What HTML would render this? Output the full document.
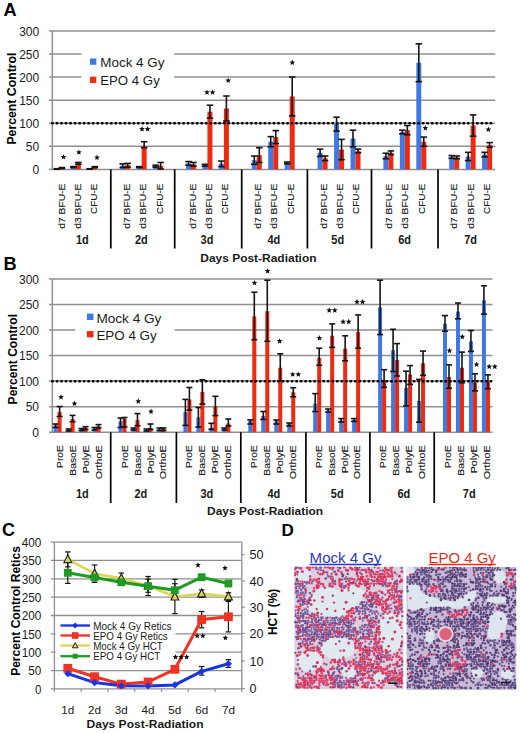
<!DOCTYPE html>
<html><head><meta charset="utf-8"><style>
html,body{margin:0;padding:0;background:#fff;}
svg{display:block;}
text{font-family:"Liberation Sans", sans-serif;}
</style></head><body>
<svg width="520" height="733" viewBox="0 0 520 733">
<rect width="520" height="733" fill="#fff"/>
<text x="3.6" y="16.2" font-size="18.2" font-weight="bold">A</text>
<line x1="49" y1="146.31" x2="495.2" y2="146.31" stroke="#8f8f8f" stroke-width="1.5"/>
<line x1="49" y1="123.23" x2="495.2" y2="123.23" stroke="#8f8f8f" stroke-width="1.5"/>
<line x1="49" y1="100.15" x2="495.2" y2="100.15" stroke="#8f8f8f" stroke-width="1.5"/>
<line x1="49" y1="77.06" x2="495.2" y2="77.06" stroke="#8f8f8f" stroke-width="1.5"/>
<line x1="49" y1="53.98" x2="495.2" y2="53.98" stroke="#8f8f8f" stroke-width="1.5"/>
<line x1="49" y1="30.89" x2="495.2" y2="30.89" stroke="#8f8f8f" stroke-width="1.5"/>
<rect x="81.5" y="48" width="92.7" height="44" fill="#fff"/>
<line x1="52.3" y1="30.9" x2="52.3" y2="169.4" stroke="#8f8f8f" stroke-width="1.5"/>
<line x1="49" y1="169.4" x2="495.2" y2="169.4" stroke="#8f8f8f" stroke-width="1.5"/>
<text x="39.2" y="174.1" font-size="12" text-anchor="end" fill="#1a1a1a">0</text>
<text x="39.2" y="151.01" font-size="12" text-anchor="end" fill="#1a1a1a">50</text>
<text x="39.2" y="127.93" font-size="12" text-anchor="end" fill="#1a1a1a">100</text>
<text x="39.2" y="104.85" font-size="12" text-anchor="end" fill="#1a1a1a">150</text>
<text x="39.2" y="81.76" font-size="12" text-anchor="end" fill="#1a1a1a">200</text>
<text x="39.2" y="58.68" font-size="12" text-anchor="end" fill="#1a1a1a">250</text>
<text x="39.2" y="35.59" font-size="12" text-anchor="end" fill="#1a1a1a">300</text>
<text transform="translate(15.6,98.6) rotate(-90)" font-size="12.3" font-weight="bold" text-anchor="middle" textLength="92" lengthAdjust="spacingAndGlyphs">Percent Control</text>
<rect x="54.4" y="168.94" width="5" height="0.46" fill="#4079e6"/>
<rect x="59.4" y="168.01" width="5" height="1.39" fill="#ee2a10"/>
<rect x="70.85" y="167.09" width="5" height="2.31" fill="#4079e6"/>
<rect x="75.85" y="163.4" width="5" height="6" fill="#ee2a10"/>
<rect x="87.3" y="168.94" width="5" height="0.46" fill="#4079e6"/>
<rect x="92.3" y="167.09" width="5" height="2.31" fill="#ee2a10"/>
<rect x="120.2" y="165.71" width="5" height="3.69" fill="#4079e6"/>
<rect x="125.2" y="165.24" width="5" height="4.16" fill="#ee2a10"/>
<rect x="136.65" y="167.09" width="5" height="2.31" fill="#4079e6"/>
<rect x="141.65" y="146.31" width="5" height="23.09" fill="#ee2a10"/>
<rect x="153.1" y="166.17" width="5" height="3.23" fill="#4079e6"/>
<rect x="158.1" y="165.71" width="5" height="3.69" fill="#ee2a10"/>
<rect x="186" y="163.4" width="5" height="6" fill="#4079e6"/>
<rect x="191" y="164.32" width="5" height="5.08" fill="#ee2a10"/>
<rect x="202.45" y="165.24" width="5" height="4.16" fill="#4079e6"/>
<rect x="207.45" y="111.69" width="5" height="57.71" fill="#ee2a10"/>
<rect x="218.9" y="163.86" width="5" height="5.54" fill="#4079e6"/>
<rect x="223.9" y="108.46" width="5" height="60.94" fill="#ee2a10"/>
<rect x="251.8" y="160.17" width="5" height="9.23" fill="#4079e6"/>
<rect x="256.8" y="155.09" width="5" height="14.31" fill="#ee2a10"/>
<rect x="268.25" y="141.7" width="5" height="27.7" fill="#4079e6"/>
<rect x="273.25" y="137.08" width="5" height="32.32" fill="#ee2a10"/>
<rect x="284.7" y="162.94" width="5" height="6.46" fill="#4079e6"/>
<rect x="289.7" y="96.45" width="5" height="72.95" fill="#ee2a10"/>
<rect x="317.6" y="152.78" width="5" height="16.62" fill="#4079e6"/>
<rect x="322.6" y="158.32" width="5" height="11.08" fill="#ee2a10"/>
<rect x="334.05" y="124.15" width="5" height="45.25" fill="#4079e6"/>
<rect x="339.05" y="149.55" width="5" height="19.85" fill="#ee2a10"/>
<rect x="350.5" y="138.47" width="5" height="30.93" fill="#4079e6"/>
<rect x="355.5" y="150.93" width="5" height="18.47" fill="#ee2a10"/>
<rect x="383.4" y="156.01" width="5" height="13.39" fill="#4079e6"/>
<rect x="388.4" y="152.78" width="5" height="16.62" fill="#ee2a10"/>
<rect x="399.85" y="132" width="5" height="37.4" fill="#4079e6"/>
<rect x="404.85" y="130.16" width="5" height="39.24" fill="#ee2a10"/>
<rect x="416.3" y="62.75" width="5" height="106.65" fill="#4079e6"/>
<rect x="421.3" y="141.7" width="5" height="27.7" fill="#ee2a10"/>
<rect x="449.2" y="156.93" width="5" height="12.47" fill="#4079e6"/>
<rect x="454.2" y="157.4" width="5" height="12" fill="#ee2a10"/>
<rect x="465.65" y="156.47" width="5" height="12.93" fill="#4079e6"/>
<rect x="470.65" y="125.54" width="5" height="43.86" fill="#ee2a10"/>
<rect x="482.1" y="154.63" width="5" height="14.77" fill="#4079e6"/>
<rect x="487.1" y="144.93" width="5" height="24.47" fill="#ee2a10"/>
<line x1="52.2" y1="123.3" x2="492" y2="123.3" stroke="#000" stroke-width="2.4" stroke-dasharray="0.6 3.92" stroke-linecap="round"/>
<line x1="56.9" y1="168.71" x2="56.9" y2="169.17" stroke="#151515" stroke-width="1.6"/>
<line x1="53.65" y1="168.71" x2="60.15" y2="168.71" stroke="#151515" stroke-width="1.6"/>
<line x1="53.65" y1="169.17" x2="60.15" y2="169.17" stroke="#151515" stroke-width="1.6"/>
<line x1="61.9" y1="167.55" x2="61.9" y2="168.48" stroke="#151515" stroke-width="1.6"/>
<line x1="58.65" y1="167.55" x2="65.15" y2="167.55" stroke="#151515" stroke-width="1.6"/>
<line x1="58.65" y1="168.48" x2="65.15" y2="168.48" stroke="#151515" stroke-width="1.6"/>
<line x1="73.35" y1="166.63" x2="73.35" y2="167.55" stroke="#151515" stroke-width="1.6"/>
<line x1="70.1" y1="166.63" x2="76.6" y2="166.63" stroke="#151515" stroke-width="1.6"/>
<line x1="70.1" y1="167.55" x2="76.6" y2="167.55" stroke="#151515" stroke-width="1.6"/>
<line x1="78.35" y1="162.47" x2="78.35" y2="164.32" stroke="#151515" stroke-width="1.6"/>
<line x1="75.1" y1="162.47" x2="81.6" y2="162.47" stroke="#151515" stroke-width="1.6"/>
<line x1="75.1" y1="164.32" x2="81.6" y2="164.32" stroke="#151515" stroke-width="1.6"/>
<line x1="89.8" y1="168.71" x2="89.8" y2="169.17" stroke="#151515" stroke-width="1.6"/>
<line x1="86.55" y1="168.71" x2="93.05" y2="168.71" stroke="#151515" stroke-width="1.6"/>
<line x1="86.55" y1="169.17" x2="93.05" y2="169.17" stroke="#151515" stroke-width="1.6"/>
<line x1="94.8" y1="166.63" x2="94.8" y2="167.55" stroke="#151515" stroke-width="1.6"/>
<line x1="91.55" y1="166.63" x2="98.05" y2="166.63" stroke="#151515" stroke-width="1.6"/>
<line x1="91.55" y1="167.55" x2="98.05" y2="167.55" stroke="#151515" stroke-width="1.6"/>
<line x1="122.7" y1="163.86" x2="122.7" y2="167.55" stroke="#151515" stroke-width="1.6"/>
<line x1="119.45" y1="163.86" x2="125.95" y2="163.86" stroke="#151515" stroke-width="1.6"/>
<line x1="119.45" y1="167.55" x2="125.95" y2="167.55" stroke="#151515" stroke-width="1.6"/>
<line x1="127.7" y1="163.4" x2="127.7" y2="167.09" stroke="#151515" stroke-width="1.6"/>
<line x1="124.45" y1="163.4" x2="130.95" y2="163.4" stroke="#151515" stroke-width="1.6"/>
<line x1="124.45" y1="167.09" x2="130.95" y2="167.09" stroke="#151515" stroke-width="1.6"/>
<line x1="139.15" y1="166.63" x2="139.15" y2="167.55" stroke="#151515" stroke-width="1.6"/>
<line x1="135.9" y1="166.63" x2="142.4" y2="166.63" stroke="#151515" stroke-width="1.6"/>
<line x1="135.9" y1="167.55" x2="142.4" y2="167.55" stroke="#151515" stroke-width="1.6"/>
<line x1="144.15" y1="141.7" x2="144.15" y2="147.7" stroke="#151515" stroke-width="1.6"/>
<line x1="140.9" y1="141.7" x2="147.4" y2="141.7" stroke="#151515" stroke-width="1.6"/>
<line x1="140.9" y1="147.7" x2="147.4" y2="147.7" stroke="#151515" stroke-width="1.6"/>
<line x1="155.6" y1="165.24" x2="155.6" y2="167.09" stroke="#151515" stroke-width="1.6"/>
<line x1="152.35" y1="165.24" x2="158.85" y2="165.24" stroke="#151515" stroke-width="1.6"/>
<line x1="152.35" y1="167.09" x2="158.85" y2="167.09" stroke="#151515" stroke-width="1.6"/>
<line x1="160.6" y1="162.47" x2="160.6" y2="168.94" stroke="#151515" stroke-width="1.6"/>
<line x1="157.35" y1="162.47" x2="163.85" y2="162.47" stroke="#151515" stroke-width="1.6"/>
<line x1="157.35" y1="168.94" x2="163.85" y2="168.94" stroke="#151515" stroke-width="1.6"/>
<line x1="188.5" y1="161.55" x2="188.5" y2="165.24" stroke="#151515" stroke-width="1.6"/>
<line x1="185.25" y1="161.55" x2="191.75" y2="161.55" stroke="#151515" stroke-width="1.6"/>
<line x1="185.25" y1="165.24" x2="191.75" y2="165.24" stroke="#151515" stroke-width="1.6"/>
<line x1="193.5" y1="162.47" x2="193.5" y2="166.17" stroke="#151515" stroke-width="1.6"/>
<line x1="190.25" y1="162.47" x2="196.75" y2="162.47" stroke="#151515" stroke-width="1.6"/>
<line x1="190.25" y1="166.17" x2="196.75" y2="166.17" stroke="#151515" stroke-width="1.6"/>
<line x1="204.95" y1="164.32" x2="204.95" y2="166.17" stroke="#151515" stroke-width="1.6"/>
<line x1="201.7" y1="164.32" x2="208.2" y2="164.32" stroke="#151515" stroke-width="1.6"/>
<line x1="201.7" y1="166.17" x2="208.2" y2="166.17" stroke="#151515" stroke-width="1.6"/>
<line x1="209.95" y1="105.22" x2="209.95" y2="118.15" stroke="#151515" stroke-width="1.6"/>
<line x1="206.7" y1="105.22" x2="213.2" y2="105.22" stroke="#151515" stroke-width="1.6"/>
<line x1="206.7" y1="118.15" x2="213.2" y2="118.15" stroke="#151515" stroke-width="1.6"/>
<line x1="221.4" y1="161.09" x2="221.4" y2="166.63" stroke="#151515" stroke-width="1.6"/>
<line x1="218.15" y1="161.09" x2="224.65" y2="161.09" stroke="#151515" stroke-width="1.6"/>
<line x1="218.15" y1="166.63" x2="224.65" y2="166.63" stroke="#151515" stroke-width="1.6"/>
<line x1="226.4" y1="95.99" x2="226.4" y2="120.92" stroke="#151515" stroke-width="1.6"/>
<line x1="223.15" y1="95.99" x2="229.65" y2="95.99" stroke="#151515" stroke-width="1.6"/>
<line x1="223.15" y1="120.92" x2="229.65" y2="120.92" stroke="#151515" stroke-width="1.6"/>
<line x1="254.3" y1="156.01" x2="254.3" y2="164.32" stroke="#151515" stroke-width="1.6"/>
<line x1="251.05" y1="156.01" x2="257.55" y2="156.01" stroke="#151515" stroke-width="1.6"/>
<line x1="251.05" y1="164.32" x2="257.55" y2="164.32" stroke="#151515" stroke-width="1.6"/>
<line x1="259.3" y1="147.7" x2="259.3" y2="162.47" stroke="#151515" stroke-width="1.6"/>
<line x1="256.05" y1="147.7" x2="262.55" y2="147.7" stroke="#151515" stroke-width="1.6"/>
<line x1="256.05" y1="162.47" x2="262.55" y2="162.47" stroke="#151515" stroke-width="1.6"/>
<line x1="270.75" y1="136.62" x2="270.75" y2="146.78" stroke="#151515" stroke-width="1.6"/>
<line x1="267.5" y1="136.62" x2="274" y2="136.62" stroke="#151515" stroke-width="1.6"/>
<line x1="267.5" y1="146.78" x2="274" y2="146.78" stroke="#151515" stroke-width="1.6"/>
<line x1="275.75" y1="130.62" x2="275.75" y2="143.54" stroke="#151515" stroke-width="1.6"/>
<line x1="272.5" y1="130.62" x2="279" y2="130.62" stroke="#151515" stroke-width="1.6"/>
<line x1="272.5" y1="143.54" x2="279" y2="143.54" stroke="#151515" stroke-width="1.6"/>
<line x1="287.2" y1="162.01" x2="287.2" y2="163.86" stroke="#151515" stroke-width="1.6"/>
<line x1="283.95" y1="162.01" x2="290.45" y2="162.01" stroke="#151515" stroke-width="1.6"/>
<line x1="283.95" y1="163.86" x2="290.45" y2="163.86" stroke="#151515" stroke-width="1.6"/>
<line x1="292.2" y1="77.06" x2="292.2" y2="115.84" stroke="#151515" stroke-width="1.6"/>
<line x1="288.95" y1="77.06" x2="295.45" y2="77.06" stroke="#151515" stroke-width="1.6"/>
<line x1="288.95" y1="115.84" x2="295.45" y2="115.84" stroke="#151515" stroke-width="1.6"/>
<line x1="320.1" y1="149.09" x2="320.1" y2="156.47" stroke="#151515" stroke-width="1.6"/>
<line x1="316.85" y1="149.09" x2="323.35" y2="149.09" stroke="#151515" stroke-width="1.6"/>
<line x1="316.85" y1="156.47" x2="323.35" y2="156.47" stroke="#151515" stroke-width="1.6"/>
<line x1="325.1" y1="156.01" x2="325.1" y2="160.63" stroke="#151515" stroke-width="1.6"/>
<line x1="321.85" y1="156.01" x2="328.35" y2="156.01" stroke="#151515" stroke-width="1.6"/>
<line x1="321.85" y1="160.63" x2="328.35" y2="160.63" stroke="#151515" stroke-width="1.6"/>
<line x1="336.55" y1="117.23" x2="336.55" y2="131.08" stroke="#151515" stroke-width="1.6"/>
<line x1="333.3" y1="117.23" x2="339.8" y2="117.23" stroke="#151515" stroke-width="1.6"/>
<line x1="333.3" y1="131.08" x2="339.8" y2="131.08" stroke="#151515" stroke-width="1.6"/>
<line x1="341.55" y1="139.39" x2="341.55" y2="159.7" stroke="#151515" stroke-width="1.6"/>
<line x1="338.3" y1="139.39" x2="344.8" y2="139.39" stroke="#151515" stroke-width="1.6"/>
<line x1="338.3" y1="159.7" x2="344.8" y2="159.7" stroke="#151515" stroke-width="1.6"/>
<line x1="353" y1="130.16" x2="353" y2="146.78" stroke="#151515" stroke-width="1.6"/>
<line x1="349.75" y1="130.16" x2="356.25" y2="130.16" stroke="#151515" stroke-width="1.6"/>
<line x1="349.75" y1="146.78" x2="356.25" y2="146.78" stroke="#151515" stroke-width="1.6"/>
<line x1="358" y1="149.09" x2="358" y2="152.78" stroke="#151515" stroke-width="1.6"/>
<line x1="354.75" y1="149.09" x2="361.25" y2="149.09" stroke="#151515" stroke-width="1.6"/>
<line x1="354.75" y1="152.78" x2="361.25" y2="152.78" stroke="#151515" stroke-width="1.6"/>
<line x1="385.9" y1="153.24" x2="385.9" y2="158.78" stroke="#151515" stroke-width="1.6"/>
<line x1="382.65" y1="153.24" x2="389.15" y2="153.24" stroke="#151515" stroke-width="1.6"/>
<line x1="382.65" y1="158.78" x2="389.15" y2="158.78" stroke="#151515" stroke-width="1.6"/>
<line x1="390.9" y1="150.93" x2="390.9" y2="154.63" stroke="#151515" stroke-width="1.6"/>
<line x1="387.65" y1="150.93" x2="394.15" y2="150.93" stroke="#151515" stroke-width="1.6"/>
<line x1="387.65" y1="154.63" x2="394.15" y2="154.63" stroke="#151515" stroke-width="1.6"/>
<line x1="402.35" y1="130.16" x2="402.35" y2="133.85" stroke="#151515" stroke-width="1.6"/>
<line x1="399.1" y1="130.16" x2="405.6" y2="130.16" stroke="#151515" stroke-width="1.6"/>
<line x1="399.1" y1="133.85" x2="405.6" y2="133.85" stroke="#151515" stroke-width="1.6"/>
<line x1="407.35" y1="125.54" x2="407.35" y2="134.77" stroke="#151515" stroke-width="1.6"/>
<line x1="404.1" y1="125.54" x2="410.6" y2="125.54" stroke="#151515" stroke-width="1.6"/>
<line x1="404.1" y1="134.77" x2="410.6" y2="134.77" stroke="#151515" stroke-width="1.6"/>
<line x1="418.8" y1="43.82" x2="418.8" y2="81.68" stroke="#151515" stroke-width="1.6"/>
<line x1="415.55" y1="43.82" x2="422.05" y2="43.82" stroke="#151515" stroke-width="1.6"/>
<line x1="415.55" y1="81.68" x2="422.05" y2="81.68" stroke="#151515" stroke-width="1.6"/>
<line x1="423.8" y1="137.08" x2="423.8" y2="146.31" stroke="#151515" stroke-width="1.6"/>
<line x1="420.55" y1="137.08" x2="427.05" y2="137.08" stroke="#151515" stroke-width="1.6"/>
<line x1="420.55" y1="146.31" x2="427.05" y2="146.31" stroke="#151515" stroke-width="1.6"/>
<line x1="451.7" y1="155.55" x2="451.7" y2="158.32" stroke="#151515" stroke-width="1.6"/>
<line x1="448.45" y1="155.55" x2="454.95" y2="155.55" stroke="#151515" stroke-width="1.6"/>
<line x1="448.45" y1="158.32" x2="454.95" y2="158.32" stroke="#151515" stroke-width="1.6"/>
<line x1="456.7" y1="156.01" x2="456.7" y2="158.78" stroke="#151515" stroke-width="1.6"/>
<line x1="453.45" y1="156.01" x2="459.95" y2="156.01" stroke="#151515" stroke-width="1.6"/>
<line x1="453.45" y1="158.78" x2="459.95" y2="158.78" stroke="#151515" stroke-width="1.6"/>
<line x1="468.15" y1="152.32" x2="468.15" y2="160.63" stroke="#151515" stroke-width="1.6"/>
<line x1="464.9" y1="152.32" x2="471.4" y2="152.32" stroke="#151515" stroke-width="1.6"/>
<line x1="464.9" y1="160.63" x2="471.4" y2="160.63" stroke="#151515" stroke-width="1.6"/>
<line x1="473.15" y1="114.92" x2="473.15" y2="136.16" stroke="#151515" stroke-width="1.6"/>
<line x1="469.9" y1="114.92" x2="476.4" y2="114.92" stroke="#151515" stroke-width="1.6"/>
<line x1="469.9" y1="136.16" x2="476.4" y2="136.16" stroke="#151515" stroke-width="1.6"/>
<line x1="484.6" y1="152.32" x2="484.6" y2="156.93" stroke="#151515" stroke-width="1.6"/>
<line x1="481.35" y1="152.32" x2="487.85" y2="152.32" stroke="#151515" stroke-width="1.6"/>
<line x1="481.35" y1="156.93" x2="487.85" y2="156.93" stroke="#151515" stroke-width="1.6"/>
<line x1="489.6" y1="142.62" x2="489.6" y2="147.24" stroke="#151515" stroke-width="1.6"/>
<line x1="486.35" y1="142.62" x2="492.85" y2="142.62" stroke="#151515" stroke-width="1.6"/>
<line x1="486.35" y1="147.24" x2="492.85" y2="147.24" stroke="#151515" stroke-width="1.6"/>
<polygon points="63.5,154 64.29,155.91 66.35,156.07 64.78,157.42 65.26,159.43 63.5,158.35 61.74,159.43 62.22,157.42 60.65,156.07 62.71,155.91" fill="#111"/>
<polygon points="78.9,149.4 79.69,151.31 81.75,151.47 80.18,152.82 80.66,154.83 78.9,153.75 77.14,154.83 77.62,152.82 76.05,151.47 78.11,151.31" fill="#111"/>
<polygon points="97,154.6 97.79,156.51 99.85,156.67 98.28,158.02 98.76,160.03 97,158.95 95.24,160.03 95.72,158.02 94.15,156.67 96.21,156.51" fill="#111"/>
<polygon points="142,126.1 142.79,128.01 144.85,128.17 143.28,129.52 143.76,131.53 142,130.45 140.24,131.53 140.72,129.52 139.15,128.17 141.21,128.01" fill="#111"/>
<polygon points="147.6,126.1 148.39,128.01 150.45,128.17 148.88,129.52 149.36,131.53 147.6,130.45 145.84,131.53 146.32,129.52 144.75,128.17 146.81,128.01" fill="#111"/>
<polygon points="207,89.4 207.79,91.31 209.85,91.47 208.28,92.82 208.76,94.83 207,93.75 205.24,94.83 205.72,92.82 204.15,91.47 206.21,91.31" fill="#111"/>
<polygon points="212.6,89.4 213.39,91.31 215.45,91.47 213.88,92.82 214.36,94.83 212.6,93.75 210.84,94.83 211.32,92.82 209.75,91.47 211.81,91.31" fill="#111"/>
<polygon points="228.2,77.5 228.99,79.41 231.05,79.57 229.48,80.92 229.96,82.93 228.2,81.85 226.44,82.93 226.92,80.92 225.35,79.57 227.41,79.41" fill="#111"/>
<polygon points="292.3,59.6 293.09,61.51 295.15,61.67 293.58,63.02 294.06,65.03 292.3,63.95 290.54,65.03 291.02,63.02 289.45,61.67 291.51,61.51" fill="#111"/>
<polygon points="425.3,125.2 426.09,127.11 428.15,127.27 426.58,128.62 427.06,130.63 425.3,129.55 423.54,130.63 424.02,128.62 422.45,127.27 424.51,127.11" fill="#111"/>
<polygon points="488.4,126.5 489.19,128.41 491.25,128.57 489.68,129.92 490.16,131.93 488.4,130.85 486.64,131.93 487.12,129.92 485.55,128.57 487.61,128.41" fill="#111"/>
<rect x="90" y="58.5" width="6.3" height="6.3" fill="#4079e6"/>
<rect x="90" y="76.7" width="6.3" height="6.3" fill="#ee2a10"/>
<text x="100.2" y="66.8" font-size="12.5" fill="#1a1a1a" textLength="64.4" lengthAdjust="spacingAndGlyphs">Mock 4 Gy</text>
<text x="100.2" y="85" font-size="12.5" fill="#1a1a1a" textLength="59.6" lengthAdjust="spacingAndGlyphs">EPO 4 Gy</text>
<line x1="110.8" y1="169.4" x2="110.8" y2="248.5" stroke="#000" stroke-width="1.7"/>
<line x1="174.7" y1="169.4" x2="174.7" y2="248.5" stroke="#000" stroke-width="1.7"/>
<line x1="241.7" y1="169.4" x2="241.7" y2="248.5" stroke="#000" stroke-width="1.7"/>
<line x1="307.4" y1="169.4" x2="307.4" y2="248.5" stroke="#000" stroke-width="1.7"/>
<line x1="371.5" y1="169.4" x2="371.5" y2="248.5" stroke="#000" stroke-width="1.7"/>
<line x1="438" y1="169.4" x2="438" y2="248.5" stroke="#000" stroke-width="1.7"/>
<text transform="translate(64.6,183.6) rotate(-90)" font-size="9.7" text-anchor="end" fill="#1a1a1a" textLength="45.2" lengthAdjust="spacingAndGlyphs" stroke="#1a1a1a" stroke-width="0.12">d7 BFU-E</text>
<text transform="translate(80.97,183.6) rotate(-90)" font-size="9.7" text-anchor="end" fill="#1a1a1a" textLength="45.2" lengthAdjust="spacingAndGlyphs" stroke="#1a1a1a" stroke-width="0.12">d3 BFU-E</text>
<text transform="translate(97.34,183.6) rotate(-90)" font-size="9.7" text-anchor="end" fill="#1a1a1a" textLength="30.4" lengthAdjust="spacingAndGlyphs" stroke="#1a1a1a" stroke-width="0.12">CFU-E</text>
<text transform="translate(130.08,183.6) rotate(-90)" font-size="9.7" text-anchor="end" fill="#1a1a1a" textLength="45.2" lengthAdjust="spacingAndGlyphs" stroke="#1a1a1a" stroke-width="0.12">d7 BFU-E</text>
<text transform="translate(146.45,183.6) rotate(-90)" font-size="9.7" text-anchor="end" fill="#1a1a1a" textLength="45.2" lengthAdjust="spacingAndGlyphs" stroke="#1a1a1a" stroke-width="0.12">d3 BFU-E</text>
<text transform="translate(162.82,183.6) rotate(-90)" font-size="9.7" text-anchor="end" fill="#1a1a1a" textLength="30.4" lengthAdjust="spacingAndGlyphs" stroke="#1a1a1a" stroke-width="0.12">CFU-E</text>
<text transform="translate(195.56,183.6) rotate(-90)" font-size="9.7" text-anchor="end" fill="#1a1a1a" textLength="45.2" lengthAdjust="spacingAndGlyphs" stroke="#1a1a1a" stroke-width="0.12">d7 BFU-E</text>
<text transform="translate(211.93,183.6) rotate(-90)" font-size="9.7" text-anchor="end" fill="#1a1a1a" textLength="45.2" lengthAdjust="spacingAndGlyphs" stroke="#1a1a1a" stroke-width="0.12">d3 BFU-E</text>
<text transform="translate(228.3,183.6) rotate(-90)" font-size="9.7" text-anchor="end" fill="#1a1a1a" textLength="30.4" lengthAdjust="spacingAndGlyphs" stroke="#1a1a1a" stroke-width="0.12">CFU-E</text>
<text transform="translate(261.04,183.6) rotate(-90)" font-size="9.7" text-anchor="end" fill="#1a1a1a" textLength="45.2" lengthAdjust="spacingAndGlyphs" stroke="#1a1a1a" stroke-width="0.12">d7 BFU-E</text>
<text transform="translate(277.41,183.6) rotate(-90)" font-size="9.7" text-anchor="end" fill="#1a1a1a" textLength="45.2" lengthAdjust="spacingAndGlyphs" stroke="#1a1a1a" stroke-width="0.12">d3 BFU-E</text>
<text transform="translate(293.78,183.6) rotate(-90)" font-size="9.7" text-anchor="end" fill="#1a1a1a" textLength="30.4" lengthAdjust="spacingAndGlyphs" stroke="#1a1a1a" stroke-width="0.12">CFU-E</text>
<text transform="translate(326.52,183.6) rotate(-90)" font-size="9.7" text-anchor="end" fill="#1a1a1a" textLength="45.2" lengthAdjust="spacingAndGlyphs" stroke="#1a1a1a" stroke-width="0.12">d7 BFU-E</text>
<text transform="translate(342.89,183.6) rotate(-90)" font-size="9.7" text-anchor="end" fill="#1a1a1a" textLength="45.2" lengthAdjust="spacingAndGlyphs" stroke="#1a1a1a" stroke-width="0.12">d3 BFU-E</text>
<text transform="translate(359.26,183.6) rotate(-90)" font-size="9.7" text-anchor="end" fill="#1a1a1a" textLength="30.4" lengthAdjust="spacingAndGlyphs" stroke="#1a1a1a" stroke-width="0.12">CFU-E</text>
<text transform="translate(392,183.6) rotate(-90)" font-size="9.7" text-anchor="end" fill="#1a1a1a" textLength="45.2" lengthAdjust="spacingAndGlyphs" stroke="#1a1a1a" stroke-width="0.12">d7 BFU-E</text>
<text transform="translate(408.37,183.6) rotate(-90)" font-size="9.7" text-anchor="end" fill="#1a1a1a" textLength="45.2" lengthAdjust="spacingAndGlyphs" stroke="#1a1a1a" stroke-width="0.12">d3 BFU-E</text>
<text transform="translate(424.74,183.6) rotate(-90)" font-size="9.7" text-anchor="end" fill="#1a1a1a" textLength="30.4" lengthAdjust="spacingAndGlyphs" stroke="#1a1a1a" stroke-width="0.12">CFU-E</text>
<text transform="translate(457.48,183.6) rotate(-90)" font-size="9.7" text-anchor="end" fill="#1a1a1a" textLength="45.2" lengthAdjust="spacingAndGlyphs" stroke="#1a1a1a" stroke-width="0.12">d7 BFU-E</text>
<text transform="translate(473.85,183.6) rotate(-90)" font-size="9.7" text-anchor="end" fill="#1a1a1a" textLength="45.2" lengthAdjust="spacingAndGlyphs" stroke="#1a1a1a" stroke-width="0.12">d3 BFU-E</text>
<text transform="translate(490.22,183.6) rotate(-90)" font-size="9.7" text-anchor="end" fill="#1a1a1a" textLength="30.4" lengthAdjust="spacingAndGlyphs" stroke="#1a1a1a" stroke-width="0.12">CFU-E</text>
<text x="82.3" y="243.9" font-size="12.3" font-weight="bold" text-anchor="middle" fill="#1a1a1a" textLength="12.8" lengthAdjust="spacingAndGlyphs">1d</text>
<text x="141.4" y="243.9" font-size="12.3" font-weight="bold" text-anchor="middle" fill="#1a1a1a" textLength="12.8" lengthAdjust="spacingAndGlyphs">2d</text>
<text x="207" y="243.9" font-size="12.3" font-weight="bold" text-anchor="middle" fill="#1a1a1a" textLength="12.8" lengthAdjust="spacingAndGlyphs">3d</text>
<text x="273.8" y="243.9" font-size="12.3" font-weight="bold" text-anchor="middle" fill="#1a1a1a" textLength="12.8" lengthAdjust="spacingAndGlyphs">4d</text>
<text x="337.7" y="243.9" font-size="12.3" font-weight="bold" text-anchor="middle" fill="#1a1a1a" textLength="12.8" lengthAdjust="spacingAndGlyphs">5d</text>
<text x="404.6" y="243.9" font-size="12.3" font-weight="bold" text-anchor="middle" fill="#1a1a1a" textLength="12.8" lengthAdjust="spacingAndGlyphs">6d</text>
<text x="470.6" y="243.9" font-size="12.3" font-weight="bold" text-anchor="middle" fill="#1a1a1a" textLength="12.8" lengthAdjust="spacingAndGlyphs">7d</text>
<text x="258.4" y="261.8" font-size="11.5" font-weight="bold" text-anchor="middle" fill="#1a1a1a" textLength="116.3" lengthAdjust="spacingAndGlyphs">Days Post-Radiation</text>
<text x="3.6" y="270" font-size="18.2" font-weight="bold">B</text>
<line x1="49" y1="406.65" x2="492.5" y2="406.65" stroke="#8f8f8f" stroke-width="1.5"/>
<line x1="49" y1="381.1" x2="492.5" y2="381.1" stroke="#8f8f8f" stroke-width="1.5"/>
<line x1="49" y1="355.55" x2="492.5" y2="355.55" stroke="#8f8f8f" stroke-width="1.5"/>
<line x1="49" y1="330" x2="492.5" y2="330" stroke="#8f8f8f" stroke-width="1.5"/>
<line x1="49" y1="304.45" x2="492.5" y2="304.45" stroke="#8f8f8f" stroke-width="1.5"/>
<line x1="49" y1="278.9" x2="492.5" y2="278.9" stroke="#8f8f8f" stroke-width="1.5"/>
<rect x="75.3" y="322" width="99.4" height="22" fill="#fff"/>
<line x1="52.3" y1="279.3" x2="52.3" y2="432.2" stroke="#8f8f8f" stroke-width="1.5"/>
<line x1="49" y1="432.2" x2="492.5" y2="432.2" stroke="#8f8f8f" stroke-width="1.5"/>
<text x="39" y="437" font-size="12" text-anchor="end" fill="#1a1a1a">0</text>
<text x="39" y="411.45" font-size="12" text-anchor="end" fill="#1a1a1a">50</text>
<text x="39" y="385.9" font-size="12" text-anchor="end" fill="#1a1a1a">100</text>
<text x="39" y="360.35" font-size="12" text-anchor="end" fill="#1a1a1a">150</text>
<text x="39" y="334.8" font-size="12" text-anchor="end" fill="#1a1a1a">200</text>
<text x="39" y="309.25" font-size="12" text-anchor="end" fill="#1a1a1a">250</text>
<text x="39" y="283.7" font-size="12" text-anchor="end" fill="#1a1a1a">300</text>
<text transform="translate(17,359.2) rotate(-90)" font-size="12.3" font-weight="bold" text-anchor="middle" textLength="90.4" lengthAdjust="spacingAndGlyphs">Percent Control</text>
<rect x="53.6" y="425.2" width="4" height="7" fill="#4079e6"/>
<rect x="57.6" y="412" width="4" height="20.2" fill="#ee2a10"/>
<rect x="66.58" y="430" width="4" height="2.2" fill="#4079e6"/>
<rect x="70.58" y="419" width="4" height="13.2" fill="#ee2a10"/>
<rect x="79.56" y="429.2" width="4" height="3" fill="#4079e6"/>
<rect x="83.56" y="428" width="4" height="4.2" fill="#ee2a10"/>
<rect x="92.54" y="428.6" width="4" height="3.6" fill="#4079e6"/>
<rect x="96.54" y="426.3" width="4" height="5.9" fill="#ee2a10"/>
<rect x="118.5" y="421.5" width="4" height="10.7" fill="#4079e6"/>
<rect x="122.5" y="419" width="4" height="13.2" fill="#ee2a10"/>
<rect x="131.48" y="429" width="4" height="3.2" fill="#4079e6"/>
<rect x="135.48" y="420" width="4" height="12.2" fill="#ee2a10"/>
<rect x="144.46" y="430" width="4" height="2.2" fill="#4079e6"/>
<rect x="148.46" y="428" width="4" height="4.2" fill="#ee2a10"/>
<rect x="157.44" y="429.2" width="4" height="3" fill="#4079e6"/>
<rect x="161.44" y="429.2" width="4" height="3" fill="#ee2a10"/>
<rect x="183.4" y="412.1" width="4" height="20.1" fill="#4079e6"/>
<rect x="187.4" y="399.4" width="4" height="32.8" fill="#ee2a10"/>
<rect x="196.38" y="417.3" width="4" height="14.9" fill="#4079e6"/>
<rect x="200.38" y="391.9" width="4" height="40.3" fill="#ee2a10"/>
<rect x="209.36" y="427.7" width="4" height="4.5" fill="#4079e6"/>
<rect x="213.36" y="406.3" width="4" height="25.9" fill="#ee2a10"/>
<rect x="222.34" y="428.8" width="4" height="3.4" fill="#4079e6"/>
<rect x="226.34" y="423.6" width="4" height="8.6" fill="#ee2a10"/>
<rect x="248.3" y="421.2" width="4" height="11" fill="#4079e6"/>
<rect x="252.3" y="316.4" width="4" height="115.8" fill="#ee2a10"/>
<rect x="261.28" y="416" width="4" height="16.2" fill="#4079e6"/>
<rect x="265.28" y="311.2" width="4" height="121" fill="#ee2a10"/>
<rect x="274.26" y="421.2" width="4" height="11" fill="#4079e6"/>
<rect x="278.26" y="367.8" width="4" height="64.4" fill="#ee2a10"/>
<rect x="287.24" y="424" width="4" height="8.2" fill="#4079e6"/>
<rect x="291.24" y="392.3" width="4" height="39.9" fill="#ee2a10"/>
<rect x="313.2" y="403.6" width="4" height="28.6" fill="#4079e6"/>
<rect x="317.2" y="357.8" width="4" height="74.4" fill="#ee2a10"/>
<rect x="326.18" y="410.6" width="4" height="21.6" fill="#4079e6"/>
<rect x="330.18" y="335.8" width="4" height="96.4" fill="#ee2a10"/>
<rect x="339.16" y="420.6" width="4" height="11.6" fill="#4079e6"/>
<rect x="343.16" y="348.8" width="4" height="83.4" fill="#ee2a10"/>
<rect x="352.14" y="420" width="4" height="12.2" fill="#4079e6"/>
<rect x="356.14" y="331.9" width="4" height="100.3" fill="#ee2a10"/>
<rect x="378.1" y="307.4" width="4" height="124.8" fill="#4079e6"/>
<rect x="382.1" y="379.9" width="4" height="52.3" fill="#ee2a10"/>
<rect x="391.08" y="350.4" width="4" height="81.8" fill="#4079e6"/>
<rect x="395.08" y="360.1" width="4" height="72.1" fill="#ee2a10"/>
<rect x="404.06" y="387.8" width="4" height="44.4" fill="#4079e6"/>
<rect x="408.06" y="374.6" width="4" height="57.6" fill="#ee2a10"/>
<rect x="417.04" y="400.9" width="4" height="31.3" fill="#4079e6"/>
<rect x="421.04" y="363.3" width="4" height="68.9" fill="#ee2a10"/>
<rect x="443" y="323.7" width="4" height="108.5" fill="#4079e6"/>
<rect x="447" y="377" width="4" height="55.2" fill="#ee2a10"/>
<rect x="455.98" y="311.6" width="4" height="120.6" fill="#4079e6"/>
<rect x="459.98" y="367.8" width="4" height="64.4" fill="#ee2a10"/>
<rect x="468.96" y="341.4" width="4" height="90.8" fill="#4079e6"/>
<rect x="472.96" y="382.8" width="4" height="49.4" fill="#ee2a10"/>
<rect x="481.94" y="300.3" width="4" height="131.9" fill="#4079e6"/>
<rect x="485.94" y="382.3" width="4" height="49.9" fill="#ee2a10"/>
<line x1="52.2" y1="381.2" x2="492" y2="381.2" stroke="#000" stroke-width="2.4" stroke-dasharray="0.6 3.92" stroke-linecap="round"/>
<line x1="55.6" y1="424" x2="55.6" y2="427.5" stroke="#151515" stroke-width="1.6"/>
<line x1="52.6" y1="424" x2="58.6" y2="424" stroke="#151515" stroke-width="1.6"/>
<line x1="52.6" y1="427.5" x2="58.6" y2="427.5" stroke="#151515" stroke-width="1.6"/>
<line x1="59.6" y1="406.5" x2="59.6" y2="416.5" stroke="#151515" stroke-width="1.6"/>
<line x1="56.6" y1="406.5" x2="62.6" y2="406.5" stroke="#151515" stroke-width="1.6"/>
<line x1="56.6" y1="416.5" x2="62.6" y2="416.5" stroke="#151515" stroke-width="1.6"/>
<line x1="68.58" y1="429" x2="68.58" y2="431" stroke="#151515" stroke-width="1.6"/>
<line x1="65.58" y1="429" x2="71.58" y2="429" stroke="#151515" stroke-width="1.6"/>
<line x1="65.58" y1="431" x2="71.58" y2="431" stroke="#151515" stroke-width="1.6"/>
<line x1="72.58" y1="415.4" x2="72.58" y2="421.7" stroke="#151515" stroke-width="1.6"/>
<line x1="69.58" y1="415.4" x2="75.58" y2="415.4" stroke="#151515" stroke-width="1.6"/>
<line x1="69.58" y1="421.7" x2="75.58" y2="421.7" stroke="#151515" stroke-width="1.6"/>
<line x1="81.56" y1="428.5" x2="81.56" y2="430.5" stroke="#151515" stroke-width="1.6"/>
<line x1="78.56" y1="428.5" x2="84.56" y2="428.5" stroke="#151515" stroke-width="1.6"/>
<line x1="78.56" y1="430.5" x2="84.56" y2="430.5" stroke="#151515" stroke-width="1.6"/>
<line x1="85.56" y1="426.7" x2="85.56" y2="429.5" stroke="#151515" stroke-width="1.6"/>
<line x1="82.56" y1="426.7" x2="88.56" y2="426.7" stroke="#151515" stroke-width="1.6"/>
<line x1="82.56" y1="429.5" x2="88.56" y2="429.5" stroke="#151515" stroke-width="1.6"/>
<line x1="94.54" y1="427.5" x2="94.54" y2="430" stroke="#151515" stroke-width="1.6"/>
<line x1="91.54" y1="427.5" x2="97.54" y2="427.5" stroke="#151515" stroke-width="1.6"/>
<line x1="91.54" y1="430" x2="97.54" y2="430" stroke="#151515" stroke-width="1.6"/>
<line x1="98.54" y1="424.6" x2="98.54" y2="428" stroke="#151515" stroke-width="1.6"/>
<line x1="95.54" y1="424.6" x2="101.54" y2="424.6" stroke="#151515" stroke-width="1.6"/>
<line x1="95.54" y1="428" x2="101.54" y2="428" stroke="#151515" stroke-width="1.6"/>
<line x1="120.5" y1="418" x2="120.5" y2="427.5" stroke="#151515" stroke-width="1.6"/>
<line x1="117.5" y1="418" x2="123.5" y2="418" stroke="#151515" stroke-width="1.6"/>
<line x1="117.5" y1="427.5" x2="123.5" y2="427.5" stroke="#151515" stroke-width="1.6"/>
<line x1="124.5" y1="417.5" x2="124.5" y2="427" stroke="#151515" stroke-width="1.6"/>
<line x1="121.5" y1="417.5" x2="127.5" y2="417.5" stroke="#151515" stroke-width="1.6"/>
<line x1="121.5" y1="427" x2="127.5" y2="427" stroke="#151515" stroke-width="1.6"/>
<line x1="133.48" y1="428" x2="133.48" y2="430" stroke="#151515" stroke-width="1.6"/>
<line x1="130.48" y1="428" x2="136.48" y2="428" stroke="#151515" stroke-width="1.6"/>
<line x1="130.48" y1="430" x2="136.48" y2="430" stroke="#151515" stroke-width="1.6"/>
<line x1="137.48" y1="413.6" x2="137.48" y2="425.7" stroke="#151515" stroke-width="1.6"/>
<line x1="134.48" y1="413.6" x2="140.48" y2="413.6" stroke="#151515" stroke-width="1.6"/>
<line x1="134.48" y1="425.7" x2="140.48" y2="425.7" stroke="#151515" stroke-width="1.6"/>
<line x1="146.46" y1="429" x2="146.46" y2="431" stroke="#151515" stroke-width="1.6"/>
<line x1="143.46" y1="429" x2="149.46" y2="429" stroke="#151515" stroke-width="1.6"/>
<line x1="143.46" y1="431" x2="149.46" y2="431" stroke="#151515" stroke-width="1.6"/>
<line x1="150.46" y1="424" x2="150.46" y2="429.5" stroke="#151515" stroke-width="1.6"/>
<line x1="147.46" y1="424" x2="153.46" y2="424" stroke="#151515" stroke-width="1.6"/>
<line x1="147.46" y1="429.5" x2="153.46" y2="429.5" stroke="#151515" stroke-width="1.6"/>
<line x1="159.44" y1="428" x2="159.44" y2="430.5" stroke="#151515" stroke-width="1.6"/>
<line x1="156.44" y1="428" x2="162.44" y2="428" stroke="#151515" stroke-width="1.6"/>
<line x1="156.44" y1="430.5" x2="162.44" y2="430.5" stroke="#151515" stroke-width="1.6"/>
<line x1="163.44" y1="428" x2="163.44" y2="430.5" stroke="#151515" stroke-width="1.6"/>
<line x1="160.44" y1="428" x2="166.44" y2="428" stroke="#151515" stroke-width="1.6"/>
<line x1="160.44" y1="430.5" x2="166.44" y2="430.5" stroke="#151515" stroke-width="1.6"/>
<line x1="185.4" y1="399.4" x2="185.4" y2="425.4" stroke="#151515" stroke-width="1.6"/>
<line x1="182.4" y1="399.4" x2="188.4" y2="399.4" stroke="#151515" stroke-width="1.6"/>
<line x1="182.4" y1="425.4" x2="188.4" y2="425.4" stroke="#151515" stroke-width="1.6"/>
<line x1="189.4" y1="387.5" x2="189.4" y2="410.1" stroke="#151515" stroke-width="1.6"/>
<line x1="186.4" y1="387.5" x2="192.4" y2="387.5" stroke="#151515" stroke-width="1.6"/>
<line x1="186.4" y1="410.1" x2="192.4" y2="410.1" stroke="#151515" stroke-width="1.6"/>
<line x1="198.38" y1="407.5" x2="198.38" y2="427.1" stroke="#151515" stroke-width="1.6"/>
<line x1="195.38" y1="407.5" x2="201.38" y2="407.5" stroke="#151515" stroke-width="1.6"/>
<line x1="195.38" y1="427.1" x2="201.38" y2="427.1" stroke="#151515" stroke-width="1.6"/>
<line x1="202.38" y1="379.8" x2="202.38" y2="404" stroke="#151515" stroke-width="1.6"/>
<line x1="199.38" y1="379.8" x2="205.38" y2="379.8" stroke="#151515" stroke-width="1.6"/>
<line x1="199.38" y1="404" x2="205.38" y2="404" stroke="#151515" stroke-width="1.6"/>
<line x1="211.36" y1="423.3" x2="211.36" y2="429.4" stroke="#151515" stroke-width="1.6"/>
<line x1="208.36" y1="423.3" x2="214.36" y2="423.3" stroke="#151515" stroke-width="1.6"/>
<line x1="208.36" y1="429.4" x2="214.36" y2="429.4" stroke="#151515" stroke-width="1.6"/>
<line x1="215.36" y1="396.3" x2="215.36" y2="415.6" stroke="#151515" stroke-width="1.6"/>
<line x1="212.36" y1="396.3" x2="218.36" y2="396.3" stroke="#151515" stroke-width="1.6"/>
<line x1="212.36" y1="415.6" x2="218.36" y2="415.6" stroke="#151515" stroke-width="1.6"/>
<line x1="224.34" y1="428" x2="224.34" y2="430" stroke="#151515" stroke-width="1.6"/>
<line x1="221.34" y1="428" x2="227.34" y2="428" stroke="#151515" stroke-width="1.6"/>
<line x1="221.34" y1="430" x2="227.34" y2="430" stroke="#151515" stroke-width="1.6"/>
<line x1="228.34" y1="419" x2="228.34" y2="426" stroke="#151515" stroke-width="1.6"/>
<line x1="225.34" y1="419" x2="231.34" y2="419" stroke="#151515" stroke-width="1.6"/>
<line x1="225.34" y1="426" x2="231.34" y2="426" stroke="#151515" stroke-width="1.6"/>
<line x1="250.3" y1="419.9" x2="250.3" y2="424" stroke="#151515" stroke-width="1.6"/>
<line x1="247.3" y1="419.9" x2="253.3" y2="419.9" stroke="#151515" stroke-width="1.6"/>
<line x1="247.3" y1="424" x2="253.3" y2="424" stroke="#151515" stroke-width="1.6"/>
<line x1="254.3" y1="292.2" x2="254.3" y2="339.7" stroke="#151515" stroke-width="1.6"/>
<line x1="251.3" y1="292.2" x2="257.3" y2="292.2" stroke="#151515" stroke-width="1.6"/>
<line x1="251.3" y1="339.7" x2="257.3" y2="339.7" stroke="#151515" stroke-width="1.6"/>
<line x1="263.28" y1="411.5" x2="263.28" y2="419.4" stroke="#151515" stroke-width="1.6"/>
<line x1="260.28" y1="411.5" x2="266.28" y2="411.5" stroke="#151515" stroke-width="1.6"/>
<line x1="260.28" y1="419.4" x2="266.28" y2="419.4" stroke="#151515" stroke-width="1.6"/>
<line x1="267.28" y1="280.2" x2="267.28" y2="341.3" stroke="#151515" stroke-width="1.6"/>
<line x1="264.28" y1="280.2" x2="270.28" y2="280.2" stroke="#151515" stroke-width="1.6"/>
<line x1="264.28" y1="341.3" x2="270.28" y2="341.3" stroke="#151515" stroke-width="1.6"/>
<line x1="276.26" y1="420" x2="276.26" y2="424" stroke="#151515" stroke-width="1.6"/>
<line x1="273.26" y1="420" x2="279.26" y2="420" stroke="#151515" stroke-width="1.6"/>
<line x1="273.26" y1="424" x2="279.26" y2="424" stroke="#151515" stroke-width="1.6"/>
<line x1="280.26" y1="353.8" x2="280.26" y2="380.9" stroke="#151515" stroke-width="1.6"/>
<line x1="277.26" y1="353.8" x2="283.26" y2="353.8" stroke="#151515" stroke-width="1.6"/>
<line x1="277.26" y1="380.9" x2="283.26" y2="380.9" stroke="#151515" stroke-width="1.6"/>
<line x1="289.24" y1="423" x2="289.24" y2="426" stroke="#151515" stroke-width="1.6"/>
<line x1="286.24" y1="423" x2="292.24" y2="423" stroke="#151515" stroke-width="1.6"/>
<line x1="286.24" y1="426" x2="292.24" y2="426" stroke="#151515" stroke-width="1.6"/>
<line x1="293.24" y1="387.7" x2="293.24" y2="396.8" stroke="#151515" stroke-width="1.6"/>
<line x1="290.24" y1="387.7" x2="296.24" y2="387.7" stroke="#151515" stroke-width="1.6"/>
<line x1="290.24" y1="396.8" x2="296.24" y2="396.8" stroke="#151515" stroke-width="1.6"/>
<line x1="315.2" y1="393.6" x2="315.2" y2="411.6" stroke="#151515" stroke-width="1.6"/>
<line x1="312.2" y1="393.6" x2="318.2" y2="393.6" stroke="#151515" stroke-width="1.6"/>
<line x1="312.2" y1="411.6" x2="318.2" y2="411.6" stroke="#151515" stroke-width="1.6"/>
<line x1="319.2" y1="348.2" x2="319.2" y2="365.3" stroke="#151515" stroke-width="1.6"/>
<line x1="316.2" y1="348.2" x2="322.2" y2="348.2" stroke="#151515" stroke-width="1.6"/>
<line x1="316.2" y1="365.3" x2="322.2" y2="365.3" stroke="#151515" stroke-width="1.6"/>
<line x1="328.18" y1="409" x2="328.18" y2="412" stroke="#151515" stroke-width="1.6"/>
<line x1="325.18" y1="409" x2="331.18" y2="409" stroke="#151515" stroke-width="1.6"/>
<line x1="325.18" y1="412" x2="331.18" y2="412" stroke="#151515" stroke-width="1.6"/>
<line x1="332.18" y1="323.9" x2="332.18" y2="347.4" stroke="#151515" stroke-width="1.6"/>
<line x1="329.18" y1="323.9" x2="335.18" y2="323.9" stroke="#151515" stroke-width="1.6"/>
<line x1="329.18" y1="347.4" x2="335.18" y2="347.4" stroke="#151515" stroke-width="1.6"/>
<line x1="341.16" y1="418.6" x2="341.16" y2="422" stroke="#151515" stroke-width="1.6"/>
<line x1="338.16" y1="418.6" x2="344.16" y2="418.6" stroke="#151515" stroke-width="1.6"/>
<line x1="338.16" y1="422" x2="344.16" y2="422" stroke="#151515" stroke-width="1.6"/>
<line x1="345.16" y1="335.8" x2="345.16" y2="360.8" stroke="#151515" stroke-width="1.6"/>
<line x1="342.16" y1="335.8" x2="348.16" y2="335.8" stroke="#151515" stroke-width="1.6"/>
<line x1="342.16" y1="360.8" x2="348.16" y2="360.8" stroke="#151515" stroke-width="1.6"/>
<line x1="354.14" y1="418.6" x2="354.14" y2="421.5" stroke="#151515" stroke-width="1.6"/>
<line x1="351.14" y1="418.6" x2="357.14" y2="418.6" stroke="#151515" stroke-width="1.6"/>
<line x1="351.14" y1="421.5" x2="357.14" y2="421.5" stroke="#151515" stroke-width="1.6"/>
<line x1="358.14" y1="314.9" x2="358.14" y2="348.2" stroke="#151515" stroke-width="1.6"/>
<line x1="355.14" y1="314.9" x2="361.14" y2="314.9" stroke="#151515" stroke-width="1.6"/>
<line x1="355.14" y1="348.2" x2="361.14" y2="348.2" stroke="#151515" stroke-width="1.6"/>
<line x1="380.1" y1="280.2" x2="380.1" y2="334.6" stroke="#151515" stroke-width="1.6"/>
<line x1="377.1" y1="280.2" x2="383.1" y2="280.2" stroke="#151515" stroke-width="1.6"/>
<line x1="377.1" y1="334.6" x2="383.1" y2="334.6" stroke="#151515" stroke-width="1.6"/>
<line x1="384.1" y1="369.7" x2="384.1" y2="387.3" stroke="#151515" stroke-width="1.6"/>
<line x1="381.1" y1="369.7" x2="387.1" y2="369.7" stroke="#151515" stroke-width="1.6"/>
<line x1="381.1" y1="387.3" x2="387.1" y2="387.3" stroke="#151515" stroke-width="1.6"/>
<line x1="393.08" y1="329.3" x2="393.08" y2="371.5" stroke="#151515" stroke-width="1.6"/>
<line x1="390.08" y1="329.3" x2="396.08" y2="329.3" stroke="#151515" stroke-width="1.6"/>
<line x1="390.08" y1="371.5" x2="396.08" y2="371.5" stroke="#151515" stroke-width="1.6"/>
<line x1="397.08" y1="343.6" x2="397.08" y2="376" stroke="#151515" stroke-width="1.6"/>
<line x1="394.08" y1="343.6" x2="400.08" y2="343.6" stroke="#151515" stroke-width="1.6"/>
<line x1="394.08" y1="376" x2="400.08" y2="376" stroke="#151515" stroke-width="1.6"/>
<line x1="406.06" y1="371.2" x2="406.06" y2="405.9" stroke="#151515" stroke-width="1.6"/>
<line x1="403.06" y1="371.2" x2="409.06" y2="371.2" stroke="#151515" stroke-width="1.6"/>
<line x1="403.06" y1="405.9" x2="409.06" y2="405.9" stroke="#151515" stroke-width="1.6"/>
<line x1="410.06" y1="365.6" x2="410.06" y2="384.4" stroke="#151515" stroke-width="1.6"/>
<line x1="407.06" y1="365.6" x2="413.06" y2="365.6" stroke="#151515" stroke-width="1.6"/>
<line x1="407.06" y1="384.4" x2="413.06" y2="384.4" stroke="#151515" stroke-width="1.6"/>
<line x1="419.04" y1="379.4" x2="419.04" y2="422.2" stroke="#151515" stroke-width="1.6"/>
<line x1="416.04" y1="379.4" x2="422.04" y2="379.4" stroke="#151515" stroke-width="1.6"/>
<line x1="416.04" y1="422.2" x2="422.04" y2="422.2" stroke="#151515" stroke-width="1.6"/>
<line x1="423.04" y1="351.1" x2="423.04" y2="375.3" stroke="#151515" stroke-width="1.6"/>
<line x1="420.04" y1="351.1" x2="426.04" y2="351.1" stroke="#151515" stroke-width="1.6"/>
<line x1="420.04" y1="375.3" x2="426.04" y2="375.3" stroke="#151515" stroke-width="1.6"/>
<line x1="445" y1="315.6" x2="445" y2="331.2" stroke="#151515" stroke-width="1.6"/>
<line x1="442" y1="315.6" x2="448" y2="315.6" stroke="#151515" stroke-width="1.6"/>
<line x1="442" y1="331.2" x2="448" y2="331.2" stroke="#151515" stroke-width="1.6"/>
<line x1="449" y1="364.9" x2="449" y2="388.3" stroke="#151515" stroke-width="1.6"/>
<line x1="446" y1="364.9" x2="452" y2="364.9" stroke="#151515" stroke-width="1.6"/>
<line x1="446" y1="388.3" x2="452" y2="388.3" stroke="#151515" stroke-width="1.6"/>
<line x1="457.98" y1="303" x2="457.98" y2="318.8" stroke="#151515" stroke-width="1.6"/>
<line x1="454.98" y1="303" x2="460.98" y2="303" stroke="#151515" stroke-width="1.6"/>
<line x1="454.98" y1="318.8" x2="460.98" y2="318.8" stroke="#151515" stroke-width="1.6"/>
<line x1="461.98" y1="352.1" x2="461.98" y2="382.8" stroke="#151515" stroke-width="1.6"/>
<line x1="458.98" y1="352.1" x2="464.98" y2="352.1" stroke="#151515" stroke-width="1.6"/>
<line x1="458.98" y1="382.8" x2="464.98" y2="382.8" stroke="#151515" stroke-width="1.6"/>
<line x1="470.96" y1="330.5" x2="470.96" y2="351.4" stroke="#151515" stroke-width="1.6"/>
<line x1="467.96" y1="330.5" x2="473.96" y2="330.5" stroke="#151515" stroke-width="1.6"/>
<line x1="467.96" y1="351.4" x2="473.96" y2="351.4" stroke="#151515" stroke-width="1.6"/>
<line x1="474.96" y1="373.8" x2="474.96" y2="390.9" stroke="#151515" stroke-width="1.6"/>
<line x1="471.96" y1="373.8" x2="477.96" y2="373.8" stroke="#151515" stroke-width="1.6"/>
<line x1="471.96" y1="390.9" x2="477.96" y2="390.9" stroke="#151515" stroke-width="1.6"/>
<line x1="483.94" y1="285.8" x2="483.94" y2="314.1" stroke="#151515" stroke-width="1.6"/>
<line x1="480.94" y1="285.8" x2="486.94" y2="285.8" stroke="#151515" stroke-width="1.6"/>
<line x1="480.94" y1="314.1" x2="486.94" y2="314.1" stroke="#151515" stroke-width="1.6"/>
<line x1="487.94" y1="374.9" x2="487.94" y2="388.7" stroke="#151515" stroke-width="1.6"/>
<line x1="484.94" y1="374.9" x2="490.94" y2="374.9" stroke="#151515" stroke-width="1.6"/>
<line x1="484.94" y1="388.7" x2="490.94" y2="388.7" stroke="#151515" stroke-width="1.6"/>
<polygon points="61,394.2 61.79,396.11 63.85,396.27 62.28,397.62 62.76,399.63 61,398.55 59.24,399.63 59.72,397.62 58.15,396.27 60.21,396.11" fill="#111"/>
<polygon points="74.5,400.6 75.29,402.51 77.35,402.67 75.78,404.02 76.26,406.03 74.5,404.95 72.74,406.03 73.22,404.02 71.65,402.67 73.71,402.51" fill="#111"/>
<polygon points="138.3,398.3 139.09,400.21 141.15,400.37 139.58,401.72 140.06,403.73 138.3,402.65 136.54,403.73 137.02,401.72 135.45,400.37 137.51,400.21" fill="#111"/>
<polygon points="151,408.6 151.79,410.51 153.85,410.67 152.28,412.02 152.76,414.03 151,412.95 149.24,414.03 149.72,412.02 148.15,410.67 150.21,410.51" fill="#111"/>
<polygon points="254.5,279.9 255.29,281.81 257.35,281.97 255.78,283.32 256.26,285.33 254.5,284.25 252.74,285.33 253.22,283.32 251.65,281.97 253.71,281.81" fill="#111"/>
<polygon points="267.6,268.2 268.39,270.11 270.45,270.27 268.88,271.62 269.36,273.63 267.6,272.55 265.84,273.63 266.32,271.62 264.75,270.27 266.81,270.11" fill="#111"/>
<polygon points="279.6,338.2 280.39,340.11 282.45,340.27 280.88,341.62 281.36,343.63 279.6,342.55 277.84,343.63 278.32,341.62 276.75,340.27 278.81,340.11" fill="#111"/>
<polygon points="292.7,371.4 293.49,373.31 295.55,373.47 293.98,374.82 294.46,376.83 292.7,375.75 290.94,376.83 291.42,374.82 289.85,373.47 291.91,373.31" fill="#111"/>
<polygon points="298.3,371.4 299.09,373.31 301.15,373.47 299.58,374.82 300.06,376.83 298.3,375.75 296.54,376.83 297.02,374.82 295.45,373.47 297.51,373.31" fill="#111"/>
<polygon points="319.4,335.1 320.19,337.01 322.25,337.17 320.68,338.52 321.16,340.53 319.4,339.45 317.64,340.53 318.12,338.52 316.55,337.17 318.61,337.01" fill="#111"/>
<polygon points="329.2,307.3 329.99,309.21 332.05,309.37 330.48,310.72 330.96,312.73 329.2,311.65 327.44,312.73 327.92,310.72 326.35,309.37 328.41,309.21" fill="#111"/>
<polygon points="334.8,307.3 335.59,309.21 337.65,309.37 336.08,310.72 336.56,312.73 334.8,311.65 333.04,312.73 333.52,310.72 331.95,309.37 334.01,309.21" fill="#111"/>
<polygon points="343.1,318.8 343.89,320.71 345.95,320.87 344.38,322.22 344.86,324.23 343.1,323.15 341.34,324.23 341.82,322.22 340.25,320.87 342.31,320.71" fill="#111"/>
<polygon points="348.7,318.8 349.49,320.71 351.55,320.87 349.98,322.22 350.46,324.23 348.7,323.15 346.94,324.23 347.42,322.22 345.85,320.87 347.91,320.71" fill="#111"/>
<polygon points="357,298.9 357.79,300.81 359.85,300.97 358.28,302.32 358.76,304.33 357,303.25 355.24,304.33 355.72,302.32 354.15,300.97 356.21,300.81" fill="#111"/>
<polygon points="362.6,298.9 363.39,300.81 365.45,300.97 363.88,302.32 364.36,304.33 362.6,303.25 360.84,304.33 361.32,302.32 359.75,300.97 361.81,300.81" fill="#111"/>
<polygon points="449.5,347.7 450.29,349.61 452.35,349.77 450.78,351.12 451.26,353.13 449.5,352.05 447.74,353.13 448.22,351.12 446.65,349.77 448.71,349.61" fill="#111"/>
<polygon points="462.3,333.8 463.09,335.71 465.15,335.87 463.58,337.22 464.06,339.23 462.3,338.15 460.54,339.23 461.02,337.22 459.45,335.87 461.51,335.71" fill="#111"/>
<polygon points="476.6,361.5 477.39,363.41 479.45,363.57 477.88,364.92 478.36,366.93 476.6,365.85 474.84,366.93 475.32,364.92 473.75,363.57 475.81,363.41" fill="#111"/>
<polygon points="489.2,363.7 489.99,365.61 492.05,365.77 490.48,367.12 490.96,369.13 489.2,368.05 487.44,369.13 487.92,367.12 486.35,365.77 488.41,365.61" fill="#111"/>
<polygon points="494.8,363.7 495.59,365.61 497.65,365.77 496.08,367.12 496.56,369.13 494.8,368.05 493.04,369.13 493.52,367.12 491.95,365.77 494.01,365.61" fill="#111"/>
<rect x="86.9" y="313.6" width="6.6" height="6.4" fill="#4079e6"/>
<rect x="86.9" y="331" width="6.6" height="6.4" fill="#ee2a10"/>
<text x="96.4" y="322.6" font-size="12.5" fill="#1a1a1a" textLength="65" lengthAdjust="spacingAndGlyphs">Mock 4 Gy</text>
<text x="96.4" y="339.6" font-size="12.5" fill="#1a1a1a" textLength="60.3" lengthAdjust="spacingAndGlyphs">EPO 4 Gy</text>
<line x1="110.7" y1="432.2" x2="110.7" y2="503" stroke="#000" stroke-width="1.7"/>
<line x1="176.4" y1="432.2" x2="176.4" y2="503" stroke="#000" stroke-width="1.7"/>
<line x1="240.8" y1="432.2" x2="240.8" y2="503" stroke="#000" stroke-width="1.7"/>
<line x1="305.9" y1="432.2" x2="305.9" y2="503" stroke="#000" stroke-width="1.7"/>
<line x1="369.9" y1="432.2" x2="369.9" y2="503" stroke="#000" stroke-width="1.7"/>
<line x1="434.2" y1="432.2" x2="434.2" y2="503" stroke="#000" stroke-width="1.7"/>
<text transform="translate(63,445.3) rotate(-90)" font-size="9.8" text-anchor="end" fill="#1a1a1a" textLength="22.6" lengthAdjust="spacingAndGlyphs" stroke="#1a1a1a" stroke-width="0.12">ProE</text>
<text transform="translate(75.93,445.3) rotate(-90)" font-size="9.8" text-anchor="end" fill="#1a1a1a" textLength="30.4" lengthAdjust="spacingAndGlyphs" stroke="#1a1a1a" stroke-width="0.12">BasoE</text>
<text transform="translate(88.87,445.3) rotate(-90)" font-size="9.8" text-anchor="end" fill="#1a1a1a" textLength="28" lengthAdjust="spacingAndGlyphs" stroke="#1a1a1a" stroke-width="0.12">PolyE</text>
<text transform="translate(101.8,445.3) rotate(-90)" font-size="9.8" text-anchor="end" fill="#1a1a1a" textLength="34" lengthAdjust="spacingAndGlyphs" stroke="#1a1a1a" stroke-width="0.12">OrthoE</text>
<text transform="translate(127.66,445.3) rotate(-90)" font-size="9.8" text-anchor="end" fill="#1a1a1a" textLength="22.6" lengthAdjust="spacingAndGlyphs" stroke="#1a1a1a" stroke-width="0.12">ProE</text>
<text transform="translate(140.6,445.3) rotate(-90)" font-size="9.8" text-anchor="end" fill="#1a1a1a" textLength="30.4" lengthAdjust="spacingAndGlyphs" stroke="#1a1a1a" stroke-width="0.12">BasoE</text>
<text transform="translate(153.53,445.3) rotate(-90)" font-size="9.8" text-anchor="end" fill="#1a1a1a" textLength="28" lengthAdjust="spacingAndGlyphs" stroke="#1a1a1a" stroke-width="0.12">PolyE</text>
<text transform="translate(166.46,445.3) rotate(-90)" font-size="9.8" text-anchor="end" fill="#1a1a1a" textLength="34" lengthAdjust="spacingAndGlyphs" stroke="#1a1a1a" stroke-width="0.12">OrthoE</text>
<text transform="translate(192.33,445.3) rotate(-90)" font-size="9.8" text-anchor="end" fill="#1a1a1a" textLength="22.6" lengthAdjust="spacingAndGlyphs" stroke="#1a1a1a" stroke-width="0.12">ProE</text>
<text transform="translate(205.26,445.3) rotate(-90)" font-size="9.8" text-anchor="end" fill="#1a1a1a" textLength="30.4" lengthAdjust="spacingAndGlyphs" stroke="#1a1a1a" stroke-width="0.12">BasoE</text>
<text transform="translate(218.2,445.3) rotate(-90)" font-size="9.8" text-anchor="end" fill="#1a1a1a" textLength="28" lengthAdjust="spacingAndGlyphs" stroke="#1a1a1a" stroke-width="0.12">PolyE</text>
<text transform="translate(231.13,445.3) rotate(-90)" font-size="9.8" text-anchor="end" fill="#1a1a1a" textLength="34" lengthAdjust="spacingAndGlyphs" stroke="#1a1a1a" stroke-width="0.12">OrthoE</text>
<text transform="translate(257,445.3) rotate(-90)" font-size="9.8" text-anchor="end" fill="#1a1a1a" textLength="22.6" lengthAdjust="spacingAndGlyphs" stroke="#1a1a1a" stroke-width="0.12">ProE</text>
<text transform="translate(269.93,445.3) rotate(-90)" font-size="9.8" text-anchor="end" fill="#1a1a1a" textLength="30.4" lengthAdjust="spacingAndGlyphs" stroke="#1a1a1a" stroke-width="0.12">BasoE</text>
<text transform="translate(282.86,445.3) rotate(-90)" font-size="9.8" text-anchor="end" fill="#1a1a1a" textLength="28" lengthAdjust="spacingAndGlyphs" stroke="#1a1a1a" stroke-width="0.12">PolyE</text>
<text transform="translate(295.79,445.3) rotate(-90)" font-size="9.8" text-anchor="end" fill="#1a1a1a" textLength="34" lengthAdjust="spacingAndGlyphs" stroke="#1a1a1a" stroke-width="0.12">OrthoE</text>
<text transform="translate(321.66,445.3) rotate(-90)" font-size="9.8" text-anchor="end" fill="#1a1a1a" textLength="22.6" lengthAdjust="spacingAndGlyphs" stroke="#1a1a1a" stroke-width="0.12">ProE</text>
<text transform="translate(334.59,445.3) rotate(-90)" font-size="9.8" text-anchor="end" fill="#1a1a1a" textLength="30.4" lengthAdjust="spacingAndGlyphs" stroke="#1a1a1a" stroke-width="0.12">BasoE</text>
<text transform="translate(347.53,445.3) rotate(-90)" font-size="9.8" text-anchor="end" fill="#1a1a1a" textLength="28" lengthAdjust="spacingAndGlyphs" stroke="#1a1a1a" stroke-width="0.12">PolyE</text>
<text transform="translate(360.46,445.3) rotate(-90)" font-size="9.8" text-anchor="end" fill="#1a1a1a" textLength="34" lengthAdjust="spacingAndGlyphs" stroke="#1a1a1a" stroke-width="0.12">OrthoE</text>
<text transform="translate(386.32,445.3) rotate(-90)" font-size="9.8" text-anchor="end" fill="#1a1a1a" textLength="22.6" lengthAdjust="spacingAndGlyphs" stroke="#1a1a1a" stroke-width="0.12">ProE</text>
<text transform="translate(399.26,445.3) rotate(-90)" font-size="9.8" text-anchor="end" fill="#1a1a1a" textLength="30.4" lengthAdjust="spacingAndGlyphs" stroke="#1a1a1a" stroke-width="0.12">BasoE</text>
<text transform="translate(412.19,445.3) rotate(-90)" font-size="9.8" text-anchor="end" fill="#1a1a1a" textLength="28" lengthAdjust="spacingAndGlyphs" stroke="#1a1a1a" stroke-width="0.12">PolyE</text>
<text transform="translate(425.12,445.3) rotate(-90)" font-size="9.8" text-anchor="end" fill="#1a1a1a" textLength="34" lengthAdjust="spacingAndGlyphs" stroke="#1a1a1a" stroke-width="0.12">OrthoE</text>
<text transform="translate(450.99,445.3) rotate(-90)" font-size="9.8" text-anchor="end" fill="#1a1a1a" textLength="22.6" lengthAdjust="spacingAndGlyphs" stroke="#1a1a1a" stroke-width="0.12">ProE</text>
<text transform="translate(463.92,445.3) rotate(-90)" font-size="9.8" text-anchor="end" fill="#1a1a1a" textLength="30.4" lengthAdjust="spacingAndGlyphs" stroke="#1a1a1a" stroke-width="0.12">BasoE</text>
<text transform="translate(476.86,445.3) rotate(-90)" font-size="9.8" text-anchor="end" fill="#1a1a1a" textLength="28" lengthAdjust="spacingAndGlyphs" stroke="#1a1a1a" stroke-width="0.12">PolyE</text>
<text transform="translate(489.79,445.3) rotate(-90)" font-size="9.8" text-anchor="end" fill="#1a1a1a" textLength="34" lengthAdjust="spacingAndGlyphs" stroke="#1a1a1a" stroke-width="0.12">OrthoE</text>
<text x="82.3" y="497.6" font-size="12.3" font-weight="bold" text-anchor="middle" fill="#1a1a1a" textLength="12.8" lengthAdjust="spacingAndGlyphs">1d</text>
<text x="140.9" y="497.6" font-size="12.3" font-weight="bold" text-anchor="middle" fill="#1a1a1a" textLength="12.8" lengthAdjust="spacingAndGlyphs">2d</text>
<text x="206.9" y="497.6" font-size="12.3" font-weight="bold" text-anchor="middle" fill="#1a1a1a" textLength="12.8" lengthAdjust="spacingAndGlyphs">3d</text>
<text x="273.8" y="497.6" font-size="12.3" font-weight="bold" text-anchor="middle" fill="#1a1a1a" textLength="12.8" lengthAdjust="spacingAndGlyphs">4d</text>
<text x="337.2" y="497.6" font-size="12.3" font-weight="bold" text-anchor="middle" fill="#1a1a1a" textLength="12.8" lengthAdjust="spacingAndGlyphs">5d</text>
<text x="403.9" y="497.6" font-size="12.3" font-weight="bold" text-anchor="middle" fill="#1a1a1a" textLength="12.8" lengthAdjust="spacingAndGlyphs">6d</text>
<text x="469.2" y="497.6" font-size="12.3" font-weight="bold" text-anchor="middle" fill="#1a1a1a" textLength="12.8" lengthAdjust="spacingAndGlyphs">7d</text>
<text x="265.1" y="515.4" font-size="11.5" font-weight="bold" text-anchor="middle" fill="#1a1a1a" textLength="116" lengthAdjust="spacingAndGlyphs">Days Post-Radiation</text>
<text x="2" y="536" font-size="18" font-weight="bold">C</text>
<line x1="50.8" y1="670.55" x2="241.8" y2="670.55" stroke="#8f8f8f" stroke-width="1.3"/>
<line x1="50.8" y1="652.2" x2="241.8" y2="652.2" stroke="#8f8f8f" stroke-width="1.3"/>
<line x1="50.8" y1="633.85" x2="241.8" y2="633.85" stroke="#8f8f8f" stroke-width="1.3"/>
<line x1="50.8" y1="615.5" x2="241.8" y2="615.5" stroke="#8f8f8f" stroke-width="1.3"/>
<line x1="50.8" y1="597.15" x2="241.8" y2="597.15" stroke="#8f8f8f" stroke-width="1.3"/>
<line x1="50.8" y1="578.8" x2="241.8" y2="578.8" stroke="#8f8f8f" stroke-width="1.3"/>
<line x1="50.8" y1="560.45" x2="241.8" y2="560.45" stroke="#8f8f8f" stroke-width="1.3"/>
<line x1="50.8" y1="542.1" x2="241.8" y2="542.1" stroke="#8f8f8f" stroke-width="1.3"/>
<line x1="50.8" y1="688.9" x2="241.8" y2="688.9" stroke="#8f8f8f" stroke-width="1.3"/>
<rect x="55.5" y="618.5" width="120" height="44.5" fill="#fff"/>
<line x1="54.4" y1="542.1" x2="54.4" y2="688.9" stroke="#8f8f8f" stroke-width="1.3"/>
<line x1="241.8" y1="542.1" x2="241.8" y2="688.9" stroke="#8f8f8f" stroke-width="1.3"/>
<line x1="54.4" y1="688.9" x2="54.4" y2="691.9" stroke="#8f8f8f" stroke-width="1.2"/>
<line x1="81.17" y1="688.9" x2="81.17" y2="691.9" stroke="#8f8f8f" stroke-width="1.2"/>
<line x1="107.94" y1="688.9" x2="107.94" y2="691.9" stroke="#8f8f8f" stroke-width="1.2"/>
<line x1="134.71" y1="688.9" x2="134.71" y2="691.9" stroke="#8f8f8f" stroke-width="1.2"/>
<line x1="161.48" y1="688.9" x2="161.48" y2="691.9" stroke="#8f8f8f" stroke-width="1.2"/>
<line x1="188.25" y1="688.9" x2="188.25" y2="691.9" stroke="#8f8f8f" stroke-width="1.2"/>
<line x1="215.02" y1="688.9" x2="215.02" y2="691.9" stroke="#8f8f8f" stroke-width="1.2"/>
<line x1="241.79" y1="688.9" x2="241.79" y2="691.9" stroke="#8f8f8f" stroke-width="1.2"/>
<text x="41.3" y="693.8" font-size="12.6" text-anchor="end" fill="#1a1a1a" textLength="6.4" lengthAdjust="spacingAndGlyphs">0</text>
<text x="41.3" y="675.45" font-size="12.6" text-anchor="end" fill="#1a1a1a" textLength="13" lengthAdjust="spacingAndGlyphs">50</text>
<text x="41.3" y="657.1" font-size="12.6" text-anchor="end" fill="#1a1a1a" textLength="19.6" lengthAdjust="spacingAndGlyphs">100</text>
<text x="41.3" y="638.75" font-size="12.6" text-anchor="end" fill="#1a1a1a" textLength="19.6" lengthAdjust="spacingAndGlyphs">150</text>
<text x="41.3" y="620.4" font-size="12.6" text-anchor="end" fill="#1a1a1a" textLength="19.6" lengthAdjust="spacingAndGlyphs">200</text>
<text x="41.3" y="602.05" font-size="12.6" text-anchor="end" fill="#1a1a1a" textLength="19.6" lengthAdjust="spacingAndGlyphs">250</text>
<text x="41.3" y="583.7" font-size="12.6" text-anchor="end" fill="#1a1a1a" textLength="19.6" lengthAdjust="spacingAndGlyphs">300</text>
<text x="41.3" y="565.35" font-size="12.6" text-anchor="end" fill="#1a1a1a" textLength="19.6" lengthAdjust="spacingAndGlyphs">350</text>
<text x="41.3" y="547" font-size="12.6" text-anchor="end" fill="#1a1a1a" textLength="19.6" lengthAdjust="spacingAndGlyphs">400</text>
<text transform="translate(19.8,611) rotate(-90)" font-size="12" font-weight="bold" text-anchor="middle" textLength="129.7" lengthAdjust="spacingAndGlyphs">Percent Control Retics</text>
<line x1="241.8" y1="688.5" x2="244.8" y2="688.5" stroke="#8f8f8f" stroke-width="1.2"/>
<text x="249.6" y="693" font-size="12.6" fill="#1a1a1a">0</text>
<line x1="241.8" y1="661.1" x2="244.8" y2="661.1" stroke="#8f8f8f" stroke-width="1.2"/>
<text x="249.6" y="665.6" font-size="12.6" fill="#1a1a1a">10</text>
<line x1="241.8" y1="633.4" x2="244.8" y2="633.4" stroke="#8f8f8f" stroke-width="1.2"/>
<text x="249.6" y="637.9" font-size="12.6" fill="#1a1a1a">20</text>
<line x1="241.8" y1="607.2" x2="244.8" y2="607.2" stroke="#8f8f8f" stroke-width="1.2"/>
<text x="249.6" y="611.7" font-size="12.6" fill="#1a1a1a">30</text>
<line x1="241.8" y1="581" x2="244.8" y2="581" stroke="#8f8f8f" stroke-width="1.2"/>
<text x="249.6" y="585.5" font-size="12.6" fill="#1a1a1a">40</text>
<line x1="241.8" y1="554.8" x2="244.8" y2="554.8" stroke="#8f8f8f" stroke-width="1.2"/>
<text x="249.6" y="559.3" font-size="12.6" fill="#1a1a1a">50</text>
<text transform="translate(277.3,611.9) rotate(-90)" font-size="12.3" font-weight="bold" text-anchor="middle" textLength="46.2" lengthAdjust="spacingAndGlyphs">HCT (%)</text>
<line x1="67.8" y1="551.9" x2="67.8" y2="566.8" stroke="#151515" stroke-width="1.2"/>
<line x1="65.05" y1="551.9" x2="70.55" y2="551.9" stroke="#151515" stroke-width="1.2"/>
<line x1="65.05" y1="566.8" x2="70.55" y2="566.8" stroke="#151515" stroke-width="1.2"/>
<line x1="67.8" y1="562.2" x2="67.8" y2="583.4" stroke="#151515" stroke-width="1.2"/>
<line x1="65.05" y1="562.2" x2="70.55" y2="562.2" stroke="#151515" stroke-width="1.2"/>
<line x1="65.05" y1="583.4" x2="70.55" y2="583.4" stroke="#151515" stroke-width="1.2"/>
<line x1="94.57" y1="565" x2="94.57" y2="582.4" stroke="#151515" stroke-width="1.2"/>
<line x1="91.82" y1="565" x2="97.32" y2="565" stroke="#151515" stroke-width="1.2"/>
<line x1="91.82" y1="582.4" x2="97.32" y2="582.4" stroke="#151515" stroke-width="1.2"/>
<line x1="121.34" y1="573" x2="121.34" y2="583.8" stroke="#151515" stroke-width="1.2"/>
<line x1="118.59" y1="573" x2="124.09" y2="573" stroke="#151515" stroke-width="1.2"/>
<line x1="118.59" y1="583.8" x2="124.09" y2="583.8" stroke="#151515" stroke-width="1.2"/>
<line x1="148.11" y1="576.5" x2="148.11" y2="595.6" stroke="#151515" stroke-width="1.2"/>
<line x1="145.36" y1="576.5" x2="150.86" y2="576.5" stroke="#151515" stroke-width="1.2"/>
<line x1="145.36" y1="595.6" x2="150.86" y2="595.6" stroke="#151515" stroke-width="1.2"/>
<line x1="148.11" y1="579.2" x2="148.11" y2="592.3" stroke="#151515" stroke-width="1.2"/>
<line x1="145.36" y1="579.2" x2="150.86" y2="579.2" stroke="#151515" stroke-width="1.2"/>
<line x1="145.36" y1="592.3" x2="150.86" y2="592.3" stroke="#151515" stroke-width="1.2"/>
<line x1="174.88" y1="579.3" x2="174.88" y2="613.6" stroke="#151515" stroke-width="1.2"/>
<line x1="172.13" y1="579.3" x2="177.63" y2="579.3" stroke="#151515" stroke-width="1.2"/>
<line x1="172.13" y1="613.6" x2="177.63" y2="613.6" stroke="#151515" stroke-width="1.2"/>
<line x1="174.88" y1="583.7" x2="174.88" y2="596.7" stroke="#151515" stroke-width="1.2"/>
<line x1="172.13" y1="583.7" x2="177.63" y2="583.7" stroke="#151515" stroke-width="1.2"/>
<line x1="172.13" y1="596.7" x2="177.63" y2="596.7" stroke="#151515" stroke-width="1.2"/>
<line x1="201.65" y1="589.9" x2="201.65" y2="597.3" stroke="#151515" stroke-width="1.2"/>
<line x1="198.9" y1="589.9" x2="204.4" y2="589.9" stroke="#151515" stroke-width="1.2"/>
<line x1="198.9" y1="597.3" x2="204.4" y2="597.3" stroke="#151515" stroke-width="1.2"/>
<line x1="228.42" y1="592.7" x2="228.42" y2="600.5" stroke="#151515" stroke-width="1.2"/>
<line x1="225.67" y1="592.7" x2="231.17" y2="592.7" stroke="#151515" stroke-width="1.2"/>
<line x1="225.67" y1="600.5" x2="231.17" y2="600.5" stroke="#151515" stroke-width="1.2"/>
<line x1="201.65" y1="611.5" x2="201.65" y2="627.8" stroke="#151515" stroke-width="1.2"/>
<line x1="198.9" y1="611.5" x2="204.4" y2="611.5" stroke="#151515" stroke-width="1.2"/>
<line x1="198.9" y1="627.8" x2="204.4" y2="627.8" stroke="#151515" stroke-width="1.2"/>
<line x1="228.42" y1="601.5" x2="228.42" y2="631.9" stroke="#151515" stroke-width="1.2"/>
<line x1="225.67" y1="601.5" x2="231.17" y2="601.5" stroke="#151515" stroke-width="1.2"/>
<line x1="225.67" y1="631.9" x2="231.17" y2="631.9" stroke="#151515" stroke-width="1.2"/>
<line x1="201.65" y1="666.5" x2="201.65" y2="675.1" stroke="#151515" stroke-width="1.2"/>
<line x1="198.9" y1="666.5" x2="204.4" y2="666.5" stroke="#151515" stroke-width="1.2"/>
<line x1="198.9" y1="675.1" x2="204.4" y2="675.1" stroke="#151515" stroke-width="1.2"/>
<line x1="228.42" y1="659.7" x2="228.42" y2="667.4" stroke="#151515" stroke-width="1.2"/>
<line x1="225.67" y1="659.7" x2="231.17" y2="659.7" stroke="#151515" stroke-width="1.2"/>
<line x1="225.67" y1="667.4" x2="231.17" y2="667.4" stroke="#151515" stroke-width="1.2"/>
<polyline points="67.8,559.4 94.57,573.7 121.34,578.4 148.11,585.7 174.88,596.8 201.65,593.6 228.42,596.6" fill="none" stroke="#dcd656" stroke-width="2.6" stroke-linejoin="round"/>
<polyline points="67.8,572.8 94.57,577.5 121.34,582.3 148.11,586.2 174.88,590.2 201.65,577.2 228.42,583.5" fill="none" stroke="#1f9a24" stroke-width="3" stroke-linejoin="round"/>
<polyline points="67.8,668.3 94.57,676.7 121.34,684.1 148.11,682 174.88,669.3 201.65,619.5 228.42,616.8" fill="none" stroke="#ee3322" stroke-width="3" stroke-linejoin="round"/>
<polyline points="67.8,673.6 94.57,682.6 121.34,685.8 148.11,685.9 174.88,684.9 201.65,671.4 228.42,663.8" fill="none" stroke="#1a35e0" stroke-width="3" stroke-linejoin="round"/>
<path d="M67.8,554.8 L71.7,562.6 L63.9,562.6 Z" fill="#dcd656" stroke="#222" stroke-width="1.2"/>
<path d="M94.57,569.1 L98.47,576.9 L90.67,576.9 Z" fill="#dcd656" stroke="#222" stroke-width="1.2"/>
<path d="M121.34,573.8 L125.24,581.6 L117.44,581.6 Z" fill="#dcd656" stroke="#222" stroke-width="1.2"/>
<path d="M148.11,581.1 L152.01,588.9 L144.21,588.9 Z" fill="#dcd656" stroke="#222" stroke-width="1.2"/>
<path d="M174.88,592.2 L178.78,600 L170.98,600 Z" fill="#dcd656" stroke="#222" stroke-width="1.2"/>
<path d="M201.65,589 L205.55,596.8 L197.75,596.8 Z" fill="#dcd656" stroke="#222" stroke-width="1.2"/>
<path d="M228.42,592 L232.32,599.8 L224.52,599.8 Z" fill="#dcd656" stroke="#222" stroke-width="1.2"/>
<rect x="63.9" y="568.9" width="7.8" height="7.8" fill="#1f9a24"/>
<rect x="90.67" y="573.6" width="7.8" height="7.8" fill="#1f9a24"/>
<rect x="117.44" y="578.4" width="7.8" height="7.8" fill="#1f9a24"/>
<rect x="144.21" y="582.3" width="7.8" height="7.8" fill="#1f9a24"/>
<rect x="170.98" y="586.3" width="7.8" height="7.8" fill="#1f9a24"/>
<rect x="197.75" y="573.3" width="7.8" height="7.8" fill="#1f9a24"/>
<rect x="224.52" y="579.6" width="7.8" height="7.8" fill="#1f9a24"/>
<rect x="63.4" y="663.9" width="8.8" height="8.8" fill="#ee3322"/>
<rect x="90.17" y="672.3" width="8.8" height="8.8" fill="#ee3322"/>
<rect x="116.94" y="679.7" width="8.8" height="8.8" fill="#ee3322"/>
<rect x="143.71" y="677.6" width="8.8" height="8.8" fill="#ee3322"/>
<rect x="170.48" y="664.9" width="8.8" height="8.8" fill="#ee3322"/>
<rect x="197.25" y="615.1" width="8.8" height="8.8" fill="#ee3322"/>
<rect x="224.02" y="612.4" width="8.8" height="8.8" fill="#ee3322"/>
<path d="M67.8,670 L71.4,673.6 L67.8,677.2 L64.2,673.6 Z" fill="#1a35e0"/>
<path d="M94.57,679 L98.17,682.6 L94.57,686.2 L90.97,682.6 Z" fill="#1a35e0"/>
<path d="M121.34,682.2 L124.94,685.8 L121.34,689.4 L117.74,685.8 Z" fill="#1a35e0"/>
<path d="M148.11,682.3 L151.71,685.9 L148.11,689.5 L144.51,685.9 Z" fill="#1a35e0"/>
<path d="M174.88,681.3 L178.48,684.9 L174.88,688.5 L171.28,684.9 Z" fill="#1a35e0"/>
<path d="M201.65,667.8 L205.25,671.4 L201.65,675 L198.05,671.4 Z" fill="#1a35e0"/>
<path d="M228.42,660.2 L232.02,663.8 L228.42,667.4 L224.82,663.8 Z" fill="#1a35e0"/>
<polygon points="198,562.2 198.79,564.11 200.85,564.27 199.28,565.62 199.76,567.63 198,566.55 196.24,567.63 196.72,565.62 195.15,564.27 197.21,564.11" fill="#111"/>
<polygon points="225,565.1 225.79,567.01 227.85,567.17 226.28,568.52 226.76,570.53 225,569.45 223.24,570.53 223.72,568.52 222.15,567.17 224.21,567.01" fill="#111"/>
<polygon points="197.2,632.8 197.99,634.71 200.05,634.87 198.48,636.22 198.96,638.23 197.2,637.15 195.44,638.23 195.92,636.22 194.35,634.87 196.41,634.71" fill="#111"/>
<polygon points="202.8,632.8 203.59,634.71 205.65,634.87 204.08,636.22 204.56,638.23 202.8,637.15 201.04,638.23 201.52,636.22 199.95,634.87 202.01,634.71" fill="#111"/>
<polygon points="225.4,634.9 226.19,636.81 228.25,636.97 226.68,638.32 227.16,640.33 225.4,639.25 223.64,640.33 224.12,638.32 222.55,636.97 224.61,636.81" fill="#111"/>
<polygon points="175.5,654.1 176.29,656.01 178.35,656.17 176.78,657.52 177.26,659.53 175.5,658.45 173.74,659.53 174.22,657.52 172.65,656.17 174.71,656.01" fill="#111"/>
<polygon points="181.1,654.1 181.89,656.01 183.95,656.17 182.38,657.52 182.86,659.53 181.1,658.45 179.34,659.53 179.82,657.52 178.25,656.17 180.31,656.01" fill="#111"/>
<polygon points="186.7,654.1 187.49,656.01 189.55,656.17 187.98,657.52 188.46,659.53 186.7,658.45 184.94,659.53 185.42,657.52 183.85,656.17 185.91,656.01" fill="#111"/>
<line x1="60.5" y1="625.5" x2="90" y2="625.5" stroke="#1a35e0" stroke-width="2.3"/>
<text x="93.2" y="629.5" font-size="10.8" fill="#1a1a1a" textLength="78.3" lengthAdjust="spacingAndGlyphs">Mock 4 Gy Retics</text>
<line x1="60.5" y1="635.5" x2="90" y2="635.5" stroke="#ee3322" stroke-width="2.3"/>
<text x="93.2" y="639.5" font-size="10.8" fill="#1a1a1a" textLength="74.6" lengthAdjust="spacingAndGlyphs">EPO 4 Gy Retics</text>
<line x1="60.5" y1="645.5" x2="90" y2="645.5" stroke="#dcd656" stroke-width="2.3"/>
<text x="93.2" y="649.5" font-size="10.8" fill="#1a1a1a" textLength="69.6" lengthAdjust="spacingAndGlyphs">Mock 4 Gy HCT</text>
<line x1="60.5" y1="656.2" x2="90" y2="656.2" stroke="#1f9a24" stroke-width="2.3"/>
<text x="93.2" y="660.2" font-size="10.8" fill="#1a1a1a" textLength="67.1" lengthAdjust="spacingAndGlyphs">EPO 4 Gy HCT</text>
<path d="M75.2,622.4 L78.3,625.5 L75.2,628.6 L72.1,625.5 Z" fill="#1a35e0"/>
<rect x="71.9" y="632.2" width="6.6" height="6.6" fill="#ee3322"/>
<path d="M75.2,642.5 L78,647.8 L72.4,647.8 Z" fill="#dcd656" stroke="#222" stroke-width="1"/>
<rect x="72.7" y="653.7" width="5" height="5" fill="#1f9a24"/>
<text x="67.8" y="714.3" font-size="11.7" text-anchor="middle" fill="#1a1a1a">1d</text>
<text x="94.57" y="714.3" font-size="11.7" text-anchor="middle" fill="#1a1a1a">2d</text>
<text x="121.34" y="714.3" font-size="11.7" text-anchor="middle" fill="#1a1a1a">3d</text>
<text x="148.11" y="714.3" font-size="11.7" text-anchor="middle" fill="#1a1a1a">4d</text>
<text x="174.88" y="714.3" font-size="11.7" text-anchor="middle" fill="#1a1a1a">5d</text>
<text x="201.65" y="714.3" font-size="11.7" text-anchor="middle" fill="#1a1a1a">6d</text>
<text x="228.42" y="714.3" font-size="11.7" text-anchor="middle" fill="#1a1a1a">7d</text>
<text x="145" y="728.2" font-size="11.5" font-weight="bold" text-anchor="middle" fill="#1a1a1a" textLength="117" lengthAdjust="spacingAndGlyphs">Days Post-Radiation</text>
<text x="281.5" y="536.3" font-size="17" font-weight="bold">D</text>
<text x="309.6" y="562.5" font-size="14.2" fill="#2a36c8" textLength="72" lengthAdjust="spacingAndGlyphs">Mock 4 Gy</text>
<line x1="309.6" y1="564.4" x2="381.4" y2="564.4" stroke="#2a36c8" stroke-width="1.5"/>
<text x="428.6" y="562.5" font-size="14.2" fill="#e0301c" textLength="67.2" lengthAdjust="spacingAndGlyphs">EPO 4 Gy</text>
<line x1="428.6" y1="564.4" x2="495.8" y2="564.4" stroke="#e0301c" stroke-width="1.5"/>
<clipPath id="clip11"><rect x="294.2" y="566.6" width="109.5" height="123"/></clipPath><filter id="bl11" x="0" y="0" width="1" height="1"><feGaussianBlur stdDeviation="0.45"/></filter><g clip-path="url(#clip11)"><g filter="url(#bl11)">
<rect x="294.2" y="566.6" width="109.5" height="123" fill="#dccfe0"/>
<path d="M308.4,605.6 L312.8,593.5 L320.5,588 L330.4,586.9 L338.1,590.2 L345.7,586.9 L355.6,585.8 L364.4,591.3 L362.2,600.1 L355.6,606.7 L349,608.9 L344.6,615.4 L335.9,617.6 L324.9,616.5 L316.1,614.3 L309.5,611.1 Z" fill="#dfe9ef"/>
<path d="M322.7,643.9 L329.3,638.5 L342.4,637.4 L352.3,640.7 L355.6,647.2 L352.3,654.9 L343.5,659.3 L332.6,659.3 L324.9,656 L320.5,650.5 Z" fill="#dfe9ef"/>
<path d="M298.6,654.9 L305.2,651.6 L316.1,651.6 L322.7,657.1 L321.6,665.9 L313.9,670.3 L305.2,671.4 L299.7,668.1 L297.5,661.5 Z" fill="#dfe9ef"/>
<path d="M379.7,622 L384.1,615.4 L392.9,612.1 L400.6,615.4 L402.7,626.4 L401.6,639.6 L399.5,649.4 L391.8,652.7 L384.1,651.6 L380.8,643.9 L379.7,633 Z" fill="#dfe9ef"/>
<path d="M296.4,569.4 L305.2,568.3 L311.7,573.8 L309.5,580.4 L300.8,581.4 L295.3,577.1 Z" fill="#dfe9ef"/>
<path d="M342.4,668.1 L350.1,666.3 L356,670.3 L354.5,676.8 L346.8,677.9 L342,673.6 Z" fill="#dfe9ef"/>
<path d="M373.1,673.6 L380.8,672 L386.7,675.7 L384.1,681.7 L376.4,682.3 L372.7,677.9 Z" fill="#dfe9ef"/>
<circle cx="296.2" cy="567.5" r="1.5" fill="#cf3058"/>
<circle cx="300.7" cy="568.2" r="1.5" fill="#d63c66"/>
<circle cx="307.5" cy="567.6" r="1.5" fill="#dc3862"/>
<circle cx="309.5" cy="567.5" r="1.4" fill="#dc3862"/>
<circle cx="312.6" cy="567.4" r="1.2" fill="#dc3862"/>
<circle cx="315.9" cy="567.3" r="1.4" fill="#d63c66"/>
<circle cx="325.3" cy="567.2" r="1.4" fill="#dc3862"/>
<circle cx="328.1" cy="567.2" r="1.2" fill="#d63c66"/>
<circle cx="329.8" cy="568" r="1.3" fill="#cf3058"/>
<circle cx="333" cy="567.6" r="1.5" fill="#cf3058"/>
<circle cx="344.3" cy="567.2" r="1.3" fill="#cf3058"/>
<circle cx="350.5" cy="567.4" r="1.5" fill="#d63c66"/>
<circle cx="355.3" cy="567.6" r="1.4" fill="#e4466e"/>
<circle cx="368.8" cy="568.1" r="1.3" fill="#e4466e"/>
<circle cx="378.4" cy="567.9" r="1.2" fill="#dc3862"/>
<circle cx="385.3" cy="567.9" r="1.3" fill="#dc3862"/>
<circle cx="390.8" cy="568" r="1.4" fill="#e4466e"/>
<circle cx="392.1" cy="567.4" r="1.2" fill="#e4466e"/>
<circle cx="309.5" cy="569.7" r="1.3" fill="#dc3862"/>
<circle cx="332.3" cy="569.5" r="1.2" fill="#e4466e"/>
<circle cx="338.5" cy="570.6" r="1.5" fill="#dc3862"/>
<circle cx="346.3" cy="570" r="1.5" fill="#d63c66"/>
<circle cx="347.9" cy="570.4" r="1.3" fill="#d63c66"/>
<circle cx="352.2" cy="569.3" r="1.5" fill="#dc3862"/>
<circle cx="355.7" cy="570.1" r="1.4" fill="#dc3862"/>
<circle cx="357.7" cy="569.7" r="1.5" fill="#d63c66"/>
<circle cx="359" cy="569.5" r="1.1" fill="#dc3862"/>
<circle cx="361.8" cy="570" r="1.3" fill="#dc3862"/>
<circle cx="366" cy="570.1" r="1.5" fill="#e4466e"/>
<circle cx="369" cy="569.9" r="1.4" fill="#dc3862"/>
<circle cx="380.3" cy="570.5" r="1.1" fill="#d63c66"/>
<circle cx="385.4" cy="569.6" r="1.1" fill="#e4466e"/>
<circle cx="386.8" cy="569.8" r="1.2" fill="#d63c66"/>
<circle cx="389" cy="570.2" r="1.2" fill="#cf3058"/>
<circle cx="391.6" cy="569.8" r="1.1" fill="#d63c66"/>
<circle cx="295.4" cy="572.8" r="1.2" fill="#dc3862"/>
<circle cx="297.4" cy="572" r="1.5" fill="#d63c66"/>
<circle cx="302.4" cy="571.6" r="1.5" fill="#d63c66"/>
<circle cx="317.9" cy="572.7" r="1.1" fill="#dc3862"/>
<circle cx="323.5" cy="572.5" r="1.4" fill="#dc3862"/>
<circle cx="325.8" cy="572.1" r="1.2" fill="#e4466e"/>
<circle cx="341.4" cy="572.2" r="1.3" fill="#e4466e"/>
<circle cx="366.2" cy="572.3" r="1.3" fill="#d63c66"/>
<circle cx="369.3" cy="572.6" r="1.2" fill="#dc3862"/>
<circle cx="371.2" cy="571.8" r="1.3" fill="#e4466e"/>
<circle cx="372.9" cy="572.3" r="1.3" fill="#dc3862"/>
<circle cx="376.4" cy="571.8" r="1.1" fill="#dc3862"/>
<circle cx="378.1" cy="572.1" r="1.2" fill="#dc3862"/>
<circle cx="384.7" cy="571.7" r="1.1" fill="#cf3058"/>
<circle cx="387.1" cy="572.4" r="1.2" fill="#dc3862"/>
<circle cx="391.5" cy="571.9" r="1.4" fill="#dc3862"/>
<circle cx="394.7" cy="572.6" r="1.3" fill="#d63c66"/>
<circle cx="401.8" cy="571.7" r="1.4" fill="#dc3862"/>
<circle cx="294.9" cy="575" r="1.2" fill="#cf3058"/>
<circle cx="320.2" cy="574.3" r="1.3" fill="#d63c66"/>
<circle cx="322.4" cy="574.1" r="1.3" fill="#dc3862"/>
<circle cx="336.3" cy="574.3" r="1.5" fill="#dc3862"/>
<circle cx="356.9" cy="574.1" r="1.4" fill="#cf3058"/>
<circle cx="361.6" cy="574.2" r="1.2" fill="#dc3862"/>
<circle cx="370.8" cy="574.8" r="1.5" fill="#dc3862"/>
<circle cx="374" cy="574.1" r="1.1" fill="#d63c66"/>
<circle cx="375.6" cy="574.4" r="1.2" fill="#cf3058"/>
<circle cx="377.8" cy="574.5" r="1.1" fill="#cf3058"/>
<circle cx="380.2" cy="574.5" r="1.4" fill="#dc3862"/>
<circle cx="382.3" cy="573.9" r="1.3" fill="#cf3058"/>
<circle cx="384.5" cy="574.6" r="1.3" fill="#d63c66"/>
<circle cx="387.5" cy="573.8" r="1.2" fill="#e4466e"/>
<circle cx="388.9" cy="574.4" r="1.3" fill="#e4466e"/>
<circle cx="392" cy="574.5" r="1.2" fill="#dc3862"/>
<circle cx="310.1" cy="576.4" r="1.3" fill="#d63c66"/>
<circle cx="332.4" cy="576.8" r="1.1" fill="#e4466e"/>
<circle cx="357.8" cy="576.4" r="1.3" fill="#e4466e"/>
<circle cx="361.1" cy="577.4" r="1.4" fill="#dc3862"/>
<circle cx="362.7" cy="577" r="1.5" fill="#dc3862"/>
<circle cx="366.9" cy="576.2" r="1.4" fill="#e4466e"/>
<circle cx="370.4" cy="576.3" r="1.1" fill="#e4466e"/>
<circle cx="372" cy="576.8" r="1.2" fill="#dc3862"/>
<circle cx="374.7" cy="577.3" r="1.2" fill="#cf3058"/>
<circle cx="378.7" cy="577.1" r="1.5" fill="#cf3058"/>
<circle cx="380.7" cy="576.4" r="1.5" fill="#dc3862"/>
<circle cx="383.1" cy="576.8" r="1.2" fill="#dc3862"/>
<circle cx="385.1" cy="576.9" r="1.4" fill="#cf3058"/>
<circle cx="387.8" cy="576.4" r="1.2" fill="#d63c66"/>
<circle cx="390.1" cy="576.2" r="1.5" fill="#dc3862"/>
<circle cx="392.4" cy="576.2" r="1.3" fill="#d63c66"/>
<circle cx="399.4" cy="576.2" r="1.4" fill="#cf3058"/>
<circle cx="310.4" cy="579.4" r="1.5" fill="#e4466e"/>
<circle cx="314" cy="579.7" r="1.4" fill="#e4466e"/>
<circle cx="316.5" cy="579.7" r="1.3" fill="#d63c66"/>
<circle cx="318.8" cy="578.9" r="1.4" fill="#cf3058"/>
<circle cx="330.9" cy="578.7" r="1.1" fill="#dc3862"/>
<circle cx="332.8" cy="579" r="1.3" fill="#dc3862"/>
<circle cx="339.6" cy="579.5" r="1.5" fill="#cf3058"/>
<circle cx="347.4" cy="578.9" r="1.2" fill="#cf3058"/>
<circle cx="351.6" cy="578.7" r="1.5" fill="#e4466e"/>
<circle cx="354.2" cy="579.3" r="1.3" fill="#d63c66"/>
<circle cx="358.2" cy="579.3" r="1.2" fill="#cf3058"/>
<circle cx="360.2" cy="579.2" r="1.3" fill="#cf3058"/>
<circle cx="362.2" cy="579.3" r="1.3" fill="#cf3058"/>
<circle cx="365.3" cy="579.7" r="1.3" fill="#e4466e"/>
<circle cx="368.2" cy="579.4" r="1.4" fill="#d63c66"/>
<circle cx="377.1" cy="579.5" r="1.5" fill="#cf3058"/>
<circle cx="378.4" cy="579.6" r="1.2" fill="#cf3058"/>
<circle cx="381.7" cy="579" r="1.5" fill="#cf3058"/>
<circle cx="383.2" cy="578.8" r="1.1" fill="#dc3862"/>
<circle cx="386" cy="579.5" r="1.2" fill="#d63c66"/>
<circle cx="392.3" cy="578.9" r="1.1" fill="#dc3862"/>
<circle cx="401.4" cy="579.8" r="1.4" fill="#d63c66"/>
<circle cx="297.8" cy="581.2" r="1.4" fill="#e4466e"/>
<circle cx="302.6" cy="581.7" r="1.1" fill="#cf3058"/>
<circle cx="309.8" cy="581.1" r="1.1" fill="#e4466e"/>
<circle cx="316.7" cy="581.7" r="1.3" fill="#d63c66"/>
<circle cx="318.9" cy="581.9" r="1.5" fill="#d63c66"/>
<circle cx="332.7" cy="581.3" r="1.5" fill="#dc3862"/>
<circle cx="339.4" cy="581.9" r="1.2" fill="#dc3862"/>
<circle cx="349.1" cy="581.1" r="1.4" fill="#dc3862"/>
<circle cx="353.6" cy="581.9" r="1.4" fill="#d63c66"/>
<circle cx="360.2" cy="581.2" r="1.2" fill="#dc3862"/>
<circle cx="363.2" cy="580.8" r="1.4" fill="#dc3862"/>
<circle cx="365.4" cy="581.7" r="1.5" fill="#d63c66"/>
<circle cx="367.8" cy="581.8" r="1.3" fill="#dc3862"/>
<circle cx="372.7" cy="580.7" r="1.3" fill="#e4466e"/>
<circle cx="376.7" cy="580.9" r="1.1" fill="#dc3862"/>
<circle cx="378.4" cy="581.4" r="1.4" fill="#e4466e"/>
<circle cx="381" cy="581.3" r="1.2" fill="#cf3058"/>
<circle cx="383.5" cy="581.5" r="1.5" fill="#d63c66"/>
<circle cx="385.4" cy="581.9" r="1.5" fill="#e4466e"/>
<circle cx="399.9" cy="581.9" r="1.3" fill="#d63c66"/>
<circle cx="401.4" cy="581.1" r="1.5" fill="#cf3058"/>
<circle cx="299.9" cy="584" r="1.2" fill="#dc3862"/>
<circle cx="302.4" cy="583.7" r="1.3" fill="#cf3058"/>
<circle cx="309" cy="583.1" r="1.2" fill="#d63c66"/>
<circle cx="318.4" cy="583.8" r="1.2" fill="#dc3862"/>
<circle cx="321" cy="583.8" r="1.3" fill="#d63c66"/>
<circle cx="323.2" cy="584.1" r="1.1" fill="#cf3058"/>
<circle cx="329.8" cy="583.9" r="1.5" fill="#d63c66"/>
<circle cx="335.1" cy="583.9" r="1.4" fill="#d63c66"/>
<circle cx="339.9" cy="583.9" r="1.5" fill="#e4466e"/>
<circle cx="341.9" cy="583.8" r="1.4" fill="#e4466e"/>
<circle cx="348.4" cy="584" r="1.3" fill="#cf3058"/>
<circle cx="350.7" cy="583.2" r="1.4" fill="#cf3058"/>
<circle cx="355.4" cy="583.2" r="1.2" fill="#e4466e"/>
<circle cx="359.6" cy="583.6" r="1.5" fill="#cf3058"/>
<circle cx="361.8" cy="584.2" r="1.1" fill="#dc3862"/>
<circle cx="366.9" cy="584" r="1.4" fill="#cf3058"/>
<circle cx="368.6" cy="584" r="1.3" fill="#dc3862"/>
<circle cx="371.1" cy="583.5" r="1.2" fill="#e4466e"/>
<circle cx="373.9" cy="583.7" r="1.3" fill="#cf3058"/>
<circle cx="376.6" cy="583.5" r="1.3" fill="#e4466e"/>
<circle cx="379" cy="583.5" r="1.2" fill="#cf3058"/>
<circle cx="382.4" cy="584.1" r="1.4" fill="#dc3862"/>
<circle cx="390.2" cy="583.2" r="1.5" fill="#d63c66"/>
<circle cx="394.5" cy="583.5" r="1.5" fill="#cf3058"/>
<circle cx="397.1" cy="584.1" r="1.4" fill="#cf3058"/>
<circle cx="316.9" cy="585.7" r="1.5" fill="#dc3862"/>
<circle cx="318.7" cy="586.4" r="1.3" fill="#d63c66"/>
<circle cx="323.5" cy="586.1" r="1.2" fill="#dc3862"/>
<circle cx="329.8" cy="586.1" r="1.5" fill="#e4466e"/>
<circle cx="332.4" cy="586.5" r="1.4" fill="#dc3862"/>
<circle cx="340" cy="586" r="1.3" fill="#cf3058"/>
<circle cx="348.9" cy="585.5" r="1.2" fill="#dc3862"/>
<circle cx="356.3" cy="585.3" r="1.3" fill="#dc3862"/>
<circle cx="358.2" cy="586.2" r="1.5" fill="#d63c66"/>
<circle cx="365.5" cy="585.3" r="1.5" fill="#dc3862"/>
<circle cx="369.8" cy="586.4" r="1.1" fill="#cf3058"/>
<circle cx="387.5" cy="586" r="1.5" fill="#cf3058"/>
<circle cx="389.7" cy="585.6" r="1.2" fill="#d63c66"/>
<circle cx="392.8" cy="586.2" r="1.3" fill="#d63c66"/>
<circle cx="394.2" cy="586.4" r="1.2" fill="#d63c66"/>
<circle cx="296" cy="588.1" r="1.3" fill="#dc3862"/>
<circle cx="313.9" cy="588.1" r="1.2" fill="#e4466e"/>
<circle cx="316.9" cy="587.7" r="1.2" fill="#cf3058"/>
<circle cx="318" cy="588" r="1.1" fill="#d63c66"/>
<circle cx="341.5" cy="587.7" r="1.1" fill="#d63c66"/>
<circle cx="344.2" cy="587.9" r="1.2" fill="#cf3058"/>
<circle cx="348.4" cy="587.9" r="1.2" fill="#dc3862"/>
<circle cx="367.6" cy="588" r="1.4" fill="#cf3058"/>
<circle cx="368.8" cy="588.4" r="1.5" fill="#d63c66"/>
<circle cx="391.9" cy="588.9" r="1.3" fill="#d63c66"/>
<circle cx="394.6" cy="588.9" r="1.3" fill="#d63c66"/>
<circle cx="305.8" cy="590.8" r="1.4" fill="#dc3862"/>
<circle cx="313.9" cy="590.9" r="1.5" fill="#d63c66"/>
<circle cx="342" cy="590.6" r="1.5" fill="#cf3058"/>
<circle cx="348.5" cy="590.4" r="1.1" fill="#dc3862"/>
<circle cx="366.9" cy="591" r="1.1" fill="#dc3862"/>
<circle cx="379.4" cy="591.1" r="1.1" fill="#dc3862"/>
<circle cx="388.2" cy="590.8" r="1.4" fill="#dc3862"/>
<circle cx="389.8" cy="590" r="1.1" fill="#dc3862"/>
<circle cx="392" cy="590.4" r="1.1" fill="#e4466e"/>
<circle cx="395.5" cy="591.1" r="1.3" fill="#cf3058"/>
<circle cx="396.9" cy="591.3" r="1.2" fill="#cf3058"/>
<circle cx="401.6" cy="591.1" r="1.4" fill="#d63c66"/>
<circle cx="365.5" cy="593.5" r="1.1" fill="#cf3058"/>
<circle cx="369.9" cy="592.6" r="1.4" fill="#dc3862"/>
<circle cx="371.3" cy="593.3" r="1.2" fill="#e4466e"/>
<circle cx="374.5" cy="593.2" r="1.5" fill="#d63c66"/>
<circle cx="376.1" cy="592.9" r="1.3" fill="#d63c66"/>
<circle cx="381.8" cy="592.5" r="1.4" fill="#cf3058"/>
<circle cx="388.3" cy="592.4" r="1.4" fill="#e4466e"/>
<circle cx="392.4" cy="592.5" r="1.1" fill="#d63c66"/>
<circle cx="397.3" cy="592.3" r="1.2" fill="#d63c66"/>
<circle cx="401.2" cy="592.4" r="1.4" fill="#cf3058"/>
<circle cx="299.8" cy="595" r="1.2" fill="#e4466e"/>
<circle cx="302" cy="594.5" r="1.3" fill="#e4466e"/>
<circle cx="332.8" cy="595.7" r="1.2" fill="#cf3058"/>
<circle cx="363.9" cy="595.4" r="1.5" fill="#d63c66"/>
<circle cx="367" cy="595.6" r="1.1" fill="#e4466e"/>
<circle cx="369.4" cy="594.7" r="1.1" fill="#dc3862"/>
<circle cx="373.3" cy="595.7" r="1.4" fill="#dc3862"/>
<circle cx="376.1" cy="595.8" r="1.3" fill="#d63c66"/>
<circle cx="385.3" cy="594.6" r="1.2" fill="#d63c66"/>
<circle cx="390.4" cy="595.4" r="1.2" fill="#d63c66"/>
<circle cx="392.3" cy="595.2" r="1.3" fill="#e4466e"/>
<circle cx="394.1" cy="595.2" r="1.1" fill="#dc3862"/>
<circle cx="397.3" cy="595" r="1.1" fill="#d63c66"/>
<circle cx="399" cy="595.8" r="1.3" fill="#d63c66"/>
<circle cx="301.7" cy="597.9" r="1.1" fill="#e4466e"/>
<circle cx="309.4" cy="598.1" r="1.1" fill="#cf3058"/>
<circle cx="311.2" cy="597.1" r="1.2" fill="#e4466e"/>
<circle cx="322.6" cy="597.3" r="1.5" fill="#dc3862"/>
<circle cx="366.3" cy="597.6" r="1.1" fill="#dc3862"/>
<circle cx="368.3" cy="596.8" r="1.2" fill="#dc3862"/>
<circle cx="372" cy="597.7" r="1.4" fill="#d63c66"/>
<circle cx="376.5" cy="597.4" r="1.2" fill="#e4466e"/>
<circle cx="378" cy="597.8" r="1.4" fill="#cf3058"/>
<circle cx="382.4" cy="597.7" r="1.1" fill="#dc3862"/>
<circle cx="389.1" cy="596.9" r="1.3" fill="#dc3862"/>
<circle cx="392.5" cy="597.8" r="1.5" fill="#dc3862"/>
<circle cx="394.1" cy="597" r="1.1" fill="#d63c66"/>
<circle cx="396.2" cy="596.9" r="1.1" fill="#cf3058"/>
<circle cx="399" cy="597" r="1.5" fill="#d63c66"/>
<circle cx="301" cy="599.8" r="1.3" fill="#dc3862"/>
<circle cx="308.4" cy="600.2" r="1.3" fill="#e4466e"/>
<circle cx="314.4" cy="600.5" r="1.2" fill="#cf3058"/>
<circle cx="367.8" cy="599.7" r="1.1" fill="#dc3862"/>
<circle cx="371.9" cy="599.6" r="1.5" fill="#cf3058"/>
<circle cx="376.9" cy="600.2" r="1.5" fill="#dc3862"/>
<circle cx="379.7" cy="599.7" r="1.2" fill="#dc3862"/>
<circle cx="381.2" cy="599.6" r="1.2" fill="#d63c66"/>
<circle cx="386.2" cy="600.3" r="1.4" fill="#dc3862"/>
<circle cx="387.9" cy="599.5" r="1.4" fill="#cf3058"/>
<circle cx="391.1" cy="599.5" r="1.1" fill="#e4466e"/>
<circle cx="397.9" cy="599.6" r="1.2" fill="#e4466e"/>
<circle cx="399.4" cy="599.7" r="1.4" fill="#dc3862"/>
<circle cx="307" cy="601.5" r="1.3" fill="#e4466e"/>
<circle cx="322.5" cy="601.6" r="1.1" fill="#cf3058"/>
<circle cx="334" cy="602.6" r="1.2" fill="#d63c66"/>
<circle cx="346.1" cy="602.2" r="1.5" fill="#cf3058"/>
<circle cx="369.1" cy="601.6" r="1.2" fill="#d63c66"/>
<circle cx="371.1" cy="601.5" r="1.3" fill="#cf3058"/>
<circle cx="374.2" cy="602.6" r="1.2" fill="#d63c66"/>
<circle cx="375.7" cy="601.8" r="1.3" fill="#cf3058"/>
<circle cx="378.7" cy="601.9" r="1.1" fill="#cf3058"/>
<circle cx="379.9" cy="602.5" r="1.4" fill="#d63c66"/>
<circle cx="383.2" cy="601.5" r="1.2" fill="#d63c66"/>
<circle cx="385.5" cy="602.4" r="1.3" fill="#dc3862"/>
<circle cx="393.9" cy="602.8" r="1.5" fill="#d63c66"/>
<circle cx="396.1" cy="601.8" r="1.5" fill="#cf3058"/>
<circle cx="399.2" cy="601.7" r="1.5" fill="#e4466e"/>
<circle cx="401.2" cy="601.5" r="1.2" fill="#e4466e"/>
<circle cx="300.1" cy="604" r="1.1" fill="#dc3862"/>
<circle cx="307.2" cy="604.2" r="1.1" fill="#dc3862"/>
<circle cx="311.1" cy="604.4" r="1.5" fill="#d63c66"/>
<circle cx="376.7" cy="604.1" r="1.5" fill="#dc3862"/>
<circle cx="379.1" cy="604.7" r="1.4" fill="#cf3058"/>
<circle cx="381.2" cy="604.4" r="1.3" fill="#dc3862"/>
<circle cx="386" cy="604" r="1.5" fill="#dc3862"/>
<circle cx="399.1" cy="604.6" r="1.4" fill="#e4466e"/>
<circle cx="401.3" cy="604.6" r="1.5" fill="#cf3058"/>
<circle cx="296.4" cy="606.6" r="1.3" fill="#e4466e"/>
<circle cx="298.6" cy="606.8" r="1.1" fill="#cf3058"/>
<circle cx="300.5" cy="606.3" r="1.2" fill="#e4466e"/>
<circle cx="358.6" cy="607" r="1.1" fill="#d63c66"/>
<circle cx="382.7" cy="607.1" r="1.5" fill="#cf3058"/>
<circle cx="386.2" cy="606.7" r="1.1" fill="#cf3058"/>
<circle cx="388.3" cy="606.1" r="1.5" fill="#d63c66"/>
<circle cx="396.9" cy="607.2" r="1.4" fill="#d63c66"/>
<circle cx="399.3" cy="606.3" r="1.5" fill="#e4466e"/>
<circle cx="297.9" cy="609.6" r="1.2" fill="#cf3058"/>
<circle cx="299.6" cy="608.5" r="1.3" fill="#dc3862"/>
<circle cx="316.7" cy="609.1" r="1.2" fill="#cf3058"/>
<circle cx="327" cy="609" r="1.3" fill="#dc3862"/>
<circle cx="344" cy="608.9" r="1.1" fill="#cf3058"/>
<circle cx="350.9" cy="609.6" r="1.1" fill="#cf3058"/>
<circle cx="352.4" cy="608.4" r="1.4" fill="#cf3058"/>
<circle cx="355.2" cy="608.5" r="1.1" fill="#e4466e"/>
<circle cx="382.2" cy="608.9" r="1.3" fill="#d63c66"/>
<circle cx="385.5" cy="609.3" r="1.3" fill="#cf3058"/>
<circle cx="387.3" cy="608.4" r="1.3" fill="#cf3058"/>
<circle cx="396.7" cy="608.5" r="1.5" fill="#dc3862"/>
<circle cx="399" cy="609.2" r="1.1" fill="#e4466e"/>
<circle cx="298.8" cy="610.9" r="1.1" fill="#dc3862"/>
<circle cx="335.3" cy="610.9" r="1.2" fill="#cf3058"/>
<circle cx="347" cy="611.9" r="1.3" fill="#cf3058"/>
<circle cx="348.8" cy="611.2" r="1.4" fill="#e4466e"/>
<circle cx="350.5" cy="610.9" r="1.2" fill="#cf3058"/>
<circle cx="353" cy="610.7" r="1.1" fill="#e4466e"/>
<circle cx="383.3" cy="610.8" r="1.2" fill="#e4466e"/>
<circle cx="385.1" cy="611.8" r="1.4" fill="#d63c66"/>
<circle cx="389.6" cy="611.8" r="1.5" fill="#e4466e"/>
<circle cx="402.3" cy="611.4" r="1.3" fill="#e4466e"/>
<circle cx="317.6" cy="612.9" r="1.5" fill="#cf3058"/>
<circle cx="321.5" cy="614.1" r="1.1" fill="#d63c66"/>
<circle cx="349" cy="613.6" r="1.1" fill="#dc3862"/>
<circle cx="351.6" cy="613.1" r="1.1" fill="#dc3862"/>
<circle cx="353.8" cy="613.2" r="1.4" fill="#d63c66"/>
<circle cx="362.6" cy="614" r="1.1" fill="#cf3058"/>
<circle cx="387.7" cy="613.6" r="1.2" fill="#e4466e"/>
<circle cx="394.7" cy="613.1" r="1.5" fill="#dc3862"/>
<circle cx="398" cy="613.4" r="1.4" fill="#cf3058"/>
<circle cx="298.4" cy="615.5" r="1.1" fill="#d63c66"/>
<circle cx="310" cy="615.6" r="1.4" fill="#d63c66"/>
<circle cx="314.4" cy="615.5" r="1.4" fill="#e4466e"/>
<circle cx="317.3" cy="615.6" r="1.3" fill="#d63c66"/>
<circle cx="342.3" cy="616.3" r="1.1" fill="#d63c66"/>
<circle cx="346.7" cy="616.3" r="1.4" fill="#dc3862"/>
<circle cx="348.5" cy="615.6" r="1.3" fill="#e4466e"/>
<circle cx="351.4" cy="616.2" r="1.5" fill="#cf3058"/>
<circle cx="367.2" cy="616" r="1.2" fill="#cf3058"/>
<circle cx="397" cy="616.1" r="1.4" fill="#dc3862"/>
<circle cx="306.4" cy="617.6" r="1.2" fill="#d63c66"/>
<circle cx="308.8" cy="617.9" r="1.1" fill="#dc3862"/>
<circle cx="311.6" cy="618.6" r="1.1" fill="#cf3058"/>
<circle cx="314.2" cy="617.6" r="1.3" fill="#d63c66"/>
<circle cx="344" cy="618" r="1.2" fill="#dc3862"/>
<circle cx="346.1" cy="618.1" r="1.1" fill="#cf3058"/>
<circle cx="348" cy="618.5" r="1.3" fill="#cf3058"/>
<circle cx="359.9" cy="618.5" r="1.4" fill="#cf3058"/>
<circle cx="364.3" cy="617.8" r="1.4" fill="#dc3862"/>
<circle cx="383.2" cy="617.9" r="1.4" fill="#e4466e"/>
<circle cx="392.4" cy="617.7" r="1.3" fill="#d63c66"/>
<circle cx="299" cy="620.2" r="1.5" fill="#dc3862"/>
<circle cx="324.4" cy="620.9" r="1.2" fill="#d63c66"/>
<circle cx="327.8" cy="620.4" r="1.1" fill="#d63c66"/>
<circle cx="346.4" cy="620.1" r="1.4" fill="#e4466e"/>
<circle cx="351.3" cy="620.3" r="1.1" fill="#dc3862"/>
<circle cx="354.3" cy="620.2" r="1.5" fill="#dc3862"/>
<circle cx="368.2" cy="620.5" r="1.4" fill="#e4466e"/>
<circle cx="371.7" cy="620" r="1.3" fill="#dc3862"/>
<circle cx="374.2" cy="621.1" r="1.4" fill="#dc3862"/>
<circle cx="397.2" cy="620.8" r="1.5" fill="#cf3058"/>
<circle cx="308.9" cy="622.4" r="1.1" fill="#e4466e"/>
<circle cx="316" cy="622.6" r="1.1" fill="#cf3058"/>
<circle cx="325.2" cy="623.1" r="1.1" fill="#cf3058"/>
<circle cx="344" cy="622.8" r="1.4" fill="#cf3058"/>
<circle cx="369.5" cy="623.5" r="1.4" fill="#cf3058"/>
<circle cx="373.1" cy="622.3" r="1.3" fill="#e4466e"/>
<circle cx="375.7" cy="622.3" r="1.4" fill="#d63c66"/>
<circle cx="401" cy="622.3" r="1.4" fill="#e4466e"/>
<circle cx="296.5" cy="625.7" r="1.4" fill="#e4466e"/>
<circle cx="301.5" cy="625.7" r="1.3" fill="#d63c66"/>
<circle cx="310.5" cy="625.4" r="1.4" fill="#cf3058"/>
<circle cx="311.9" cy="625.1" r="1.2" fill="#dc3862"/>
<circle cx="316.8" cy="624.9" r="1.4" fill="#dc3862"/>
<circle cx="319.1" cy="624.7" r="1.3" fill="#dc3862"/>
<circle cx="325.6" cy="625" r="1.2" fill="#dc3862"/>
<circle cx="330.4" cy="624.8" r="1.5" fill="#cf3058"/>
<circle cx="333.4" cy="625.6" r="1.1" fill="#cf3058"/>
<circle cx="338.2" cy="624.4" r="1.2" fill="#e4466e"/>
<circle cx="369.7" cy="624.9" r="1.3" fill="#e4466e"/>
<circle cx="400.1" cy="624.7" r="1.5" fill="#cf3058"/>
<circle cx="299.9" cy="627.3" r="1.3" fill="#e4466e"/>
<circle cx="320.8" cy="627.3" r="1.4" fill="#dc3862"/>
<circle cx="332.1" cy="627.6" r="1.1" fill="#d63c66"/>
<circle cx="341.9" cy="627.2" r="1.2" fill="#dc3862"/>
<circle cx="346.9" cy="626.7" r="1.1" fill="#d63c66"/>
<circle cx="371.1" cy="626.9" r="1.3" fill="#dc3862"/>
<circle cx="373.5" cy="626.8" r="1.5" fill="#dc3862"/>
<circle cx="376.9" cy="628" r="1.2" fill="#d63c66"/>
<circle cx="379" cy="626.7" r="1.4" fill="#cf3058"/>
<circle cx="401.4" cy="627.9" r="1.2" fill="#e4466e"/>
<circle cx="298.1" cy="630.3" r="1.2" fill="#e4466e"/>
<circle cx="318.5" cy="629.6" r="1.5" fill="#d63c66"/>
<circle cx="320.6" cy="630.3" r="1.5" fill="#dc3862"/>
<circle cx="325.6" cy="629.6" r="1.5" fill="#cf3058"/>
<circle cx="327.7" cy="630.1" r="1.1" fill="#dc3862"/>
<circle cx="329.7" cy="630.1" r="1.1" fill="#dc3862"/>
<circle cx="354.9" cy="629.5" r="1.5" fill="#cf3058"/>
<circle cx="370.8" cy="629.7" r="1.3" fill="#dc3862"/>
<circle cx="378.7" cy="629.3" r="1.3" fill="#cf3058"/>
<circle cx="299.2" cy="632.5" r="1.5" fill="#cf3058"/>
<circle cx="336.1" cy="631.5" r="1.4" fill="#d63c66"/>
<circle cx="337.5" cy="631.8" r="1.5" fill="#cf3058"/>
<circle cx="339.9" cy="632.1" r="1.5" fill="#cf3058"/>
<circle cx="341.8" cy="632.3" r="1.3" fill="#d63c66"/>
<circle cx="356.5" cy="631.9" r="1.5" fill="#d63c66"/>
<circle cx="377.1" cy="632" r="1.5" fill="#cf3058"/>
<circle cx="379.6" cy="632.5" r="1.4" fill="#e4466e"/>
<circle cx="394.9" cy="632" r="1.4" fill="#cf3058"/>
<circle cx="305.3" cy="634.9" r="1.2" fill="#e4466e"/>
<circle cx="322" cy="634.5" r="1.3" fill="#cf3058"/>
<circle cx="332.5" cy="634.2" r="1.1" fill="#e4466e"/>
<circle cx="338" cy="634" r="1.3" fill="#cf3058"/>
<circle cx="339.5" cy="634.6" r="1.5" fill="#d63c66"/>
<circle cx="344" cy="634.5" r="1.3" fill="#cf3058"/>
<circle cx="357.8" cy="634.1" r="1.4" fill="#dc3862"/>
<circle cx="369" cy="634.3" r="1.5" fill="#dc3862"/>
<circle cx="375.9" cy="634.9" r="1.4" fill="#d63c66"/>
<circle cx="379.2" cy="634.4" r="1.2" fill="#dc3862"/>
<circle cx="300.2" cy="636.4" r="1.1" fill="#d63c66"/>
<circle cx="309.5" cy="635.9" r="1.4" fill="#e4466e"/>
<circle cx="325.8" cy="636.9" r="1.4" fill="#d63c66"/>
<circle cx="332.7" cy="636.9" r="1.3" fill="#dc3862"/>
<circle cx="351" cy="636.7" r="1.2" fill="#d63c66"/>
<circle cx="353.8" cy="636.3" r="1.1" fill="#e4466e"/>
<circle cx="364.3" cy="636.8" r="1.5" fill="#e4466e"/>
<circle cx="366.8" cy="636.8" r="1.1" fill="#d63c66"/>
<circle cx="372.4" cy="636.1" r="1.2" fill="#dc3862"/>
<circle cx="375.7" cy="636.7" r="1.2" fill="#cf3058"/>
<circle cx="402" cy="636.6" r="1.1" fill="#dc3862"/>
<circle cx="298.3" cy="638.7" r="1.2" fill="#d63c66"/>
<circle cx="300.7" cy="638.8" r="1.1" fill="#dc3862"/>
<circle cx="305.3" cy="638.9" r="1.4" fill="#e4466e"/>
<circle cx="314" cy="639.4" r="1.3" fill="#cf3058"/>
<circle cx="326.1" cy="639.3" r="1.3" fill="#d63c66"/>
<circle cx="353.4" cy="639.3" r="1.3" fill="#e4466e"/>
<circle cx="355.5" cy="639" r="1.2" fill="#dc3862"/>
<circle cx="365" cy="638.6" r="1.3" fill="#dc3862"/>
<circle cx="367.6" cy="638.4" r="1.4" fill="#dc3862"/>
<circle cx="369.5" cy="639.1" r="1.1" fill="#cf3058"/>
<circle cx="374.2" cy="639.1" r="1.5" fill="#cf3058"/>
<circle cx="379.7" cy="639" r="1.4" fill="#dc3862"/>
<circle cx="383.8" cy="638.2" r="1.5" fill="#cf3058"/>
<circle cx="392.4" cy="638.9" r="1.5" fill="#dc3862"/>
<circle cx="306.9" cy="640.6" r="1.3" fill="#d63c66"/>
<circle cx="314.4" cy="640.7" r="1.3" fill="#cf3058"/>
<circle cx="356.2" cy="641.3" r="1.5" fill="#d63c66"/>
<circle cx="358.2" cy="640.5" r="1.5" fill="#dc3862"/>
<circle cx="365.4" cy="641.5" r="1.1" fill="#cf3058"/>
<circle cx="375.6" cy="641.4" r="1.5" fill="#dc3862"/>
<circle cx="378.9" cy="641.4" r="1.5" fill="#dc3862"/>
<circle cx="382.5" cy="641.9" r="1.1" fill="#d63c66"/>
<circle cx="401.9" cy="641.4" r="1.1" fill="#e4466e"/>
<circle cx="298.8" cy="644" r="1.2" fill="#cf3058"/>
<circle cx="305.5" cy="644.1" r="1.4" fill="#d63c66"/>
<circle cx="310.4" cy="644" r="1.4" fill="#e4466e"/>
<circle cx="335.9" cy="643.9" r="1.1" fill="#d63c66"/>
<circle cx="348.7" cy="643" r="1.5" fill="#dc3862"/>
<circle cx="355.3" cy="643.2" r="1.3" fill="#cf3058"/>
<circle cx="362.3" cy="643" r="1.1" fill="#d63c66"/>
<circle cx="376.4" cy="643.5" r="1.3" fill="#d63c66"/>
<circle cx="378.3" cy="643.3" r="1.3" fill="#d63c66"/>
<circle cx="401.8" cy="643.3" r="1.4" fill="#cf3058"/>
<circle cx="300.9" cy="646.2" r="1.5" fill="#cf3058"/>
<circle cx="304.7" cy="645.4" r="1.3" fill="#dc3862"/>
<circle cx="321.5" cy="645.6" r="1.3" fill="#e4466e"/>
<circle cx="355.2" cy="645.7" r="1.3" fill="#e4466e"/>
<circle cx="358.7" cy="645.4" r="1.3" fill="#e4466e"/>
<circle cx="360.6" cy="645.5" r="1.3" fill="#cf3058"/>
<circle cx="373.8" cy="646.5" r="1.1" fill="#e4466e"/>
<circle cx="376.4" cy="645.7" r="1.3" fill="#dc3862"/>
<circle cx="378.2" cy="646.4" r="1.2" fill="#e4466e"/>
<circle cx="381.1" cy="645.9" r="1.5" fill="#e4466e"/>
<circle cx="388.6" cy="646.2" r="1.2" fill="#cf3058"/>
<circle cx="305.8" cy="647.7" r="1.1" fill="#cf3058"/>
<circle cx="307.2" cy="648.1" r="1.3" fill="#cf3058"/>
<circle cx="312.4" cy="647.8" r="1.3" fill="#d63c66"/>
<circle cx="314.2" cy="647.6" r="1.4" fill="#dc3862"/>
<circle cx="317.7" cy="647.7" r="1.5" fill="#cf3058"/>
<circle cx="355.7" cy="647.9" r="1.4" fill="#d63c66"/>
<circle cx="357.8" cy="647.8" r="1.4" fill="#dc3862"/>
<circle cx="360.3" cy="648.2" r="1.3" fill="#dc3862"/>
<circle cx="362.8" cy="648.7" r="1.2" fill="#d63c66"/>
<circle cx="365.8" cy="647.5" r="1.3" fill="#cf3058"/>
<circle cx="367.3" cy="647.6" r="1.1" fill="#e4466e"/>
<circle cx="369.2" cy="647.8" r="1.2" fill="#d63c66"/>
<circle cx="372.5" cy="648" r="1.3" fill="#e4466e"/>
<circle cx="374.8" cy="648.7" r="1.4" fill="#cf3058"/>
<circle cx="378.5" cy="648.4" r="1.5" fill="#dc3862"/>
<circle cx="306" cy="650.9" r="1.1" fill="#e4466e"/>
<circle cx="308.1" cy="649.9" r="1.4" fill="#dc3862"/>
<circle cx="310.5" cy="650.3" r="1.4" fill="#e4466e"/>
<circle cx="313" cy="650.6" r="1.2" fill="#dc3862"/>
<circle cx="314.2" cy="650.6" r="1.2" fill="#cf3058"/>
<circle cx="317.2" cy="650.5" r="1.3" fill="#dc3862"/>
<circle cx="319.1" cy="649.7" r="1.4" fill="#dc3862"/>
<circle cx="340.4" cy="650.7" r="1.1" fill="#e4466e"/>
<circle cx="343.9" cy="650.6" r="1.4" fill="#d63c66"/>
<circle cx="360.1" cy="650.4" r="1.4" fill="#e4466e"/>
<circle cx="363.5" cy="650" r="1.5" fill="#cf3058"/>
<circle cx="365.9" cy="650.2" r="1.2" fill="#dc3862"/>
<circle cx="367.3" cy="650.6" r="1.5" fill="#cf3058"/>
<circle cx="369.6" cy="650.4" r="1.5" fill="#cf3058"/>
<circle cx="374.8" cy="649.9" r="1.4" fill="#dc3862"/>
<circle cx="376.1" cy="650.5" r="1.2" fill="#d63c66"/>
<circle cx="379.1" cy="650.3" r="1.2" fill="#d63c66"/>
<circle cx="381.9" cy="650.6" r="1.5" fill="#e4466e"/>
<circle cx="386" cy="650.2" r="1.5" fill="#d63c66"/>
<circle cx="390.2" cy="651" r="1.1" fill="#cf3058"/>
<circle cx="399.5" cy="649.7" r="1.5" fill="#e4466e"/>
<circle cx="300.4" cy="652.4" r="1.1" fill="#dc3862"/>
<circle cx="304.9" cy="652.5" r="1.5" fill="#dc3862"/>
<circle cx="319.1" cy="652.4" r="1.2" fill="#dc3862"/>
<circle cx="320.7" cy="652.2" r="1.3" fill="#dc3862"/>
<circle cx="362.9" cy="652.7" r="1.2" fill="#cf3058"/>
<circle cx="367.3" cy="652.9" r="1.4" fill="#dc3862"/>
<circle cx="369" cy="653.2" r="1.5" fill="#e4466e"/>
<circle cx="373.8" cy="652.8" r="1.4" fill="#e4466e"/>
<circle cx="376.9" cy="652.3" r="1.1" fill="#e4466e"/>
<circle cx="379.1" cy="653" r="1.4" fill="#e4466e"/>
<circle cx="382.8" cy="652.1" r="1.1" fill="#e4466e"/>
<circle cx="386.2" cy="652.6" r="1.5" fill="#dc3862"/>
<circle cx="387.8" cy="652.2" r="1.2" fill="#d63c66"/>
<circle cx="397.4" cy="653" r="1.2" fill="#d63c66"/>
<circle cx="401.5" cy="652.9" r="1.2" fill="#d63c66"/>
<circle cx="297.3" cy="655.5" r="1.5" fill="#dc3862"/>
<circle cx="299.8" cy="654.6" r="1.2" fill="#e4466e"/>
<circle cx="307.7" cy="655.5" r="1.4" fill="#dc3862"/>
<circle cx="320.7" cy="655" r="1.1" fill="#dc3862"/>
<circle cx="322.9" cy="655.6" r="1.5" fill="#e4466e"/>
<circle cx="355.2" cy="654.8" r="1.1" fill="#d63c66"/>
<circle cx="360" cy="654.4" r="1.5" fill="#cf3058"/>
<circle cx="364.4" cy="655.4" r="1.2" fill="#cf3058"/>
<circle cx="367.5" cy="654.6" r="1.3" fill="#dc3862"/>
<circle cx="374.3" cy="654.7" r="1.3" fill="#d63c66"/>
<circle cx="380.4" cy="654.5" r="1.5" fill="#e4466e"/>
<circle cx="385.3" cy="655.4" r="1.2" fill="#dc3862"/>
<circle cx="390.2" cy="655.4" r="1.2" fill="#d63c66"/>
<circle cx="394.3" cy="654.4" r="1.1" fill="#d63c66"/>
<circle cx="396.8" cy="654.8" r="1.5" fill="#e4466e"/>
<circle cx="323" cy="657.4" r="1.2" fill="#dc3862"/>
<circle cx="343.3" cy="657.7" r="1.4" fill="#e4466e"/>
<circle cx="360.7" cy="657.7" r="1.2" fill="#cf3058"/>
<circle cx="362.5" cy="656.8" r="1.1" fill="#d63c66"/>
<circle cx="367" cy="657.2" r="1.5" fill="#e4466e"/>
<circle cx="376.5" cy="656.7" r="1.4" fill="#d63c66"/>
<circle cx="378.1" cy="657.9" r="1.3" fill="#cf3058"/>
<circle cx="383.5" cy="657" r="1.3" fill="#e4466e"/>
<circle cx="387.2" cy="656.9" r="1.3" fill="#e4466e"/>
<circle cx="389.6" cy="657.9" r="1.3" fill="#e4466e"/>
<circle cx="392.7" cy="657" r="1.2" fill="#d63c66"/>
<circle cx="396.4" cy="657" r="1.2" fill="#e4466e"/>
<circle cx="398.9" cy="656.8" r="1.4" fill="#d63c66"/>
<circle cx="401.3" cy="658" r="1.2" fill="#dc3862"/>
<circle cx="332.5" cy="660.1" r="1.4" fill="#cf3058"/>
<circle cx="334.7" cy="659.9" r="1.4" fill="#d63c66"/>
<circle cx="339.7" cy="659.9" r="1.3" fill="#d63c66"/>
<circle cx="343.6" cy="659.7" r="1.3" fill="#d63c66"/>
<circle cx="353.8" cy="660.1" r="1.4" fill="#dc3862"/>
<circle cx="360.3" cy="659.9" r="1.2" fill="#dc3862"/>
<circle cx="362.7" cy="659.2" r="1.3" fill="#dc3862"/>
<circle cx="364.2" cy="659.3" r="1.2" fill="#d63c66"/>
<circle cx="366.4" cy="659.5" r="1.1" fill="#d63c66"/>
<circle cx="368.8" cy="659.5" r="1.2" fill="#cf3058"/>
<circle cx="370.9" cy="659.9" r="1.3" fill="#cf3058"/>
<circle cx="376.4" cy="659" r="1.1" fill="#cf3058"/>
<circle cx="381.2" cy="659.5" r="1.2" fill="#d63c66"/>
<circle cx="387.3" cy="659.5" r="1.5" fill="#d63c66"/>
<circle cx="391.7" cy="659.8" r="1.2" fill="#d63c66"/>
<circle cx="399.7" cy="659.7" r="1.3" fill="#d63c66"/>
<circle cx="401.5" cy="659.4" r="1.3" fill="#e4466e"/>
<circle cx="317.4" cy="662.5" r="1.5" fill="#cf3058"/>
<circle cx="330.8" cy="662.5" r="1.2" fill="#cf3058"/>
<circle cx="334.7" cy="661.9" r="1.4" fill="#cf3058"/>
<circle cx="337.5" cy="662" r="1.1" fill="#cf3058"/>
<circle cx="339.3" cy="661.9" r="1.5" fill="#dc3862"/>
<circle cx="348.7" cy="661.8" r="1.4" fill="#d63c66"/>
<circle cx="351.2" cy="661.8" r="1.1" fill="#dc3862"/>
<circle cx="353.7" cy="662.2" r="1.1" fill="#d63c66"/>
<circle cx="360.6" cy="661.9" r="1.2" fill="#e4466e"/>
<circle cx="362.6" cy="661.6" r="1.1" fill="#d63c66"/>
<circle cx="364.6" cy="662" r="1.5" fill="#cf3058"/>
<circle cx="369.9" cy="662.5" r="1.1" fill="#cf3058"/>
<circle cx="374.8" cy="661.4" r="1.1" fill="#cf3058"/>
<circle cx="377.1" cy="661.7" r="1.2" fill="#dc3862"/>
<circle cx="383.7" cy="661.6" r="1.2" fill="#cf3058"/>
<circle cx="397.4" cy="661.7" r="1.2" fill="#dc3862"/>
<circle cx="324.2" cy="663.7" r="1.1" fill="#cf3058"/>
<circle cx="338.3" cy="664.4" r="1.1" fill="#cf3058"/>
<circle cx="342.2" cy="663.8" r="1.4" fill="#e4466e"/>
<circle cx="344.7" cy="664.6" r="1.3" fill="#dc3862"/>
<circle cx="346.3" cy="663.7" r="1.2" fill="#e4466e"/>
<circle cx="349.8" cy="663.7" r="1.1" fill="#dc3862"/>
<circle cx="353.5" cy="664" r="1.4" fill="#dc3862"/>
<circle cx="355.5" cy="664.4" r="1.2" fill="#dc3862"/>
<circle cx="358.6" cy="664.5" r="1.5" fill="#cf3058"/>
<circle cx="364.7" cy="664.5" r="1.3" fill="#d63c66"/>
<circle cx="367.8" cy="664.7" r="1.4" fill="#dc3862"/>
<circle cx="370" cy="664.6" r="1.1" fill="#dc3862"/>
<circle cx="371.7" cy="664.3" r="1.2" fill="#cf3058"/>
<circle cx="376.4" cy="664" r="1.1" fill="#dc3862"/>
<circle cx="378.6" cy="664.2" r="1.4" fill="#cf3058"/>
<circle cx="390" cy="664.8" r="1.2" fill="#dc3862"/>
<circle cx="393.3" cy="664.8" r="1.3" fill="#e4466e"/>
<circle cx="395.6" cy="664.2" r="1.2" fill="#dc3862"/>
<circle cx="397.2" cy="663.5" r="1.5" fill="#d63c66"/>
<circle cx="401.9" cy="664.8" r="1.3" fill="#d63c66"/>
<circle cx="315.7" cy="666.5" r="1.4" fill="#cf3058"/>
<circle cx="320.9" cy="666.9" r="1.2" fill="#e4466e"/>
<circle cx="332.7" cy="666.6" r="1.2" fill="#e4466e"/>
<circle cx="339.3" cy="665.9" r="1.2" fill="#d63c66"/>
<circle cx="350.5" cy="666" r="1.2" fill="#dc3862"/>
<circle cx="355.8" cy="666.4" r="1.3" fill="#dc3862"/>
<circle cx="357.5" cy="666.7" r="1.4" fill="#d63c66"/>
<circle cx="360.4" cy="666.2" r="1.3" fill="#cf3058"/>
<circle cx="362.4" cy="667" r="1.3" fill="#cf3058"/>
<circle cx="364.6" cy="666.9" r="1.1" fill="#cf3058"/>
<circle cx="366.8" cy="666" r="1.4" fill="#e4466e"/>
<circle cx="369.4" cy="665.9" r="1.1" fill="#d63c66"/>
<circle cx="371.8" cy="666.8" r="1.4" fill="#cf3058"/>
<circle cx="376.3" cy="667.1" r="1.3" fill="#d63c66"/>
<circle cx="378.3" cy="666.4" r="1.4" fill="#e4466e"/>
<circle cx="380.7" cy="666.9" r="1.2" fill="#d63c66"/>
<circle cx="387.4" cy="666.3" r="1.2" fill="#e4466e"/>
<circle cx="397.4" cy="666.3" r="1.2" fill="#cf3058"/>
<circle cx="296.1" cy="669.3" r="1.1" fill="#e4466e"/>
<circle cx="299.8" cy="668.5" r="1.3" fill="#d63c66"/>
<circle cx="317.9" cy="669.2" r="1.2" fill="#d63c66"/>
<circle cx="320.3" cy="669.1" r="1.5" fill="#dc3862"/>
<circle cx="322.4" cy="669.4" r="1.3" fill="#dc3862"/>
<circle cx="330.2" cy="669.3" r="1.2" fill="#dc3862"/>
<circle cx="331.9" cy="668.8" r="1.5" fill="#dc3862"/>
<circle cx="348.9" cy="668.6" r="1.4" fill="#cf3058"/>
<circle cx="355.6" cy="668.8" r="1.5" fill="#d63c66"/>
<circle cx="357.2" cy="668.3" r="1.3" fill="#e4466e"/>
<circle cx="360.3" cy="668.7" r="1.4" fill="#dc3862"/>
<circle cx="362.7" cy="668.3" r="1.3" fill="#e4466e"/>
<circle cx="364" cy="669.2" r="1.2" fill="#d63c66"/>
<circle cx="366.2" cy="668.5" r="1.2" fill="#e4466e"/>
<circle cx="371.4" cy="669" r="1.5" fill="#e4466e"/>
<circle cx="374" cy="668.4" r="1.1" fill="#d63c66"/>
<circle cx="376.5" cy="668.2" r="1.3" fill="#cf3058"/>
<circle cx="378.5" cy="668.7" r="1.3" fill="#dc3862"/>
<circle cx="380.9" cy="668.2" r="1.3" fill="#d63c66"/>
<circle cx="382.7" cy="669" r="1.5" fill="#e4466e"/>
<circle cx="384.8" cy="669.4" r="1.5" fill="#dc3862"/>
<circle cx="386.9" cy="668.5" r="1.5" fill="#dc3862"/>
<circle cx="401.8" cy="669.2" r="1.2" fill="#dc3862"/>
<circle cx="316.6" cy="671.2" r="1.3" fill="#d63c66"/>
<circle cx="318.9" cy="670.8" r="1.1" fill="#e4466e"/>
<circle cx="321.2" cy="671" r="1.4" fill="#cf3058"/>
<circle cx="323.7" cy="670.7" r="1.3" fill="#cf3058"/>
<circle cx="328" cy="671.4" r="1.2" fill="#d63c66"/>
<circle cx="346.5" cy="671.2" r="1.2" fill="#cf3058"/>
<circle cx="360.2" cy="671.3" r="1.2" fill="#d63c66"/>
<circle cx="361.8" cy="670.5" r="1.1" fill="#e4466e"/>
<circle cx="364.7" cy="670.6" r="1.5" fill="#d63c66"/>
<circle cx="369.2" cy="671.6" r="1.2" fill="#cf3058"/>
<circle cx="376" cy="671.5" r="1.5" fill="#dc3862"/>
<circle cx="378.1" cy="671.4" r="1.1" fill="#cf3058"/>
<circle cx="380.8" cy="670.6" r="1.2" fill="#cf3058"/>
<circle cx="382.4" cy="671.2" r="1.4" fill="#e4466e"/>
<circle cx="388.1" cy="671.4" r="1.2" fill="#e4466e"/>
<circle cx="389.6" cy="671.6" r="1.2" fill="#cf3058"/>
<circle cx="391.9" cy="671.4" r="1.3" fill="#cf3058"/>
<circle cx="394.9" cy="670.9" r="1.3" fill="#cf3058"/>
<circle cx="398.8" cy="670.5" r="1.1" fill="#e4466e"/>
<circle cx="305.7" cy="673.9" r="1.1" fill="#cf3058"/>
<circle cx="307.6" cy="673.7" r="1.5" fill="#e4466e"/>
<circle cx="309.9" cy="673.8" r="1.5" fill="#e4466e"/>
<circle cx="317" cy="672.8" r="1.3" fill="#cf3058"/>
<circle cx="321.7" cy="672.9" r="1.4" fill="#e4466e"/>
<circle cx="340.1" cy="673" r="1.3" fill="#e4466e"/>
<circle cx="358.3" cy="673.3" r="1.3" fill="#e4466e"/>
<circle cx="362.3" cy="673.9" r="1.4" fill="#cf3058"/>
<circle cx="364.6" cy="674" r="1.5" fill="#cf3058"/>
<circle cx="367.5" cy="672.8" r="1.4" fill="#e4466e"/>
<circle cx="374.6" cy="673" r="1.5" fill="#dc3862"/>
<circle cx="382.8" cy="673.3" r="1.5" fill="#d63c66"/>
<circle cx="385.7" cy="673.2" r="1.4" fill="#dc3862"/>
<circle cx="387.9" cy="673.5" r="1.2" fill="#e4466e"/>
<circle cx="390.1" cy="673.9" r="1.1" fill="#dc3862"/>
<circle cx="392.5" cy="673" r="1.1" fill="#d63c66"/>
<circle cx="394.7" cy="673.3" r="1.4" fill="#cf3058"/>
<circle cx="400" cy="673.2" r="1.5" fill="#cf3058"/>
<circle cx="401.7" cy="673" r="1.5" fill="#e4466e"/>
<circle cx="298.2" cy="675.1" r="1.4" fill="#cf3058"/>
<circle cx="308.2" cy="675.7" r="1.1" fill="#d63c66"/>
<circle cx="314.5" cy="676.4" r="1.5" fill="#dc3862"/>
<circle cx="316.3" cy="675.3" r="1.1" fill="#d63c66"/>
<circle cx="319.5" cy="675.4" r="1.4" fill="#e4466e"/>
<circle cx="321.1" cy="676.1" r="1.4" fill="#d63c66"/>
<circle cx="323.2" cy="675.6" r="1.3" fill="#e4466e"/>
<circle cx="328.8" cy="675.1" r="1.3" fill="#cf3058"/>
<circle cx="331" cy="676.2" r="1.5" fill="#dc3862"/>
<circle cx="357.6" cy="675.4" r="1.4" fill="#d63c66"/>
<circle cx="363" cy="675.5" r="1.3" fill="#cf3058"/>
<circle cx="369.2" cy="675.7" r="1.4" fill="#d63c66"/>
<circle cx="386.4" cy="675.3" r="1.1" fill="#dc3862"/>
<circle cx="390.6" cy="675.5" r="1.1" fill="#d63c66"/>
<circle cx="393.3" cy="675.6" r="1.1" fill="#dc3862"/>
<circle cx="396.8" cy="675.5" r="1.2" fill="#e4466e"/>
<circle cx="399.7" cy="675.1" r="1.3" fill="#e4466e"/>
<circle cx="402.3" cy="675.5" r="1.2" fill="#d63c66"/>
<circle cx="298.7" cy="677.7" r="1.3" fill="#d63c66"/>
<circle cx="303.3" cy="678.3" r="1.2" fill="#dc3862"/>
<circle cx="305.1" cy="678.5" r="1.3" fill="#d63c66"/>
<circle cx="307.5" cy="678" r="1.1" fill="#d63c66"/>
<circle cx="310.1" cy="678" r="1.5" fill="#cf3058"/>
<circle cx="311.5" cy="678" r="1.2" fill="#d63c66"/>
<circle cx="314.6" cy="677.7" r="1.4" fill="#dc3862"/>
<circle cx="316.2" cy="677.5" r="1.3" fill="#cf3058"/>
<circle cx="319.4" cy="678.6" r="1.1" fill="#d63c66"/>
<circle cx="321.2" cy="678.6" r="1.3" fill="#d63c66"/>
<circle cx="323.3" cy="678.2" r="1.1" fill="#e4466e"/>
<circle cx="325.5" cy="678" r="1.5" fill="#e4466e"/>
<circle cx="329.8" cy="678" r="1.2" fill="#cf3058"/>
<circle cx="332.5" cy="678.4" r="1.5" fill="#cf3058"/>
<circle cx="334.7" cy="677.7" r="1.1" fill="#d63c66"/>
<circle cx="341.8" cy="677.5" r="1.3" fill="#dc3862"/>
<circle cx="353.3" cy="678.5" r="1.2" fill="#d63c66"/>
<circle cx="362.6" cy="678.5" r="1.3" fill="#d63c66"/>
<circle cx="365.4" cy="677.8" r="1.1" fill="#e4466e"/>
<circle cx="367.9" cy="678" r="1.1" fill="#dc3862"/>
<circle cx="369.5" cy="677.8" r="1.2" fill="#d63c66"/>
<circle cx="371.7" cy="678.2" r="1.5" fill="#cf3058"/>
<circle cx="387.3" cy="678.1" r="1.5" fill="#dc3862"/>
<circle cx="391" cy="678.4" r="1.2" fill="#cf3058"/>
<circle cx="392.7" cy="677.9" r="1.5" fill="#cf3058"/>
<circle cx="395.1" cy="677.5" r="1.3" fill="#cf3058"/>
<circle cx="397.7" cy="677.8" r="1.4" fill="#e4466e"/>
<circle cx="399.6" cy="678" r="1.2" fill="#e4466e"/>
<circle cx="401.2" cy="677.9" r="1.4" fill="#cf3058"/>
<circle cx="297.6" cy="680.8" r="1.1" fill="#d63c66"/>
<circle cx="302.5" cy="679.7" r="1.4" fill="#d63c66"/>
<circle cx="304.5" cy="680.5" r="1.4" fill="#dc3862"/>
<circle cx="306.5" cy="680.6" r="1.2" fill="#d63c66"/>
<circle cx="310.1" cy="679.8" r="1.5" fill="#d63c66"/>
<circle cx="312.2" cy="680.4" r="1.3" fill="#e4466e"/>
<circle cx="314.3" cy="680.7" r="1.2" fill="#cf3058"/>
<circle cx="316.4" cy="679.8" r="1.4" fill="#e4466e"/>
<circle cx="319.3" cy="680.7" r="1.2" fill="#e4466e"/>
<circle cx="321.6" cy="680.7" r="1.1" fill="#dc3862"/>
<circle cx="322.7" cy="680.6" r="1.4" fill="#e4466e"/>
<circle cx="325.1" cy="680.6" r="1.1" fill="#d63c66"/>
<circle cx="327.3" cy="680" r="1.3" fill="#d63c66"/>
<circle cx="330.8" cy="679.9" r="1.3" fill="#dc3862"/>
<circle cx="332.1" cy="679.6" r="1.3" fill="#dc3862"/>
<circle cx="335" cy="680.3" r="1.3" fill="#cf3058"/>
<circle cx="348" cy="680.5" r="1.5" fill="#dc3862"/>
<circle cx="350.8" cy="680.6" r="1.5" fill="#dc3862"/>
<circle cx="352.8" cy="681" r="1.4" fill="#d63c66"/>
<circle cx="357.8" cy="680.7" r="1.2" fill="#dc3862"/>
<circle cx="360.3" cy="679.7" r="1.1" fill="#dc3862"/>
<circle cx="361.9" cy="680" r="1.3" fill="#dc3862"/>
<circle cx="371.5" cy="680.2" r="1.4" fill="#e4466e"/>
<circle cx="373.5" cy="680" r="1.1" fill="#e4466e"/>
<circle cx="379" cy="680.7" r="1.2" fill="#e4466e"/>
<circle cx="382.8" cy="681" r="1.4" fill="#dc3862"/>
<circle cx="385" cy="680.5" r="1.4" fill="#e4466e"/>
<circle cx="388.2" cy="679.7" r="1.5" fill="#dc3862"/>
<circle cx="389.7" cy="680.3" r="1.1" fill="#d63c66"/>
<circle cx="391.6" cy="680.1" r="1.1" fill="#e4466e"/>
<circle cx="394" cy="679.9" r="1.1" fill="#e4466e"/>
<circle cx="397.3" cy="680.2" r="1.5" fill="#dc3862"/>
<circle cx="398.7" cy="679.9" r="1.5" fill="#cf3058"/>
<circle cx="401.4" cy="680.4" r="1.5" fill="#cf3058"/>
<circle cx="298.1" cy="683.1" r="1.1" fill="#e4466e"/>
<circle cx="300.6" cy="683.2" r="1.1" fill="#dc3862"/>
<circle cx="303.8" cy="682.5" r="1.2" fill="#dc3862"/>
<circle cx="305.1" cy="682.4" r="1.3" fill="#cf3058"/>
<circle cx="308" cy="682.8" r="1.5" fill="#cf3058"/>
<circle cx="310.6" cy="682.1" r="1.4" fill="#e4466e"/>
<circle cx="311.9" cy="683.1" r="1.3" fill="#dc3862"/>
<circle cx="314.3" cy="682.7" r="1.1" fill="#d63c66"/>
<circle cx="319.2" cy="683.1" r="1.2" fill="#e4466e"/>
<circle cx="321.4" cy="681.9" r="1.4" fill="#e4466e"/>
<circle cx="323.8" cy="682.8" r="1.5" fill="#d63c66"/>
<circle cx="326.7" cy="682.4" r="1.2" fill="#dc3862"/>
<circle cx="333.2" cy="682" r="1.2" fill="#e4466e"/>
<circle cx="349.1" cy="682" r="1.5" fill="#cf3058"/>
<circle cx="356.6" cy="682.9" r="1.5" fill="#d63c66"/>
<circle cx="365.4" cy="683.1" r="1.2" fill="#dc3862"/>
<circle cx="368.2" cy="682.5" r="1.5" fill="#d63c66"/>
<circle cx="374.3" cy="683" r="1.3" fill="#cf3058"/>
<circle cx="383.1" cy="682.2" r="1.2" fill="#cf3058"/>
<circle cx="385.4" cy="682" r="1.1" fill="#d63c66"/>
<circle cx="387.8" cy="682" r="1.1" fill="#d63c66"/>
<circle cx="390.1" cy="682.7" r="1.4" fill="#dc3862"/>
<circle cx="392.5" cy="682.8" r="1.3" fill="#d63c66"/>
<circle cx="396.8" cy="682.8" r="1.1" fill="#e4466e"/>
<circle cx="399.4" cy="682.2" r="1.2" fill="#cf3058"/>
<circle cx="401.8" cy="683" r="1.5" fill="#d63c66"/>
<circle cx="296.5" cy="684.8" r="1.3" fill="#dc3862"/>
<circle cx="299" cy="684.3" r="1.5" fill="#e4466e"/>
<circle cx="300.7" cy="684.4" r="1.2" fill="#cf3058"/>
<circle cx="303.5" cy="684.9" r="1.3" fill="#e4466e"/>
<circle cx="304.9" cy="684.6" r="1.5" fill="#cf3058"/>
<circle cx="307.6" cy="685.1" r="1.3" fill="#d63c66"/>
<circle cx="312.6" cy="684.3" r="1.1" fill="#e4466e"/>
<circle cx="319.4" cy="685.4" r="1.1" fill="#dc3862"/>
<circle cx="326.2" cy="685" r="1.4" fill="#e4466e"/>
<circle cx="328" cy="684.5" r="1.4" fill="#e4466e"/>
<circle cx="333.4" cy="684.2" r="1.3" fill="#dc3862"/>
<circle cx="335.1" cy="684.7" r="1.2" fill="#d63c66"/>
<circle cx="344.9" cy="684.4" r="1.2" fill="#e4466e"/>
<circle cx="346.2" cy="684.4" r="1.1" fill="#cf3058"/>
<circle cx="349" cy="685" r="1.4" fill="#cf3058"/>
<circle cx="356.3" cy="684.5" r="1.3" fill="#dc3862"/>
<circle cx="357.9" cy="685.3" r="1.2" fill="#d63c66"/>
<circle cx="363.3" cy="685.5" r="1.1" fill="#d63c66"/>
<circle cx="365.2" cy="684.4" r="1.4" fill="#e4466e"/>
<circle cx="367.9" cy="685" r="1.1" fill="#d63c66"/>
<circle cx="377" cy="685.1" r="1.2" fill="#e4466e"/>
<circle cx="378.6" cy="685.5" r="1.5" fill="#e4466e"/>
<circle cx="383.6" cy="684.9" r="1.2" fill="#e4466e"/>
<circle cx="396.7" cy="685.2" r="1.1" fill="#e4466e"/>
<circle cx="296.6" cy="686.6" r="1.3" fill="#cf3058"/>
<circle cx="299.9" cy="687" r="1.5" fill="#e4466e"/>
<circle cx="302.6" cy="686.5" r="1.4" fill="#e4466e"/>
<circle cx="304.5" cy="687.2" r="1.5" fill="#dc3862"/>
<circle cx="307.5" cy="687.8" r="1.2" fill="#e4466e"/>
<circle cx="309.7" cy="686.6" r="1.2" fill="#dc3862"/>
<circle cx="311.5" cy="687.7" r="1.4" fill="#d63c66"/>
<circle cx="314.4" cy="686.8" r="1.1" fill="#cf3058"/>
<circle cx="316.8" cy="686.9" r="1.5" fill="#dc3862"/>
<circle cx="318.4" cy="687.9" r="1.4" fill="#dc3862"/>
<circle cx="330.4" cy="687.2" r="1.1" fill="#cf3058"/>
<circle cx="332.8" cy="686.9" r="1.5" fill="#d63c66"/>
<circle cx="337.8" cy="686.7" r="1.1" fill="#cf3058"/>
<circle cx="341.5" cy="687.5" r="1.3" fill="#cf3058"/>
<circle cx="346.5" cy="687.7" r="1.2" fill="#dc3862"/>
<circle cx="349" cy="686.7" r="1.3" fill="#d63c66"/>
<circle cx="350.6" cy="686.9" r="1.3" fill="#cf3058"/>
<circle cx="362" cy="687.2" r="1.1" fill="#cf3058"/>
<circle cx="364.8" cy="686.7" r="1.5" fill="#cf3058"/>
<circle cx="367.1" cy="687.3" r="1.3" fill="#dc3862"/>
<circle cx="371.1" cy="687.8" r="1.3" fill="#dc3862"/>
<circle cx="373.9" cy="687.3" r="1.1" fill="#e4466e"/>
<circle cx="378.6" cy="686.8" r="1.1" fill="#dc3862"/>
<circle cx="381.5" cy="687.6" r="1.5" fill="#dc3862"/>
<circle cx="401.1" cy="687" r="1.2" fill="#dc3862"/>
<circle cx="298.3" cy="567.6" r="1.3" fill="#8868a6"/>
<circle cx="320.5" cy="567.5" r="1.4" fill="#6e508c"/>
<circle cx="337.8" cy="567.6" r="1" fill="#6e508c"/>
<circle cx="340.1" cy="568" r="1.2" fill="#684a8a"/>
<circle cx="357.2" cy="568" r="1.3" fill="#6e508c"/>
<circle cx="359.6" cy="567.3" r="1" fill="#684a8a"/>
<circle cx="374.5" cy="567.3" r="1" fill="#6e508c"/>
<circle cx="401.7" cy="567.9" r="1.3" fill="#8868a6"/>
<circle cx="294.8" cy="569.3" r="1.3" fill="#7a5a9a"/>
<circle cx="316.2" cy="569.2" r="1.1" fill="#7a5a9a"/>
<circle cx="318.5" cy="569.4" r="1.2" fill="#8868a6"/>
<circle cx="321" cy="570.3" r="1" fill="#684a8a"/>
<circle cx="323.3" cy="570.5" r="1.1" fill="#6e508c"/>
<circle cx="364" cy="570" r="1.2" fill="#8868a6"/>
<circle cx="371.5" cy="570.3" r="1.2" fill="#684a8a"/>
<circle cx="383" cy="570.5" r="1.2" fill="#7a5a9a"/>
<circle cx="327.3" cy="572.5" r="1" fill="#684a8a"/>
<circle cx="334.6" cy="571.8" r="1.4" fill="#6e508c"/>
<circle cx="357" cy="572.3" r="1.1" fill="#684a8a"/>
<circle cx="360" cy="572.6" r="1.2" fill="#7a5a9a"/>
<circle cx="297.3" cy="574.4" r="1" fill="#7a5a9a"/>
<circle cx="327.7" cy="575" r="1.1" fill="#8868a6"/>
<circle cx="331.7" cy="573.8" r="1.1" fill="#6e508c"/>
<circle cx="341.8" cy="573.8" r="1.1" fill="#6e508c"/>
<circle cx="343" cy="575" r="1.3" fill="#6e508c"/>
<circle cx="347.8" cy="573.9" r="1.2" fill="#6e508c"/>
<circle cx="396.5" cy="574.2" r="1" fill="#8868a6"/>
<circle cx="328.4" cy="576.6" r="1.3" fill="#8868a6"/>
<circle cx="330.6" cy="576.4" r="1.1" fill="#684a8a"/>
<circle cx="342.6" cy="576.2" r="1.2" fill="#6e508c"/>
<circle cx="346.3" cy="577.1" r="1.1" fill="#8868a6"/>
<circle cx="296.9" cy="579" r="1.3" fill="#684a8a"/>
<circle cx="325.8" cy="578.5" r="1.3" fill="#684a8a"/>
<circle cx="342.1" cy="579.7" r="1.1" fill="#6e508c"/>
<circle cx="344.8" cy="578.7" r="1.3" fill="#7a5a9a"/>
<circle cx="349.8" cy="578.6" r="1.1" fill="#7a5a9a"/>
<circle cx="371.6" cy="579.8" r="1.1" fill="#684a8a"/>
<circle cx="296.5" cy="581" r="1.1" fill="#7a5a9a"/>
<circle cx="300.5" cy="581.5" r="1" fill="#8868a6"/>
<circle cx="304.9" cy="582" r="1.1" fill="#6e508c"/>
<circle cx="307.3" cy="582.1" r="1.3" fill="#8868a6"/>
<circle cx="312.5" cy="581.3" r="1.1" fill="#684a8a"/>
<circle cx="335" cy="581.3" r="1.3" fill="#6e508c"/>
<circle cx="346.2" cy="581.6" r="1.1" fill="#684a8a"/>
<circle cx="356.7" cy="580.8" r="1.1" fill="#8868a6"/>
<circle cx="374.5" cy="580.9" r="1.1" fill="#684a8a"/>
<circle cx="395.4" cy="581.7" r="1.2" fill="#684a8a"/>
<circle cx="396.8" cy="580.9" r="1.4" fill="#7a5a9a"/>
<circle cx="295.6" cy="583.9" r="1.4" fill="#684a8a"/>
<circle cx="298" cy="583.7" r="1.1" fill="#684a8a"/>
<circle cx="306.5" cy="583.7" r="1.1" fill="#7a5a9a"/>
<circle cx="311.7" cy="583.3" r="1.2" fill="#8868a6"/>
<circle cx="332.8" cy="583.5" r="1.3" fill="#8868a6"/>
<circle cx="352.5" cy="583.2" r="1.2" fill="#684a8a"/>
<circle cx="364.5" cy="583.5" r="1.4" fill="#7a5a9a"/>
<circle cx="380.3" cy="584" r="1.1" fill="#684a8a"/>
<circle cx="385.2" cy="583.9" r="1.4" fill="#6e508c"/>
<circle cx="388.1" cy="583.6" r="1.1" fill="#7a5a9a"/>
<circle cx="296.4" cy="586.6" r="1.1" fill="#6e508c"/>
<circle cx="298.8" cy="586.3" r="1.3" fill="#8868a6"/>
<circle cx="300.8" cy="585.7" r="1" fill="#6e508c"/>
<circle cx="302.8" cy="585.7" r="1.1" fill="#7a5a9a"/>
<circle cx="304.6" cy="586" r="1.1" fill="#7a5a9a"/>
<circle cx="341.4" cy="586" r="1.2" fill="#7a5a9a"/>
<circle cx="343.8" cy="586.3" r="1.2" fill="#8868a6"/>
<circle cx="345.9" cy="586" r="1.4" fill="#7a5a9a"/>
<circle cx="373.9" cy="585.8" r="1" fill="#7a5a9a"/>
<circle cx="382.8" cy="585.5" r="1.2" fill="#6e508c"/>
<circle cx="386" cy="585.8" r="1.2" fill="#8868a6"/>
<circle cx="397" cy="586.7" r="1.1" fill="#6e508c"/>
<circle cx="299.5" cy="588.3" r="1" fill="#684a8a"/>
<circle cx="303.1" cy="587.8" r="1.3" fill="#6e508c"/>
<circle cx="305.4" cy="588.9" r="1.4" fill="#7a5a9a"/>
<circle cx="324.9" cy="587.9" r="1.1" fill="#6e508c"/>
<circle cx="396.5" cy="588.8" r="1.1" fill="#6e508c"/>
<circle cx="296.4" cy="590.9" r="1.3" fill="#6e508c"/>
<circle cx="297.8" cy="591" r="1.1" fill="#684a8a"/>
<circle cx="301.2" cy="589.9" r="1.1" fill="#684a8a"/>
<circle cx="399.1" cy="591.1" r="1.1" fill="#6e508c"/>
<circle cx="295.9" cy="592.7" r="1.2" fill="#8868a6"/>
<circle cx="298.1" cy="593.1" r="1.1" fill="#8868a6"/>
<circle cx="301" cy="592.8" r="1.3" fill="#7a5a9a"/>
<circle cx="302.9" cy="592.7" r="1.4" fill="#8868a6"/>
<circle cx="305.6" cy="592.8" r="1.3" fill="#8868a6"/>
<circle cx="310" cy="593.1" r="1.2" fill="#684a8a"/>
<circle cx="353.3" cy="593.3" r="1.1" fill="#684a8a"/>
<circle cx="382.9" cy="593.5" r="1.1" fill="#8868a6"/>
<circle cx="389.9" cy="593.4" r="1.1" fill="#7a5a9a"/>
<circle cx="395.2" cy="592.3" r="1.2" fill="#8868a6"/>
<circle cx="297.5" cy="595.2" r="1.2" fill="#8868a6"/>
<circle cx="304.3" cy="594.7" r="1.2" fill="#8868a6"/>
<circle cx="311.8" cy="595.2" r="1.1" fill="#6e508c"/>
<circle cx="370.8" cy="595.2" r="1.1" fill="#6e508c"/>
<circle cx="378" cy="595.6" r="1.3" fill="#6e508c"/>
<circle cx="401.2" cy="595.6" r="1.1" fill="#7a5a9a"/>
<circle cx="297.1" cy="597.1" r="1.3" fill="#7a5a9a"/>
<circle cx="300.2" cy="597.8" r="1.3" fill="#7a5a9a"/>
<circle cx="304" cy="596.8" r="1.1" fill="#7a5a9a"/>
<circle cx="373.2" cy="597.5" r="1.3" fill="#684a8a"/>
<circle cx="401" cy="597" r="1.3" fill="#7a5a9a"/>
<circle cx="298.8" cy="600.5" r="1.3" fill="#7a5a9a"/>
<circle cx="302.8" cy="599.9" r="1.2" fill="#6e508c"/>
<circle cx="304.8" cy="599.3" r="1.3" fill="#7a5a9a"/>
<circle cx="310" cy="600.2" r="1.4" fill="#684a8a"/>
<circle cx="369.4" cy="600.3" r="1.2" fill="#684a8a"/>
<circle cx="374.6" cy="599.3" r="1.2" fill="#8868a6"/>
<circle cx="394.5" cy="599.5" r="1.1" fill="#6e508c"/>
<circle cx="401.4" cy="600" r="1.1" fill="#7a5a9a"/>
<circle cx="297.9" cy="601.4" r="1.2" fill="#684a8a"/>
<circle cx="299.8" cy="601.5" r="1.1" fill="#7a5a9a"/>
<circle cx="303" cy="601.9" r="1.3" fill="#684a8a"/>
<circle cx="304.7" cy="601.6" r="1" fill="#684a8a"/>
<circle cx="308.7" cy="602.8" r="1.4" fill="#6e508c"/>
<circle cx="361.8" cy="602.3" r="1.3" fill="#684a8a"/>
<circle cx="364.3" cy="602" r="1.1" fill="#684a8a"/>
<circle cx="366.7" cy="602.4" r="1.1" fill="#7a5a9a"/>
<circle cx="302.5" cy="604.5" r="1.2" fill="#6e508c"/>
<circle cx="304.6" cy="603.7" r="1.1" fill="#6e508c"/>
<circle cx="360.3" cy="603.9" r="1.1" fill="#8868a6"/>
<circle cx="362.3" cy="604.3" r="1.4" fill="#7a5a9a"/>
<circle cx="365.3" cy="605" r="1.1" fill="#8868a6"/>
<circle cx="366.6" cy="604.3" r="1.2" fill="#8868a6"/>
<circle cx="369.1" cy="605.1" r="1" fill="#6e508c"/>
<circle cx="371" cy="604" r="1.3" fill="#6e508c"/>
<circle cx="373.2" cy="604" r="1.3" fill="#7a5a9a"/>
<circle cx="383.3" cy="604.2" r="1" fill="#7a5a9a"/>
<circle cx="390.5" cy="604.8" r="1" fill="#7a5a9a"/>
<circle cx="307.7" cy="607" r="1.1" fill="#8868a6"/>
<circle cx="356.3" cy="607.1" r="1.2" fill="#6e508c"/>
<circle cx="363.1" cy="606.2" r="1.2" fill="#684a8a"/>
<circle cx="365.2" cy="606.2" r="1.2" fill="#6e508c"/>
<circle cx="367" cy="607.4" r="1" fill="#8868a6"/>
<circle cx="369.9" cy="606.4" r="1.1" fill="#684a8a"/>
<circle cx="372.1" cy="606.5" r="1.4" fill="#6e508c"/>
<circle cx="376.2" cy="607.1" r="1.2" fill="#7a5a9a"/>
<circle cx="395" cy="606.6" r="1.1" fill="#684a8a"/>
<circle cx="402.2" cy="607.4" r="1" fill="#7a5a9a"/>
<circle cx="304.3" cy="609.5" r="1" fill="#684a8a"/>
<circle cx="306.2" cy="609.2" r="1" fill="#7a5a9a"/>
<circle cx="357" cy="609.1" r="1.3" fill="#6e508c"/>
<circle cx="360.2" cy="608.5" r="1" fill="#7a5a9a"/>
<circle cx="362.1" cy="608.3" r="1.3" fill="#7a5a9a"/>
<circle cx="364.8" cy="609" r="1.3" fill="#7a5a9a"/>
<circle cx="367.1" cy="609.4" r="1.1" fill="#8868a6"/>
<circle cx="368.4" cy="609.4" r="1.4" fill="#7a5a9a"/>
<circle cx="389.6" cy="608.5" r="1" fill="#7a5a9a"/>
<circle cx="391.5" cy="608.4" r="1" fill="#6e508c"/>
<circle cx="400.8" cy="608.9" r="1.4" fill="#6e508c"/>
<circle cx="295.5" cy="610.7" r="1.1" fill="#8868a6"/>
<circle cx="302.3" cy="610.6" r="1.1" fill="#6e508c"/>
<circle cx="305.2" cy="611.9" r="1.1" fill="#8868a6"/>
<circle cx="307.5" cy="611" r="1.1" fill="#684a8a"/>
<circle cx="355.9" cy="611.4" r="1.2" fill="#8868a6"/>
<circle cx="358.1" cy="611" r="1.3" fill="#7a5a9a"/>
<circle cx="359.9" cy="611.6" r="1.4" fill="#8868a6"/>
<circle cx="362.7" cy="611.4" r="1.1" fill="#6e508c"/>
<circle cx="364.7" cy="611.2" r="1.3" fill="#8868a6"/>
<circle cx="369.5" cy="612" r="1.1" fill="#8868a6"/>
<circle cx="371.2" cy="610.6" r="1.3" fill="#6e508c"/>
<circle cx="374.2" cy="611.7" r="1.3" fill="#8868a6"/>
<circle cx="376.5" cy="611.5" r="1.3" fill="#6e508c"/>
<circle cx="394.7" cy="610.8" r="1.1" fill="#6e508c"/>
<circle cx="397.6" cy="610.8" r="1.2" fill="#8868a6"/>
<circle cx="399.5" cy="611.7" r="1.1" fill="#8868a6"/>
<circle cx="295.6" cy="613.8" r="1.1" fill="#8868a6"/>
<circle cx="298" cy="613.2" r="1.1" fill="#684a8a"/>
<circle cx="300.9" cy="613.3" r="1.2" fill="#7a5a9a"/>
<circle cx="303.5" cy="614" r="1.4" fill="#7a5a9a"/>
<circle cx="305.5" cy="613.4" r="1.3" fill="#7a5a9a"/>
<circle cx="307.6" cy="613.9" r="1.3" fill="#7a5a9a"/>
<circle cx="312.2" cy="613.7" r="1.2" fill="#7a5a9a"/>
<circle cx="314.7" cy="614.2" r="1" fill="#6e508c"/>
<circle cx="359" cy="613.8" r="1.2" fill="#7a5a9a"/>
<circle cx="365.2" cy="613.2" r="1.1" fill="#684a8a"/>
<circle cx="372.1" cy="613.5" r="1.2" fill="#8868a6"/>
<circle cx="375" cy="613.9" r="1.2" fill="#8868a6"/>
<circle cx="378.3" cy="613.6" r="1" fill="#7a5a9a"/>
<circle cx="383.2" cy="613.7" r="1.3" fill="#7a5a9a"/>
<circle cx="295.7" cy="615.9" r="1.2" fill="#6e508c"/>
<circle cx="300.7" cy="616" r="1.2" fill="#6e508c"/>
<circle cx="303.1" cy="616.1" r="1.3" fill="#6e508c"/>
<circle cx="311.8" cy="616.1" r="1.2" fill="#6e508c"/>
<circle cx="359.9" cy="616.5" r="1" fill="#8868a6"/>
<circle cx="365.2" cy="615.6" r="1.2" fill="#684a8a"/>
<circle cx="369.2" cy="615.2" r="1.3" fill="#8868a6"/>
<circle cx="376.4" cy="616.4" r="1.4" fill="#7a5a9a"/>
<circle cx="380.7" cy="615.7" r="1.1" fill="#684a8a"/>
<circle cx="402.4" cy="616.1" r="1.2" fill="#7a5a9a"/>
<circle cx="297.7" cy="617.9" r="1.4" fill="#684a8a"/>
<circle cx="299.9" cy="617.8" r="1.3" fill="#8868a6"/>
<circle cx="303" cy="617.6" r="1.3" fill="#7a5a9a"/>
<circle cx="315.9" cy="618.6" r="1.2" fill="#6e508c"/>
<circle cx="318.3" cy="617.5" r="1.1" fill="#7a5a9a"/>
<circle cx="321.2" cy="617.7" r="1.2" fill="#6e508c"/>
<circle cx="322.6" cy="617.6" r="1.4" fill="#8868a6"/>
<circle cx="326.1" cy="618.3" r="1.2" fill="#8868a6"/>
<circle cx="327.6" cy="617.7" r="1.1" fill="#6e508c"/>
<circle cx="330.2" cy="617.6" r="1" fill="#8868a6"/>
<circle cx="332.6" cy="618.2" r="1.3" fill="#684a8a"/>
<circle cx="334.6" cy="617.9" r="1" fill="#684a8a"/>
<circle cx="336.3" cy="617.6" r="1.3" fill="#6e508c"/>
<circle cx="339.2" cy="618.8" r="1.3" fill="#8868a6"/>
<circle cx="340.9" cy="618.1" r="1.1" fill="#7a5a9a"/>
<circle cx="353.3" cy="618.8" r="1.1" fill="#7a5a9a"/>
<circle cx="355.6" cy="617.5" r="1.1" fill="#684a8a"/>
<circle cx="362.8" cy="618.4" r="1.2" fill="#8868a6"/>
<circle cx="366.8" cy="617.6" r="1.3" fill="#684a8a"/>
<circle cx="370.9" cy="618.2" r="1" fill="#6e508c"/>
<circle cx="373.3" cy="617.8" r="1" fill="#6e508c"/>
<circle cx="376.2" cy="618.4" r="1.4" fill="#6e508c"/>
<circle cx="389.9" cy="618.4" r="1.1" fill="#684a8a"/>
<circle cx="301.5" cy="621.1" r="1" fill="#6e508c"/>
<circle cx="303.5" cy="620.7" r="1.3" fill="#684a8a"/>
<circle cx="305.5" cy="621.2" r="1.2" fill="#684a8a"/>
<circle cx="308" cy="620.9" r="1.4" fill="#8868a6"/>
<circle cx="312.2" cy="619.8" r="1.2" fill="#7a5a9a"/>
<circle cx="315.3" cy="620.6" r="1.3" fill="#6e508c"/>
<circle cx="316.5" cy="620.7" r="1" fill="#7a5a9a"/>
<circle cx="319" cy="620.3" r="1.2" fill="#6e508c"/>
<circle cx="321.4" cy="619.9" r="1.3" fill="#7a5a9a"/>
<circle cx="326.1" cy="620.2" r="1" fill="#8868a6"/>
<circle cx="330.9" cy="620.6" r="1" fill="#6e508c"/>
<circle cx="333.2" cy="620.5" r="1.1" fill="#8868a6"/>
<circle cx="334.9" cy="620.5" r="1.2" fill="#7a5a9a"/>
<circle cx="337.9" cy="620.2" r="1.1" fill="#8868a6"/>
<circle cx="340.3" cy="620.1" r="1.3" fill="#7a5a9a"/>
<circle cx="342.7" cy="620.5" r="1.4" fill="#684a8a"/>
<circle cx="345" cy="620.3" r="1.2" fill="#8868a6"/>
<circle cx="349" cy="621.1" r="1.2" fill="#7a5a9a"/>
<circle cx="362.8" cy="620.7" r="1" fill="#7a5a9a"/>
<circle cx="369.9" cy="620.9" r="1.2" fill="#684a8a"/>
<circle cx="378.7" cy="620.6" r="1.1" fill="#684a8a"/>
<circle cx="295.3" cy="622.2" r="1.4" fill="#684a8a"/>
<circle cx="297.3" cy="622.4" r="1.2" fill="#6e508c"/>
<circle cx="299.6" cy="622.4" r="1.1" fill="#684a8a"/>
<circle cx="305.1" cy="623.3" r="1.1" fill="#684a8a"/>
<circle cx="307.1" cy="623" r="1.2" fill="#7a5a9a"/>
<circle cx="311.7" cy="622.2" r="1.4" fill="#7a5a9a"/>
<circle cx="313.4" cy="623.4" r="1" fill="#7a5a9a"/>
<circle cx="318.1" cy="622.1" r="1.2" fill="#6e508c"/>
<circle cx="320.4" cy="623.4" r="1.2" fill="#7a5a9a"/>
<circle cx="323.5" cy="622.6" r="1.3" fill="#7a5a9a"/>
<circle cx="327.5" cy="622.3" r="1.1" fill="#684a8a"/>
<circle cx="330" cy="623.2" r="1.4" fill="#8868a6"/>
<circle cx="332.6" cy="623.1" r="1.3" fill="#684a8a"/>
<circle cx="335.1" cy="622.9" r="1.2" fill="#684a8a"/>
<circle cx="336.9" cy="623.4" r="1" fill="#684a8a"/>
<circle cx="339.2" cy="622.5" r="1.2" fill="#7a5a9a"/>
<circle cx="340.8" cy="622.4" r="1.1" fill="#684a8a"/>
<circle cx="346.7" cy="622.2" r="1.2" fill="#8868a6"/>
<circle cx="348.5" cy="622.8" r="1.4" fill="#684a8a"/>
<circle cx="351.2" cy="622.7" r="1.3" fill="#7a5a9a"/>
<circle cx="353.4" cy="623.5" r="1" fill="#7a5a9a"/>
<circle cx="371.7" cy="623.4" r="1.1" fill="#7a5a9a"/>
<circle cx="378.7" cy="622.3" r="1.4" fill="#8868a6"/>
<circle cx="388.1" cy="622.2" r="1.2" fill="#6e508c"/>
<circle cx="298.4" cy="625.6" r="1.2" fill="#7a5a9a"/>
<circle cx="302.6" cy="625.2" r="1.3" fill="#7a5a9a"/>
<circle cx="307.3" cy="624.8" r="1" fill="#6e508c"/>
<circle cx="314.6" cy="625.2" r="1.4" fill="#7a5a9a"/>
<circle cx="322.1" cy="625" r="1.2" fill="#684a8a"/>
<circle cx="324" cy="624.8" r="1.3" fill="#684a8a"/>
<circle cx="328.3" cy="624.7" r="1" fill="#7a5a9a"/>
<circle cx="335.1" cy="625.1" r="1.3" fill="#8868a6"/>
<circle cx="339.9" cy="624.4" r="1" fill="#684a8a"/>
<circle cx="342.8" cy="624.7" r="1" fill="#7a5a9a"/>
<circle cx="345.1" cy="624.6" r="1" fill="#684a8a"/>
<circle cx="346.5" cy="625.8" r="1.3" fill="#6e508c"/>
<circle cx="349" cy="625.8" r="1.2" fill="#684a8a"/>
<circle cx="351.1" cy="624.5" r="1.2" fill="#7a5a9a"/>
<circle cx="362.3" cy="625.7" r="1.3" fill="#8868a6"/>
<circle cx="365.4" cy="625.1" r="1.4" fill="#684a8a"/>
<circle cx="368.1" cy="625" r="1" fill="#6e508c"/>
<circle cx="371.5" cy="625.7" r="1.2" fill="#684a8a"/>
<circle cx="373.9" cy="624.8" r="1.1" fill="#8868a6"/>
<circle cx="376.2" cy="625" r="1" fill="#8868a6"/>
<circle cx="296.1" cy="626.8" r="1.3" fill="#8868a6"/>
<circle cx="298" cy="628" r="1.3" fill="#6e508c"/>
<circle cx="303" cy="628.1" r="1.3" fill="#7a5a9a"/>
<circle cx="305.6" cy="627.7" r="1" fill="#6e508c"/>
<circle cx="307.1" cy="627.4" r="1.4" fill="#6e508c"/>
<circle cx="309.3" cy="627" r="1.2" fill="#684a8a"/>
<circle cx="311.6" cy="628" r="1.1" fill="#8868a6"/>
<circle cx="313.6" cy="626.8" r="1.2" fill="#8868a6"/>
<circle cx="316.4" cy="627.4" r="1.4" fill="#8868a6"/>
<circle cx="318.1" cy="627" r="1.1" fill="#6e508c"/>
<circle cx="322.7" cy="627.5" r="1.1" fill="#6e508c"/>
<circle cx="325.9" cy="627.2" r="1" fill="#8868a6"/>
<circle cx="327.7" cy="627.5" r="1.2" fill="#8868a6"/>
<circle cx="329.6" cy="627.5" r="1.1" fill="#684a8a"/>
<circle cx="334.2" cy="627.6" r="1.3" fill="#8868a6"/>
<circle cx="337.2" cy="627.9" r="1.1" fill="#6e508c"/>
<circle cx="339.2" cy="628.1" r="1.2" fill="#8868a6"/>
<circle cx="343.6" cy="627.6" r="1.2" fill="#8868a6"/>
<circle cx="348.4" cy="628" r="1.3" fill="#7a5a9a"/>
<circle cx="350.5" cy="627.2" r="1.1" fill="#684a8a"/>
<circle cx="353.5" cy="627.5" r="1" fill="#8868a6"/>
<circle cx="355.3" cy="628.1" r="1.1" fill="#6e508c"/>
<circle cx="360.1" cy="627.6" r="1.1" fill="#684a8a"/>
<circle cx="364.1" cy="626.9" r="1.4" fill="#8868a6"/>
<circle cx="367.4" cy="627.6" r="1" fill="#6e508c"/>
<circle cx="369.3" cy="626.7" r="1" fill="#8868a6"/>
<circle cx="300" cy="630.1" r="1.4" fill="#684a8a"/>
<circle cx="303" cy="629.7" r="1.3" fill="#6e508c"/>
<circle cx="304.8" cy="629.9" r="1.3" fill="#684a8a"/>
<circle cx="306.6" cy="629.1" r="1.3" fill="#7a5a9a"/>
<circle cx="308.9" cy="630.2" r="1" fill="#684a8a"/>
<circle cx="311.2" cy="629.9" r="1" fill="#8868a6"/>
<circle cx="314.5" cy="629.3" r="1.4" fill="#7a5a9a"/>
<circle cx="315.7" cy="630" r="1.4" fill="#8868a6"/>
<circle cx="322.5" cy="630" r="1.1" fill="#684a8a"/>
<circle cx="332.2" cy="629.5" r="1.3" fill="#6e508c"/>
<circle cx="334.3" cy="630" r="1.3" fill="#8868a6"/>
<circle cx="337.2" cy="629.1" r="1.1" fill="#8868a6"/>
<circle cx="339.2" cy="629.8" r="1.1" fill="#8868a6"/>
<circle cx="341.6" cy="630.2" r="1" fill="#8868a6"/>
<circle cx="343.3" cy="629.4" r="1.1" fill="#7a5a9a"/>
<circle cx="346.7" cy="630.3" r="1.1" fill="#684a8a"/>
<circle cx="348.8" cy="629.7" r="1.2" fill="#684a8a"/>
<circle cx="350.9" cy="630" r="1" fill="#8868a6"/>
<circle cx="353.1" cy="629.6" r="1.3" fill="#7a5a9a"/>
<circle cx="360.3" cy="630.2" r="1" fill="#8868a6"/>
<circle cx="362.1" cy="629.1" r="1.2" fill="#6e508c"/>
<circle cx="364.5" cy="630.4" r="1" fill="#6e508c"/>
<circle cx="366.4" cy="629.9" r="1.1" fill="#684a8a"/>
<circle cx="369.1" cy="629.6" r="1.2" fill="#7a5a9a"/>
<circle cx="376.4" cy="629.9" r="1" fill="#6e508c"/>
<circle cx="296.7" cy="632.1" r="1.1" fill="#6e508c"/>
<circle cx="301.2" cy="631.8" r="1.1" fill="#7a5a9a"/>
<circle cx="303.5" cy="632" r="1.4" fill="#7a5a9a"/>
<circle cx="306.1" cy="632" r="1.3" fill="#6e508c"/>
<circle cx="308.1" cy="631.4" r="1.1" fill="#8868a6"/>
<circle cx="310.3" cy="631.5" r="1.1" fill="#8868a6"/>
<circle cx="312.1" cy="632.1" r="1.2" fill="#7a5a9a"/>
<circle cx="314.9" cy="632.4" r="1.1" fill="#6e508c"/>
<circle cx="317.2" cy="631.6" r="1.4" fill="#6e508c"/>
<circle cx="319.9" cy="631.4" r="1.1" fill="#8868a6"/>
<circle cx="321.1" cy="632.2" r="1" fill="#6e508c"/>
<circle cx="324.1" cy="632.1" r="1.2" fill="#8868a6"/>
<circle cx="326.4" cy="632.4" r="1.3" fill="#6e508c"/>
<circle cx="329" cy="632" r="1" fill="#6e508c"/>
<circle cx="330.3" cy="631.9" r="1.1" fill="#684a8a"/>
<circle cx="333.8" cy="631.7" r="1.2" fill="#7a5a9a"/>
<circle cx="344.4" cy="632.6" r="1.3" fill="#6e508c"/>
<circle cx="346.3" cy="631.6" r="1.1" fill="#8868a6"/>
<circle cx="348.6" cy="631.7" r="1.2" fill="#684a8a"/>
<circle cx="351.4" cy="631.7" r="1.2" fill="#8868a6"/>
<circle cx="353.4" cy="632" r="1.2" fill="#7a5a9a"/>
<circle cx="357.9" cy="631.7" r="1.1" fill="#684a8a"/>
<circle cx="360.3" cy="632.5" r="1.2" fill="#7a5a9a"/>
<circle cx="363.2" cy="631.5" r="1" fill="#8868a6"/>
<circle cx="368.2" cy="631.5" r="1.2" fill="#6e508c"/>
<circle cx="369.8" cy="632.6" r="1.3" fill="#8868a6"/>
<circle cx="371.6" cy="631.8" r="1.3" fill="#8868a6"/>
<circle cx="374.5" cy="632.5" r="1.1" fill="#7a5a9a"/>
<circle cx="297.9" cy="633.9" r="1.2" fill="#6e508c"/>
<circle cx="303.1" cy="634.6" r="1" fill="#6e508c"/>
<circle cx="307.3" cy="634" r="1.2" fill="#6e508c"/>
<circle cx="309.3" cy="634.6" r="1" fill="#7a5a9a"/>
<circle cx="311.5" cy="634.4" r="1.2" fill="#6e508c"/>
<circle cx="314.5" cy="634.2" r="1.4" fill="#684a8a"/>
<circle cx="316.9" cy="634.6" r="1.3" fill="#684a8a"/>
<circle cx="319.4" cy="634.3" r="1.1" fill="#7a5a9a"/>
<circle cx="323.5" cy="634.4" r="1.4" fill="#684a8a"/>
<circle cx="325.9" cy="634.8" r="1.3" fill="#7a5a9a"/>
<circle cx="328.3" cy="634.4" r="1.4" fill="#684a8a"/>
<circle cx="330.6" cy="634.3" r="1.2" fill="#6e508c"/>
<circle cx="335" cy="633.6" r="1" fill="#7a5a9a"/>
<circle cx="341.4" cy="633.7" r="1.3" fill="#8868a6"/>
<circle cx="346.3" cy="634.4" r="1.3" fill="#6e508c"/>
<circle cx="348.6" cy="634.4" r="1.3" fill="#6e508c"/>
<circle cx="351.2" cy="634.8" r="1.1" fill="#684a8a"/>
<circle cx="353.4" cy="634.9" r="1.2" fill="#684a8a"/>
<circle cx="356.2" cy="634.4" r="1.2" fill="#8868a6"/>
<circle cx="363.1" cy="633.8" r="1.4" fill="#684a8a"/>
<circle cx="366.9" cy="633.9" r="1.2" fill="#8868a6"/>
<circle cx="372" cy="633.6" r="1" fill="#6e508c"/>
<circle cx="296.2" cy="636.9" r="1.2" fill="#7a5a9a"/>
<circle cx="297.9" cy="636.8" r="1.3" fill="#6e508c"/>
<circle cx="302.4" cy="635.9" r="1.1" fill="#6e508c"/>
<circle cx="305.6" cy="636" r="1" fill="#8868a6"/>
<circle cx="307.9" cy="636.4" r="1.2" fill="#8868a6"/>
<circle cx="312.3" cy="637.3" r="1.3" fill="#684a8a"/>
<circle cx="314.1" cy="636.6" r="1.1" fill="#6e508c"/>
<circle cx="317.2" cy="636.3" r="1.4" fill="#7a5a9a"/>
<circle cx="318.8" cy="637" r="1.1" fill="#684a8a"/>
<circle cx="321.5" cy="636.8" r="1.4" fill="#8868a6"/>
<circle cx="322.9" cy="637.1" r="1.3" fill="#684a8a"/>
<circle cx="328.6" cy="636.5" r="1.3" fill="#6e508c"/>
<circle cx="330.4" cy="637" r="1" fill="#684a8a"/>
<circle cx="335.5" cy="635.9" r="1.1" fill="#684a8a"/>
<circle cx="337.1" cy="636.9" r="1.1" fill="#6e508c"/>
<circle cx="339.1" cy="636.5" r="1.4" fill="#8868a6"/>
<circle cx="342.2" cy="636.9" r="1.4" fill="#6e508c"/>
<circle cx="343.7" cy="636.1" r="1" fill="#8868a6"/>
<circle cx="346.5" cy="636.5" r="1.2" fill="#6e508c"/>
<circle cx="348.4" cy="636" r="1.2" fill="#684a8a"/>
<circle cx="356.3" cy="637.1" r="1.1" fill="#8868a6"/>
<circle cx="360.9" cy="637.1" r="1" fill="#684a8a"/>
<circle cx="363.2" cy="636.1" r="1.1" fill="#684a8a"/>
<circle cx="369.2" cy="636.3" r="1.3" fill="#684a8a"/>
<circle cx="296.9" cy="639.2" r="1" fill="#684a8a"/>
<circle cx="303.8" cy="639" r="1.2" fill="#684a8a"/>
<circle cx="308.3" cy="639.1" r="1.3" fill="#684a8a"/>
<circle cx="310.1" cy="638.9" r="1.1" fill="#6e508c"/>
<circle cx="311.8" cy="638.8" r="1.3" fill="#7a5a9a"/>
<circle cx="316.5" cy="638.6" r="1.2" fill="#7a5a9a"/>
<circle cx="319.5" cy="639.4" r="1" fill="#684a8a"/>
<circle cx="320.9" cy="638.3" r="1" fill="#7a5a9a"/>
<circle cx="323.6" cy="638.4" r="1.1" fill="#6e508c"/>
<circle cx="327.8" cy="638.9" r="1.2" fill="#7a5a9a"/>
<circle cx="349.6" cy="638.7" r="1.3" fill="#6e508c"/>
<circle cx="351.7" cy="638.5" r="1" fill="#6e508c"/>
<circle cx="359" cy="638.8" r="1" fill="#8868a6"/>
<circle cx="360.3" cy="638.4" r="1" fill="#684a8a"/>
<circle cx="362.5" cy="638.4" r="1.2" fill="#684a8a"/>
<circle cx="371.6" cy="639.4" r="1" fill="#8868a6"/>
<circle cx="376.1" cy="638.9" r="1" fill="#6e508c"/>
<circle cx="302.8" cy="641.5" r="1.3" fill="#8868a6"/>
<circle cx="305.4" cy="641.1" r="1.2" fill="#8868a6"/>
<circle cx="309.7" cy="641.7" r="1" fill="#7a5a9a"/>
<circle cx="311.7" cy="640.7" r="1.2" fill="#7a5a9a"/>
<circle cx="321.2" cy="640.6" r="1.1" fill="#7a5a9a"/>
<circle cx="323" cy="640.6" r="1.2" fill="#6e508c"/>
<circle cx="325.3" cy="640.8" r="1.2" fill="#7a5a9a"/>
<circle cx="339.3" cy="641.2" r="1.2" fill="#8868a6"/>
<circle cx="371" cy="641.8" r="1.1" fill="#684a8a"/>
<circle cx="300.1" cy="643.8" r="1.3" fill="#684a8a"/>
<circle cx="302.6" cy="643.7" r="1.1" fill="#6e508c"/>
<circle cx="307" cy="643.1" r="1" fill="#6e508c"/>
<circle cx="312.4" cy="644.2" r="1.1" fill="#8868a6"/>
<circle cx="319.5" cy="643.1" r="1.4" fill="#684a8a"/>
<circle cx="321.3" cy="643.6" r="1.3" fill="#6e508c"/>
<circle cx="358.5" cy="643.6" r="1" fill="#684a8a"/>
<circle cx="360.2" cy="643.2" r="1.1" fill="#6e508c"/>
<circle cx="369.4" cy="643.9" r="1.1" fill="#7a5a9a"/>
<circle cx="374.3" cy="643.8" r="1.1" fill="#684a8a"/>
<circle cx="308" cy="645.6" r="1.3" fill="#684a8a"/>
<circle cx="317.3" cy="645.7" r="1" fill="#8868a6"/>
<circle cx="365" cy="646.4" r="1.2" fill="#684a8a"/>
<circle cx="401.2" cy="646.1" r="1.4" fill="#684a8a"/>
<circle cx="298.5" cy="648.2" r="1.3" fill="#6e508c"/>
<circle cx="310.5" cy="648" r="1.1" fill="#7a5a9a"/>
<circle cx="319.4" cy="648.5" r="1.2" fill="#8868a6"/>
<circle cx="376.9" cy="647.5" r="1.2" fill="#8868a6"/>
<circle cx="381.3" cy="648.1" r="1.4" fill="#684a8a"/>
<circle cx="372.1" cy="651" r="1" fill="#684a8a"/>
<circle cx="295.4" cy="652.8" r="1.1" fill="#684a8a"/>
<circle cx="298.6" cy="652.3" r="1" fill="#6e508c"/>
<circle cx="365.5" cy="652.2" r="1.1" fill="#6e508c"/>
<circle cx="381.7" cy="652.3" r="1.1" fill="#8868a6"/>
<circle cx="362.4" cy="654.8" r="1.1" fill="#7a5a9a"/>
<circle cx="369.2" cy="655.1" r="1.3" fill="#7a5a9a"/>
<circle cx="378" cy="655.5" r="1.2" fill="#6e508c"/>
<circle cx="382.8" cy="654.7" r="1" fill="#684a8a"/>
<circle cx="387.7" cy="654.8" r="1.3" fill="#8868a6"/>
<circle cx="356.2" cy="658" r="1" fill="#8868a6"/>
<circle cx="364.4" cy="656.7" r="1.4" fill="#8868a6"/>
<circle cx="381.2" cy="657" r="1.3" fill="#684a8a"/>
<circle cx="385.3" cy="657.3" r="1.3" fill="#7a5a9a"/>
<circle cx="298" cy="660" r="1" fill="#684a8a"/>
<circle cx="379" cy="659" r="1.3" fill="#684a8a"/>
<circle cx="389.3" cy="659.5" r="1.2" fill="#8868a6"/>
<circle cx="344.6" cy="662.2" r="1.4" fill="#7a5a9a"/>
<circle cx="356.1" cy="662.1" r="1.3" fill="#8868a6"/>
<circle cx="358.8" cy="662.3" r="1.4" fill="#8868a6"/>
<circle cx="367.7" cy="662.5" r="1" fill="#8868a6"/>
<circle cx="380.6" cy="661.8" r="1.3" fill="#6e508c"/>
<circle cx="402.5" cy="661.7" r="1.2" fill="#684a8a"/>
<circle cx="297.9" cy="664.4" r="1.3" fill="#8868a6"/>
<circle cx="326.4" cy="664.4" r="1.1" fill="#684a8a"/>
<circle cx="361.2" cy="664.6" r="1.1" fill="#6e508c"/>
<circle cx="362.5" cy="664.1" r="1.3" fill="#8868a6"/>
<circle cx="373.8" cy="664.1" r="1.1" fill="#6e508c"/>
<circle cx="313.5" cy="666.5" r="1.3" fill="#7a5a9a"/>
<circle cx="337.5" cy="667.1" r="1.1" fill="#684a8a"/>
<circle cx="346" cy="665.8" r="1.3" fill="#6e508c"/>
<circle cx="373.2" cy="666" r="1" fill="#6e508c"/>
<circle cx="389.6" cy="666.5" r="1.2" fill="#7a5a9a"/>
<circle cx="399.6" cy="666" r="1.3" fill="#684a8a"/>
<circle cx="334.2" cy="668.6" r="1.1" fill="#684a8a"/>
<circle cx="337.1" cy="668.8" r="1.1" fill="#6e508c"/>
<circle cx="339.6" cy="669.3" r="1.4" fill="#8868a6"/>
<circle cx="342" cy="668.4" r="1.3" fill="#684a8a"/>
<circle cx="368.7" cy="668.5" r="1" fill="#6e508c"/>
<circle cx="394.8" cy="668.5" r="1.2" fill="#7a5a9a"/>
<circle cx="302.1" cy="671.6" r="1" fill="#8868a6"/>
<circle cx="310" cy="670.9" r="1.2" fill="#8868a6"/>
<circle cx="334.3" cy="671.8" r="1.1" fill="#7a5a9a"/>
<circle cx="338.9" cy="671.1" r="1.3" fill="#6e508c"/>
<circle cx="357.3" cy="671.6" r="1.3" fill="#684a8a"/>
<circle cx="367.6" cy="671.3" r="1" fill="#684a8a"/>
<circle cx="371.2" cy="670.7" r="1.3" fill="#7a5a9a"/>
<circle cx="373.6" cy="671.8" r="1.3" fill="#7a5a9a"/>
<circle cx="401.9" cy="671.7" r="1.2" fill="#8868a6"/>
<circle cx="295.7" cy="673.5" r="1.3" fill="#6e508c"/>
<circle cx="297.9" cy="672.9" r="1" fill="#8868a6"/>
<circle cx="328.5" cy="672.8" r="1.4" fill="#7a5a9a"/>
<circle cx="333.3" cy="673.3" r="1.3" fill="#684a8a"/>
<circle cx="360" cy="673.6" r="1.1" fill="#7a5a9a"/>
<circle cx="396.5" cy="673.1" r="1.1" fill="#684a8a"/>
<circle cx="303.3" cy="676.2" r="1" fill="#6e508c"/>
<circle cx="311.7" cy="675.3" r="1.2" fill="#684a8a"/>
<circle cx="325.8" cy="675.7" r="1.3" fill="#6e508c"/>
<circle cx="332.7" cy="675.1" r="1.2" fill="#6e508c"/>
<circle cx="335.9" cy="676.1" r="1.3" fill="#8868a6"/>
<circle cx="338.1" cy="675.7" r="1.2" fill="#684a8a"/>
<circle cx="340.3" cy="676" r="1" fill="#8868a6"/>
<circle cx="355.3" cy="676" r="1.1" fill="#7a5a9a"/>
<circle cx="360" cy="675.2" r="1" fill="#8868a6"/>
<circle cx="372.6" cy="675.2" r="1.2" fill="#7a5a9a"/>
<circle cx="388.5" cy="676.2" r="1.2" fill="#684a8a"/>
<circle cx="300.6" cy="678.2" r="1.1" fill="#7a5a9a"/>
<circle cx="336.9" cy="677.8" r="1.3" fill="#8868a6"/>
<circle cx="339.8" cy="677.7" r="1.4" fill="#7a5a9a"/>
<circle cx="346.2" cy="677.8" r="1.1" fill="#7a5a9a"/>
<circle cx="350.8" cy="678.2" r="1.3" fill="#8868a6"/>
<circle cx="355.3" cy="678.3" r="1.2" fill="#6e508c"/>
<circle cx="360.6" cy="678.6" r="1.2" fill="#7a5a9a"/>
<circle cx="385.5" cy="678.4" r="1.3" fill="#7a5a9a"/>
<circle cx="336.5" cy="679.7" r="1.4" fill="#7a5a9a"/>
<circle cx="340" cy="680.6" r="1.2" fill="#6e508c"/>
<circle cx="343.9" cy="680.9" r="1.1" fill="#8868a6"/>
<circle cx="346.4" cy="680.6" r="1" fill="#8868a6"/>
<circle cx="355.2" cy="680.9" r="1.3" fill="#684a8a"/>
<circle cx="331.1" cy="683.2" r="1.3" fill="#6e508c"/>
<circle cx="334.8" cy="682.3" r="1.3" fill="#6e508c"/>
<circle cx="337.6" cy="682.7" r="1.3" fill="#6e508c"/>
<circle cx="339.8" cy="682.4" r="1.2" fill="#7a5a9a"/>
<circle cx="341.7" cy="682.5" r="1.3" fill="#7a5a9a"/>
<circle cx="344.2" cy="683.2" r="1.2" fill="#7a5a9a"/>
<circle cx="346.8" cy="682.1" r="1.1" fill="#7a5a9a"/>
<circle cx="350.8" cy="682.3" r="1.4" fill="#8868a6"/>
<circle cx="353.5" cy="682.3" r="1.2" fill="#684a8a"/>
<circle cx="362.7" cy="682.8" r="1.3" fill="#7a5a9a"/>
<circle cx="372.5" cy="682.9" r="1.2" fill="#7a5a9a"/>
<circle cx="381" cy="683.1" r="1.1" fill="#6e508c"/>
<circle cx="394.8" cy="682" r="1.1" fill="#7a5a9a"/>
<circle cx="310.2" cy="685" r="1.3" fill="#8868a6"/>
<circle cx="323.4" cy="684.4" r="1" fill="#684a8a"/>
<circle cx="338.1" cy="684.9" r="1.3" fill="#7a5a9a"/>
<circle cx="340" cy="685.3" r="1.1" fill="#7a5a9a"/>
<circle cx="341.7" cy="684.9" r="1.1" fill="#6e508c"/>
<circle cx="353.5" cy="684.4" r="1" fill="#6e508c"/>
<circle cx="395.4" cy="684.6" r="1.2" fill="#684a8a"/>
<circle cx="399.4" cy="684.3" r="1" fill="#8868a6"/>
<circle cx="297.7" cy="687.5" r="1.2" fill="#684a8a"/>
<circle cx="334.7" cy="687" r="1.2" fill="#7a5a9a"/>
<circle cx="339.1" cy="687.1" r="1.3" fill="#6e508c"/>
<circle cx="343.7" cy="686.8" r="1.3" fill="#8868a6"/>
<circle cx="353.2" cy="687.3" r="1.3" fill="#6e508c"/>
<circle cx="397.5" cy="686.6" r="1.3" fill="#684a8a"/>
<circle cx="398.9" cy="686.7" r="1" fill="#7a5a9a"/>
</g></g>
<clipPath id="clip23"><rect x="406.3" y="566.7" width="110.2" height="123.2"/></clipPath><filter id="bl23" x="0" y="0" width="1" height="1"><feGaussianBlur stdDeviation="0.45"/></filter><g clip-path="url(#clip23)"><g filter="url(#bl23)">
<rect x="406.3" y="566.7" width="110.2" height="123.2" fill="#c8bad6"/>
<path d="M407.6,585.8 L414.9,583.6 L420.4,586.9 L422.5,593.5 L431.3,596.8 L441.2,600.1 L452.1,601.2 L462.5,597.5 L469,590.9 L476.3,590.9 L475.6,597.9 L469,605.6 L459.8,608.9 L450,607.8 L440.1,606.7 L431.3,607.1 L422.5,608.4 L413.8,610 L407.6,608.9 Z" fill="#dde6ee"/>
<path d="M493.8,571.6 L501.5,570.5 L507,573.8 L504.8,581.4 L498.2,583.6 L493.8,579.3 Z" fill="#dde6ee"/>
<path d="M486.6,597.9 L497.1,596.1 L507,597.9 L505.9,602.3 L494.9,603.6 L487,601.8 Z" fill="#dde6ee"/>
<path d="M489.4,616.5 L497.1,611.1 L504.8,612.8 L507.2,622 L504.8,630.8 L500.4,636.9 L493.2,640.7 L487.5,636.9 L488.3,626.4 Z" fill="#dde6ee"/>
<path d="M424.7,630.8 L430.2,628.6 L434.6,631.2 L434.4,639.6 L430,643.1 L425.6,640.7 Z" fill="#dde6ee"/>
<path d="M471.9,669.8 L478.5,668.1 L483.5,672 L481.3,677.3 L474.7,677.9 L471.4,674.2 Z" fill="#dde6ee"/>
<path d="M501.1,671.4 L508.1,669.8 L514.2,672.9 L513.3,678.6 L504.1,679.5 L500.6,675.7 Z" fill="#dde6ee"/>
<path d="M406.1,566.8 L412.7,566.3 L414.9,571.6 L411.1,576.4 L406.3,575.5 Z" fill="#dde6ee"/>
<circle cx="421.8" cy="567.9" r="1.3" fill="#cf3058"/>
<circle cx="445.3" cy="567.3" r="1.4" fill="#e4466e"/>
<circle cx="438.3" cy="569.7" r="1.2" fill="#e4466e"/>
<circle cx="511" cy="569.8" r="1.2" fill="#d63c66"/>
<circle cx="452.2" cy="573" r="1.4" fill="#d63c66"/>
<circle cx="509.2" cy="572.9" r="1.2" fill="#dc3862"/>
<circle cx="511.6" cy="573" r="1.3" fill="#d63c66"/>
<circle cx="410.4" cy="575" r="1.4" fill="#dc3862"/>
<circle cx="474.1" cy="575.2" r="1.4" fill="#e4466e"/>
<circle cx="482.6" cy="575.1" r="1.3" fill="#dc3862"/>
<circle cx="507" cy="575.4" r="1.4" fill="#e4466e"/>
<circle cx="508.3" cy="574.5" r="1.2" fill="#d63c66"/>
<circle cx="511.1" cy="574.4" r="1.1" fill="#d63c66"/>
<circle cx="513" cy="575.1" r="1.5" fill="#dc3862"/>
<circle cx="435.5" cy="579.9" r="1.2" fill="#e4466e"/>
<circle cx="506.5" cy="579.7" r="1.2" fill="#dc3862"/>
<circle cx="485.3" cy="582.1" r="1.5" fill="#d63c66"/>
<circle cx="514.1" cy="582.4" r="1.3" fill="#d63c66"/>
<circle cx="515.2" cy="581.2" r="1.2" fill="#d63c66"/>
<circle cx="506.5" cy="583.5" r="1.4" fill="#dc3862"/>
<circle cx="511.3" cy="583.8" r="1.4" fill="#d63c66"/>
<circle cx="431.1" cy="586.8" r="1.2" fill="#e4466e"/>
<circle cx="434.2" cy="585.9" r="1.1" fill="#cf3058"/>
<circle cx="435.8" cy="586.4" r="1.4" fill="#cf3058"/>
<circle cx="437.7" cy="587" r="1.2" fill="#e4466e"/>
<circle cx="509.4" cy="586.4" r="1.4" fill="#e4466e"/>
<circle cx="511.6" cy="586.5" r="1.5" fill="#d63c66"/>
<circle cx="426.4" cy="589" r="1.1" fill="#dc3862"/>
<circle cx="431.5" cy="589.4" r="1.2" fill="#e4466e"/>
<circle cx="433.2" cy="588.3" r="1.4" fill="#d63c66"/>
<circle cx="435.5" cy="588.4" r="1.2" fill="#dc3862"/>
<circle cx="440.1" cy="588.5" r="1.5" fill="#d63c66"/>
<circle cx="429.1" cy="591.1" r="1.2" fill="#e4466e"/>
<circle cx="431" cy="591.8" r="1.4" fill="#e4466e"/>
<circle cx="432.8" cy="590.8" r="1.5" fill="#d63c66"/>
<circle cx="436.3" cy="591.6" r="1.3" fill="#e4466e"/>
<circle cx="434.1" cy="594.1" r="1.1" fill="#e4466e"/>
<circle cx="410.4" cy="598.3" r="1.1" fill="#d63c66"/>
<circle cx="455.1" cy="597.6" r="1.2" fill="#cf3058"/>
<circle cx="497.2" cy="608.3" r="1.3" fill="#d63c66"/>
<circle cx="409.5" cy="610.4" r="1.2" fill="#e4466e"/>
<circle cx="462.4" cy="610.3" r="1.5" fill="#dc3862"/>
<circle cx="464.8" cy="609.9" r="1.4" fill="#dc3862"/>
<circle cx="466.8" cy="609.9" r="1.1" fill="#cf3058"/>
<circle cx="448.2" cy="612.5" r="1.5" fill="#dc3862"/>
<circle cx="455.8" cy="611.8" r="1.5" fill="#e4466e"/>
<circle cx="456.9" cy="612.4" r="1.3" fill="#dc3862"/>
<circle cx="467.3" cy="612.4" r="1.2" fill="#cf3058"/>
<circle cx="449.5" cy="614.6" r="1.1" fill="#e4466e"/>
<circle cx="452.5" cy="614.9" r="1.4" fill="#d63c66"/>
<circle cx="454.3" cy="614.7" r="1.2" fill="#e4466e"/>
<circle cx="457.2" cy="615" r="1.5" fill="#e4466e"/>
<circle cx="458.9" cy="614.1" r="1.4" fill="#cf3058"/>
<circle cx="461.5" cy="614.5" r="1.4" fill="#cf3058"/>
<circle cx="465.7" cy="614.9" r="1.4" fill="#dc3862"/>
<circle cx="452.4" cy="616.4" r="1.5" fill="#d63c66"/>
<circle cx="455.4" cy="617.3" r="1.5" fill="#dc3862"/>
<circle cx="431.2" cy="618.9" r="1.4" fill="#cf3058"/>
<circle cx="467.4" cy="621.7" r="1.1" fill="#cf3058"/>
<circle cx="480.2" cy="623.4" r="1.3" fill="#cf3058"/>
<circle cx="487.6" cy="626" r="1.4" fill="#e4466e"/>
<circle cx="429.5" cy="630.9" r="1.1" fill="#d63c66"/>
<circle cx="457.4" cy="633.5" r="1.2" fill="#cf3058"/>
<circle cx="476" cy="634.2" r="1.1" fill="#d63c66"/>
<circle cx="501.8" cy="633.9" r="1.5" fill="#cf3058"/>
<circle cx="483.6" cy="636.1" r="1.4" fill="#cf3058"/>
<circle cx="501.5" cy="636.6" r="1.3" fill="#e4466e"/>
<circle cx="471.4" cy="637.6" r="1.5" fill="#e4466e"/>
<circle cx="468.9" cy="642.8" r="1.3" fill="#e4466e"/>
<circle cx="436.3" cy="645.4" r="1.4" fill="#e4466e"/>
<circle cx="447.9" cy="647.4" r="1.4" fill="#cf3058"/>
<circle cx="454.9" cy="650.7" r="1.5" fill="#cf3058"/>
<circle cx="457.8" cy="650.2" r="1.3" fill="#cf3058"/>
<circle cx="459.8" cy="650" r="1.3" fill="#dc3862"/>
<circle cx="451.3" cy="652.5" r="1.3" fill="#dc3862"/>
<circle cx="455.8" cy="651.6" r="1.2" fill="#cf3058"/>
<circle cx="481.1" cy="652.7" r="1.4" fill="#dc3862"/>
<circle cx="428.9" cy="654.4" r="1.5" fill="#dc3862"/>
<circle cx="433.7" cy="654.4" r="1.1" fill="#cf3058"/>
<circle cx="454.9" cy="654.4" r="1.1" fill="#e4466e"/>
<circle cx="456.4" cy="654.1" r="1.4" fill="#d63c66"/>
<circle cx="458.5" cy="655.2" r="1.5" fill="#d63c66"/>
<circle cx="485.1" cy="654.7" r="1.1" fill="#cf3058"/>
<circle cx="421.5" cy="657.5" r="1.3" fill="#e4466e"/>
<circle cx="426.8" cy="656.7" r="1.1" fill="#e4466e"/>
<circle cx="452.6" cy="657.6" r="1.2" fill="#cf3058"/>
<circle cx="460.2" cy="656.8" r="1.2" fill="#dc3862"/>
<circle cx="419.7" cy="658.7" r="1.2" fill="#e4466e"/>
<circle cx="421.9" cy="659.7" r="1.2" fill="#e4466e"/>
<circle cx="462" cy="659.6" r="1.5" fill="#d63c66"/>
<circle cx="466.9" cy="659.3" r="1.1" fill="#cf3058"/>
<circle cx="483" cy="659" r="1.3" fill="#dc3862"/>
<circle cx="504" cy="659.3" r="1.5" fill="#dc3862"/>
<circle cx="407.8" cy="661.3" r="1.5" fill="#e4466e"/>
<circle cx="450.2" cy="662.3" r="1.1" fill="#e4466e"/>
<circle cx="455.2" cy="662.1" r="1.2" fill="#d63c66"/>
<circle cx="462.5" cy="661.1" r="1.1" fill="#dc3862"/>
<circle cx="465.3" cy="661.4" r="1.1" fill="#cf3058"/>
<circle cx="453.2" cy="663.9" r="1.4" fill="#d63c66"/>
<circle cx="455" cy="664.1" r="1.2" fill="#dc3862"/>
<circle cx="457.5" cy="664.3" r="1.5" fill="#dc3862"/>
<circle cx="459.5" cy="664.2" r="1.5" fill="#dc3862"/>
<circle cx="463" cy="664.6" r="1.4" fill="#dc3862"/>
<circle cx="465" cy="664.1" r="1.5" fill="#d63c66"/>
<circle cx="493" cy="664.4" r="1.4" fill="#e4466e"/>
<circle cx="420.3" cy="665.9" r="1.3" fill="#dc3862"/>
<circle cx="450.8" cy="665.9" r="1.5" fill="#dc3862"/>
<circle cx="455.8" cy="666.1" r="1.5" fill="#e4466e"/>
<circle cx="457.7" cy="666.7" r="1.5" fill="#cf3058"/>
<circle cx="462.8" cy="666.6" r="1.2" fill="#d63c66"/>
<circle cx="426.3" cy="668.4" r="1.2" fill="#e4466e"/>
<circle cx="447.7" cy="668.7" r="1.2" fill="#cf3058"/>
<circle cx="455.2" cy="669.3" r="1.4" fill="#dc3862"/>
<circle cx="457.6" cy="668.8" r="1.5" fill="#dc3862"/>
<circle cx="461.8" cy="669.3" r="1.2" fill="#d63c66"/>
<circle cx="507.2" cy="668.9" r="1.2" fill="#dc3862"/>
<circle cx="462.5" cy="670.7" r="1.3" fill="#cf3058"/>
<circle cx="407.8" cy="674" r="1.1" fill="#cf3058"/>
<circle cx="410.6" cy="673.2" r="1.4" fill="#dc3862"/>
<circle cx="450.2" cy="673.6" r="1.1" fill="#dc3862"/>
<circle cx="467.1" cy="676.2" r="1.4" fill="#cf3058"/>
<circle cx="410.3" cy="677.5" r="1.1" fill="#cf3058"/>
<circle cx="486.4" cy="677.9" r="1.1" fill="#cf3058"/>
<circle cx="440" cy="685.5" r="1.2" fill="#d63c66"/>
<circle cx="459.2" cy="685.8" r="1.1" fill="#d63c66"/>
<circle cx="425.2" cy="568" r="1.4" fill="#6c5a90"/>
<circle cx="426.9" cy="568.1" r="1.1" fill="#6c5a90"/>
<circle cx="429.4" cy="568.1" r="1" fill="#544078"/>
<circle cx="431.4" cy="567.4" r="1" fill="#544078"/>
<circle cx="438.8" cy="567.9" r="1.4" fill="#5e4a82"/>
<circle cx="449.9" cy="567.4" r="1.1" fill="#6c5a90"/>
<circle cx="453.2" cy="567.7" r="1.3" fill="#5e4a82"/>
<circle cx="455.2" cy="567.5" r="1" fill="#544078"/>
<circle cx="457.2" cy="568.2" r="1.1" fill="#4c3a70"/>
<circle cx="460.2" cy="568.1" r="1.1" fill="#5e4a82"/>
<circle cx="464.4" cy="568.3" r="1" fill="#6c5a90"/>
<circle cx="473.6" cy="567.8" r="1.1" fill="#544078"/>
<circle cx="476.1" cy="568" r="1" fill="#5e4a82"/>
<circle cx="478.7" cy="567.7" r="1.2" fill="#544078"/>
<circle cx="481.4" cy="567.9" r="1.2" fill="#4c3a70"/>
<circle cx="483.1" cy="567.6" r="1.1" fill="#6c5a90"/>
<circle cx="485" cy="567.3" r="1" fill="#6c5a90"/>
<circle cx="487.7" cy="567.5" r="1" fill="#5e4a82"/>
<circle cx="489.9" cy="567.6" r="1.1" fill="#544078"/>
<circle cx="492.6" cy="568.1" r="1" fill="#6c5a90"/>
<circle cx="494.9" cy="568.3" r="1.1" fill="#6c5a90"/>
<circle cx="498" cy="568" r="1.3" fill="#6c5a90"/>
<circle cx="506.6" cy="568.2" r="1.2" fill="#5e4a82"/>
<circle cx="508.6" cy="568.1" r="1.1" fill="#544078"/>
<circle cx="417.4" cy="569.7" r="1.1" fill="#4c3a70"/>
<circle cx="419.3" cy="570" r="1.1" fill="#4c3a70"/>
<circle cx="422.6" cy="570.4" r="1.4" fill="#544078"/>
<circle cx="424.1" cy="570.5" r="1.4" fill="#5e4a82"/>
<circle cx="426.6" cy="570.6" r="1.1" fill="#544078"/>
<circle cx="428.8" cy="570.4" r="1" fill="#4c3a70"/>
<circle cx="431.2" cy="569.6" r="1" fill="#5e4a82"/>
<circle cx="433.1" cy="569.8" r="1.4" fill="#4c3a70"/>
<circle cx="436.3" cy="570.4" r="1.1" fill="#4c3a70"/>
<circle cx="441.4" cy="569.4" r="1.1" fill="#5e4a82"/>
<circle cx="443.5" cy="569.4" r="1.3" fill="#5e4a82"/>
<circle cx="450.7" cy="570.6" r="1.2" fill="#544078"/>
<circle cx="452.5" cy="570.2" r="1.3" fill="#6c5a90"/>
<circle cx="454.6" cy="570.1" r="1" fill="#544078"/>
<circle cx="457.7" cy="569.8" r="1.4" fill="#5e4a82"/>
<circle cx="459.9" cy="569.6" r="1.2" fill="#6c5a90"/>
<circle cx="462" cy="569.7" r="1.4" fill="#6c5a90"/>
<circle cx="464.4" cy="570.1" r="1.3" fill="#4c3a70"/>
<circle cx="466.1" cy="570.4" r="1" fill="#544078"/>
<circle cx="473.5" cy="570.4" r="1.1" fill="#6c5a90"/>
<circle cx="476.7" cy="570.1" r="1.3" fill="#5e4a82"/>
<circle cx="477.8" cy="569.7" r="1" fill="#4c3a70"/>
<circle cx="480.6" cy="570" r="1.2" fill="#6c5a90"/>
<circle cx="483.3" cy="569.4" r="1" fill="#6c5a90"/>
<circle cx="485.2" cy="570" r="1" fill="#6c5a90"/>
<circle cx="488.2" cy="569.6" r="1.3" fill="#544078"/>
<circle cx="490.8" cy="570.2" r="1.1" fill="#5e4a82"/>
<circle cx="492.4" cy="570.3" r="1.3" fill="#544078"/>
<circle cx="494.2" cy="569.5" r="1" fill="#6c5a90"/>
<circle cx="497.3" cy="570.1" r="1.1" fill="#5e4a82"/>
<circle cx="500.1" cy="569.8" r="1" fill="#4c3a70"/>
<circle cx="509.3" cy="570.3" r="1.3" fill="#4c3a70"/>
<circle cx="513.6" cy="570.1" r="1" fill="#544078"/>
<circle cx="515.3" cy="569.6" r="1.2" fill="#5e4a82"/>
<circle cx="415.6" cy="571.9" r="1.1" fill="#5e4a82"/>
<circle cx="417.7" cy="572.9" r="1.1" fill="#4c3a70"/>
<circle cx="420.6" cy="571.9" r="1.3" fill="#6c5a90"/>
<circle cx="422.5" cy="572.4" r="1" fill="#6c5a90"/>
<circle cx="424.9" cy="572.1" r="1.4" fill="#5e4a82"/>
<circle cx="427" cy="572.3" r="1.1" fill="#544078"/>
<circle cx="429.6" cy="572.7" r="1" fill="#5e4a82"/>
<circle cx="431.6" cy="571.9" r="1" fill="#4c3a70"/>
<circle cx="436.2" cy="572.1" r="1.2" fill="#4c3a70"/>
<circle cx="445.8" cy="572.8" r="1.2" fill="#5e4a82"/>
<circle cx="447.8" cy="571.9" r="1.3" fill="#6c5a90"/>
<circle cx="450" cy="571.7" r="1.2" fill="#4c3a70"/>
<circle cx="455.7" cy="572.2" r="1" fill="#4c3a70"/>
<circle cx="458" cy="572.5" r="1.3" fill="#6c5a90"/>
<circle cx="460.4" cy="572.9" r="1" fill="#6c5a90"/>
<circle cx="461.8" cy="572.7" r="1.2" fill="#4c3a70"/>
<circle cx="474.2" cy="572.2" r="1.2" fill="#5e4a82"/>
<circle cx="481" cy="573" r="1.1" fill="#544078"/>
<circle cx="483.4" cy="572.7" r="1" fill="#544078"/>
<circle cx="486.4" cy="571.7" r="1.2" fill="#5e4a82"/>
<circle cx="488.8" cy="572.9" r="1.2" fill="#4c3a70"/>
<circle cx="490.8" cy="572.1" r="1.4" fill="#6c5a90"/>
<circle cx="492.9" cy="572.8" r="1" fill="#5e4a82"/>
<circle cx="506.3" cy="572.8" r="1" fill="#5e4a82"/>
<circle cx="412.9" cy="574.2" r="1" fill="#544078"/>
<circle cx="414.1" cy="574.3" r="1.3" fill="#6c5a90"/>
<circle cx="417" cy="574.8" r="1.3" fill="#4c3a70"/>
<circle cx="421.1" cy="574.5" r="1.4" fill="#6c5a90"/>
<circle cx="424.4" cy="574.2" r="1.1" fill="#5e4a82"/>
<circle cx="426.6" cy="575.4" r="1.3" fill="#5e4a82"/>
<circle cx="428.6" cy="575.3" r="1.3" fill="#5e4a82"/>
<circle cx="436.1" cy="574.9" r="1.2" fill="#6c5a90"/>
<circle cx="438.2" cy="574.6" r="1" fill="#5e4a82"/>
<circle cx="439.9" cy="574.3" r="1.1" fill="#544078"/>
<circle cx="448.2" cy="575.2" r="1" fill="#4c3a70"/>
<circle cx="450.6" cy="574.5" r="1.4" fill="#5e4a82"/>
<circle cx="453" cy="574.8" r="1.2" fill="#5e4a82"/>
<circle cx="454.9" cy="574.2" r="1" fill="#4c3a70"/>
<circle cx="456.8" cy="575.2" r="1.3" fill="#6c5a90"/>
<circle cx="459.8" cy="574.7" r="1.2" fill="#4c3a70"/>
<circle cx="461.7" cy="574.4" r="1.2" fill="#5e4a82"/>
<circle cx="463.3" cy="574.9" r="1.2" fill="#4c3a70"/>
<circle cx="465.7" cy="574.3" r="1.3" fill="#5e4a82"/>
<circle cx="478" cy="574.6" r="1" fill="#4c3a70"/>
<circle cx="486.8" cy="575.4" r="1.4" fill="#6c5a90"/>
<circle cx="489.7" cy="575.3" r="1.2" fill="#6c5a90"/>
<circle cx="492.4" cy="574.4" r="1" fill="#6c5a90"/>
<circle cx="493.9" cy="575.1" r="1.4" fill="#544078"/>
<circle cx="515.2" cy="574.1" r="1.2" fill="#544078"/>
<circle cx="407.5" cy="577.4" r="1.1" fill="#6c5a90"/>
<circle cx="410.5" cy="576.9" r="1.1" fill="#4c3a70"/>
<circle cx="412.7" cy="577.2" r="1" fill="#544078"/>
<circle cx="414.1" cy="576.8" r="1.4" fill="#4c3a70"/>
<circle cx="416.9" cy="576.5" r="1.4" fill="#6c5a90"/>
<circle cx="418.9" cy="577" r="1.2" fill="#4c3a70"/>
<circle cx="424.1" cy="577.6" r="1.2" fill="#4c3a70"/>
<circle cx="426.8" cy="576.4" r="1.3" fill="#6c5a90"/>
<circle cx="428.8" cy="577.4" r="1.3" fill="#6c5a90"/>
<circle cx="430.8" cy="576.6" r="1.3" fill="#5e4a82"/>
<circle cx="438.2" cy="577.1" r="1.2" fill="#4c3a70"/>
<circle cx="442.6" cy="577" r="1.1" fill="#6c5a90"/>
<circle cx="445.9" cy="577.4" r="1.2" fill="#5e4a82"/>
<circle cx="447.4" cy="576.9" r="1.2" fill="#4c3a70"/>
<circle cx="449.8" cy="577.4" r="1.2" fill="#5e4a82"/>
<circle cx="452.2" cy="577.3" r="1.3" fill="#4c3a70"/>
<circle cx="454.7" cy="576.7" r="1.3" fill="#4c3a70"/>
<circle cx="456.3" cy="577.2" r="1.1" fill="#544078"/>
<circle cx="460" cy="576.6" r="1" fill="#6c5a90"/>
<circle cx="461.5" cy="576.5" r="1.3" fill="#6c5a90"/>
<circle cx="464.7" cy="576.6" r="1.4" fill="#5e4a82"/>
<circle cx="466" cy="576.6" r="1" fill="#4c3a70"/>
<circle cx="475.3" cy="577.4" r="1" fill="#544078"/>
<circle cx="478.7" cy="576.9" r="1.2" fill="#6c5a90"/>
<circle cx="483.5" cy="576.8" r="1.1" fill="#544078"/>
<circle cx="485.4" cy="577.1" r="1.2" fill="#6c5a90"/>
<circle cx="487.2" cy="577.1" r="1.2" fill="#544078"/>
<circle cx="490.1" cy="577.8" r="1.2" fill="#5e4a82"/>
<circle cx="492.4" cy="576.6" r="1.1" fill="#4c3a70"/>
<circle cx="512.9" cy="577" r="1" fill="#544078"/>
<circle cx="407.5" cy="579.6" r="1.1" fill="#6c5a90"/>
<circle cx="410.4" cy="579.9" r="1.2" fill="#544078"/>
<circle cx="411.5" cy="579.1" r="1" fill="#5e4a82"/>
<circle cx="414.5" cy="579.6" r="1.2" fill="#4c3a70"/>
<circle cx="417" cy="579.9" r="1.1" fill="#544078"/>
<circle cx="418.9" cy="579.2" r="1.2" fill="#4c3a70"/>
<circle cx="422.2" cy="579.4" r="1.2" fill="#5e4a82"/>
<circle cx="423.3" cy="579.4" r="1.2" fill="#544078"/>
<circle cx="426.2" cy="579.7" r="1" fill="#544078"/>
<circle cx="428.7" cy="579.3" r="1" fill="#4c3a70"/>
<circle cx="431.5" cy="579" r="1.1" fill="#5e4a82"/>
<circle cx="434" cy="579.4" r="1" fill="#544078"/>
<circle cx="438.4" cy="578.9" r="1.3" fill="#544078"/>
<circle cx="440.4" cy="579.7" r="1.3" fill="#4c3a70"/>
<circle cx="443.5" cy="579.6" r="1.3" fill="#4c3a70"/>
<circle cx="445.6" cy="579.3" r="1.1" fill="#4c3a70"/>
<circle cx="448" cy="579.9" r="1.2" fill="#544078"/>
<circle cx="450.5" cy="579.8" r="1.2" fill="#6c5a90"/>
<circle cx="451.6" cy="579.1" r="1" fill="#5e4a82"/>
<circle cx="456.8" cy="578.8" r="1.2" fill="#544078"/>
<circle cx="459.6" cy="580" r="1.1" fill="#544078"/>
<circle cx="470.3" cy="579.5" r="1.1" fill="#6c5a90"/>
<circle cx="476.1" cy="579.5" r="1.2" fill="#4c3a70"/>
<circle cx="477.7" cy="579.5" r="1.4" fill="#5e4a82"/>
<circle cx="480" cy="579.1" r="1.4" fill="#544078"/>
<circle cx="483.2" cy="579.2" r="1.3" fill="#6c5a90"/>
<circle cx="485.2" cy="579.6" r="1.2" fill="#6c5a90"/>
<circle cx="490.4" cy="579.5" r="1.1" fill="#544078"/>
<circle cx="491.9" cy="579.6" r="1.4" fill="#544078"/>
<circle cx="511.2" cy="579.6" r="1.4" fill="#5e4a82"/>
<circle cx="512.9" cy="579.5" r="1" fill="#6c5a90"/>
<circle cx="407.3" cy="582" r="1.2" fill="#6c5a90"/>
<circle cx="409.6" cy="582.1" r="1.3" fill="#6c5a90"/>
<circle cx="412.2" cy="582.2" r="1.1" fill="#4c3a70"/>
<circle cx="415.1" cy="581.4" r="1.3" fill="#5e4a82"/>
<circle cx="416.5" cy="582.1" r="1" fill="#544078"/>
<circle cx="419.5" cy="581.9" r="1" fill="#6c5a90"/>
<circle cx="422.2" cy="581.5" r="1.1" fill="#4c3a70"/>
<circle cx="424.4" cy="581.6" r="1.3" fill="#6c5a90"/>
<circle cx="426.3" cy="581.9" r="1.2" fill="#4c3a70"/>
<circle cx="428.5" cy="581.3" r="1.4" fill="#6c5a90"/>
<circle cx="438.1" cy="581.4" r="1.1" fill="#5e4a82"/>
<circle cx="443.2" cy="582.1" r="1.3" fill="#6c5a90"/>
<circle cx="445.3" cy="581.5" r="1" fill="#6c5a90"/>
<circle cx="448.4" cy="582.1" r="1.2" fill="#6c5a90"/>
<circle cx="450" cy="581.8" r="1.3" fill="#5e4a82"/>
<circle cx="454.8" cy="581.1" r="1.1" fill="#6c5a90"/>
<circle cx="457.1" cy="581.1" r="1.2" fill="#4c3a70"/>
<circle cx="459.7" cy="581.6" r="1" fill="#5e4a82"/>
<circle cx="461.2" cy="581.1" r="1.3" fill="#5e4a82"/>
<circle cx="471.1" cy="582.1" r="1.3" fill="#4c3a70"/>
<circle cx="472.9" cy="582.4" r="1.4" fill="#4c3a70"/>
<circle cx="476.1" cy="581.7" r="1.2" fill="#6c5a90"/>
<circle cx="477.7" cy="582.3" r="1" fill="#544078"/>
<circle cx="480.4" cy="582.1" r="1.1" fill="#4c3a70"/>
<circle cx="483.1" cy="581.5" r="1.3" fill="#544078"/>
<circle cx="487.2" cy="581.9" r="1.1" fill="#5e4a82"/>
<circle cx="494.5" cy="582.4" r="1.3" fill="#6c5a90"/>
<circle cx="504.1" cy="582" r="1.3" fill="#4c3a70"/>
<circle cx="409.9" cy="583.8" r="1.2" fill="#5e4a82"/>
<circle cx="413.4" cy="583.7" r="1.2" fill="#6c5a90"/>
<circle cx="417.1" cy="583.9" r="1" fill="#544078"/>
<circle cx="419.7" cy="584.1" r="1.4" fill="#544078"/>
<circle cx="421.7" cy="584.8" r="1" fill="#4c3a70"/>
<circle cx="424.8" cy="583.6" r="1.2" fill="#5e4a82"/>
<circle cx="426.4" cy="584.4" r="1.2" fill="#544078"/>
<circle cx="429" cy="584.3" r="1.3" fill="#5e4a82"/>
<circle cx="433.4" cy="584.3" r="1.4" fill="#6c5a90"/>
<circle cx="438.9" cy="584.3" r="1.1" fill="#5e4a82"/>
<circle cx="441.3" cy="583.5" r="1.2" fill="#544078"/>
<circle cx="442.8" cy="584.2" r="1.3" fill="#6c5a90"/>
<circle cx="452.3" cy="583.5" r="1.3" fill="#4c3a70"/>
<circle cx="454.6" cy="583.9" r="1.2" fill="#4c3a70"/>
<circle cx="458" cy="584.1" r="1.3" fill="#5e4a82"/>
<circle cx="459.7" cy="583.8" r="1.1" fill="#5e4a82"/>
<circle cx="461.6" cy="583.7" r="1" fill="#544078"/>
<circle cx="464.1" cy="584.4" r="1.3" fill="#544078"/>
<circle cx="466.2" cy="583.9" r="1.2" fill="#6c5a90"/>
<circle cx="475.9" cy="583.5" r="1" fill="#5e4a82"/>
<circle cx="478.8" cy="583.7" r="1.3" fill="#5e4a82"/>
<circle cx="480.4" cy="584.7" r="1" fill="#544078"/>
<circle cx="488.2" cy="583.5" r="1.1" fill="#544078"/>
<circle cx="490.5" cy="584.5" r="1" fill="#4c3a70"/>
<circle cx="492.1" cy="584.2" r="1.1" fill="#6c5a90"/>
<circle cx="495.4" cy="584.7" r="1" fill="#6c5a90"/>
<circle cx="504.9" cy="583.7" r="1.3" fill="#5e4a82"/>
<circle cx="514.2" cy="584.7" r="1.2" fill="#6c5a90"/>
<circle cx="407.1" cy="586.7" r="1" fill="#544078"/>
<circle cx="421.2" cy="586.5" r="1.4" fill="#6c5a90"/>
<circle cx="427.2" cy="586.7" r="1" fill="#5e4a82"/>
<circle cx="428.3" cy="585.9" r="1.4" fill="#6c5a90"/>
<circle cx="439.9" cy="586.1" r="1.2" fill="#544078"/>
<circle cx="443.6" cy="587" r="1.1" fill="#6c5a90"/>
<circle cx="445.3" cy="586.2" r="1.2" fill="#6c5a90"/>
<circle cx="452.3" cy="586.4" r="1.3" fill="#6c5a90"/>
<circle cx="454.6" cy="586.1" r="1.3" fill="#4c3a70"/>
<circle cx="457.3" cy="585.9" r="1.2" fill="#4c3a70"/>
<circle cx="459.9" cy="586.2" r="1.3" fill="#4c3a70"/>
<circle cx="462.2" cy="586.6" r="1.1" fill="#6c5a90"/>
<circle cx="463.8" cy="586" r="1.3" fill="#5e4a82"/>
<circle cx="468.8" cy="586.9" r="1" fill="#544078"/>
<circle cx="476.2" cy="586.4" r="1.4" fill="#5e4a82"/>
<circle cx="478.5" cy="586.3" r="1.4" fill="#6c5a90"/>
<circle cx="480.6" cy="586.3" r="1.1" fill="#6c5a90"/>
<circle cx="482.3" cy="586.2" r="1.2" fill="#6c5a90"/>
<circle cx="485.3" cy="587.1" r="1.2" fill="#4c3a70"/>
<circle cx="487.6" cy="586.9" r="1.1" fill="#6c5a90"/>
<circle cx="489.8" cy="586.8" r="1.1" fill="#4c3a70"/>
<circle cx="491.8" cy="586" r="1.3" fill="#4c3a70"/>
<circle cx="495.1" cy="586.6" r="1.1" fill="#544078"/>
<circle cx="501.3" cy="586.8" r="1.1" fill="#6c5a90"/>
<circle cx="506.1" cy="586.5" r="1" fill="#544078"/>
<circle cx="514" cy="586.5" r="1" fill="#5e4a82"/>
<circle cx="515.3" cy="587.2" r="1.2" fill="#5e4a82"/>
<circle cx="407" cy="588.5" r="1.1" fill="#6c5a90"/>
<circle cx="421.5" cy="589.2" r="1.3" fill="#6c5a90"/>
<circle cx="442.1" cy="589.4" r="1.1" fill="#6c5a90"/>
<circle cx="446.9" cy="589.5" r="1.2" fill="#6c5a90"/>
<circle cx="452.4" cy="588.7" r="1.3" fill="#4c3a70"/>
<circle cx="454.3" cy="589.5" r="1.4" fill="#6c5a90"/>
<circle cx="456.4" cy="588.8" r="1.1" fill="#6c5a90"/>
<circle cx="459.3" cy="588.8" r="1.1" fill="#544078"/>
<circle cx="461.6" cy="588.7" r="1" fill="#5e4a82"/>
<circle cx="463.9" cy="589.1" r="1.4" fill="#544078"/>
<circle cx="465.8" cy="588.3" r="1.3" fill="#544078"/>
<circle cx="473.1" cy="589.4" r="1.2" fill="#4c3a70"/>
<circle cx="475.9" cy="588.9" r="1.1" fill="#4c3a70"/>
<circle cx="477.6" cy="588.8" r="1.2" fill="#5e4a82"/>
<circle cx="480.4" cy="589.4" r="1.4" fill="#4c3a70"/>
<circle cx="483.1" cy="589.1" r="1.1" fill="#544078"/>
<circle cx="487.1" cy="589.4" r="1.3" fill="#5e4a82"/>
<circle cx="489.7" cy="589.3" r="1.1" fill="#5e4a82"/>
<circle cx="503.9" cy="588.9" r="1.1" fill="#4c3a70"/>
<circle cx="505.7" cy="588.2" r="1" fill="#6c5a90"/>
<circle cx="508" cy="589.5" r="1.1" fill="#544078"/>
<circle cx="511.3" cy="588.2" r="1.2" fill="#544078"/>
<circle cx="512.7" cy="588.3" r="1.2" fill="#6c5a90"/>
<circle cx="515.7" cy="588.6" r="1.3" fill="#4c3a70"/>
<circle cx="407.5" cy="591.1" r="1.4" fill="#6c5a90"/>
<circle cx="424.6" cy="591.1" r="1.1" fill="#6c5a90"/>
<circle cx="425.9" cy="591.7" r="1.3" fill="#4c3a70"/>
<circle cx="440.9" cy="591.1" r="1.1" fill="#544078"/>
<circle cx="442.6" cy="590.6" r="1.3" fill="#5e4a82"/>
<circle cx="447.1" cy="591.2" r="1.4" fill="#4c3a70"/>
<circle cx="450.3" cy="591.2" r="1" fill="#544078"/>
<circle cx="451.8" cy="591.4" r="1.1" fill="#544078"/>
<circle cx="454.6" cy="590.8" r="1.2" fill="#5e4a82"/>
<circle cx="456.4" cy="591" r="1.2" fill="#4c3a70"/>
<circle cx="459.2" cy="590.8" r="1.3" fill="#6c5a90"/>
<circle cx="461.5" cy="591.4" r="1" fill="#6c5a90"/>
<circle cx="464" cy="591.3" r="1.1" fill="#5e4a82"/>
<circle cx="470.5" cy="590.6" r="1.1" fill="#544078"/>
<circle cx="480.3" cy="590.6" r="1.3" fill="#4c3a70"/>
<circle cx="482.7" cy="591.8" r="1" fill="#5e4a82"/>
<circle cx="490.3" cy="591.1" r="1" fill="#6c5a90"/>
<circle cx="491.6" cy="591.1" r="1" fill="#5e4a82"/>
<circle cx="496.5" cy="591.3" r="1.1" fill="#5e4a82"/>
<circle cx="501" cy="591" r="1.4" fill="#544078"/>
<circle cx="504.2" cy="591" r="1.4" fill="#544078"/>
<circle cx="505.7" cy="591.9" r="1" fill="#4c3a70"/>
<circle cx="508" cy="591.7" r="1.3" fill="#6c5a90"/>
<circle cx="515.8" cy="590.6" r="1.1" fill="#6c5a90"/>
<circle cx="426.2" cy="593.7" r="1.4" fill="#6c5a90"/>
<circle cx="438.5" cy="593.9" r="1" fill="#544078"/>
<circle cx="440" cy="593.9" r="1" fill="#6c5a90"/>
<circle cx="443" cy="593.7" r="1.2" fill="#544078"/>
<circle cx="444.8" cy="594.2" r="1.2" fill="#6c5a90"/>
<circle cx="447.7" cy="592.9" r="1.1" fill="#5e4a82"/>
<circle cx="452.3" cy="593.4" r="1.3" fill="#4c3a70"/>
<circle cx="454.9" cy="592.9" r="1.1" fill="#6c5a90"/>
<circle cx="457.4" cy="593.5" r="1" fill="#6c5a90"/>
<circle cx="459.2" cy="594" r="1.3" fill="#544078"/>
<circle cx="461.1" cy="593.6" r="1.3" fill="#544078"/>
<circle cx="463.6" cy="593.8" r="1.1" fill="#5e4a82"/>
<circle cx="466.4" cy="593.1" r="1.3" fill="#6c5a90"/>
<circle cx="477.5" cy="593.2" r="1" fill="#5e4a82"/>
<circle cx="480.3" cy="594.1" r="1.3" fill="#4c3a70"/>
<circle cx="482.2" cy="593.3" r="1" fill="#5e4a82"/>
<circle cx="484.6" cy="593.7" r="1" fill="#4c3a70"/>
<circle cx="487.1" cy="593.2" r="1.2" fill="#5e4a82"/>
<circle cx="494.2" cy="593.4" r="1.1" fill="#4c3a70"/>
<circle cx="497.5" cy="594.2" r="1.2" fill="#5e4a82"/>
<circle cx="498.8" cy="593.5" r="1.1" fill="#4c3a70"/>
<circle cx="502.2" cy="594.2" r="1" fill="#5e4a82"/>
<circle cx="506.4" cy="593.2" r="1.3" fill="#544078"/>
<circle cx="508.1" cy="593.6" r="1" fill="#4c3a70"/>
<circle cx="513.1" cy="593.1" r="1" fill="#544078"/>
<circle cx="515.3" cy="592.9" r="1" fill="#5e4a82"/>
<circle cx="429.9" cy="595.5" r="1.4" fill="#544078"/>
<circle cx="434.5" cy="596.1" r="1.1" fill="#6c5a90"/>
<circle cx="438.5" cy="596.2" r="1" fill="#4c3a70"/>
<circle cx="440.4" cy="596.5" r="1.3" fill="#6c5a90"/>
<circle cx="443.2" cy="595.5" r="1.2" fill="#6c5a90"/>
<circle cx="445.7" cy="595.8" r="1.1" fill="#4c3a70"/>
<circle cx="448.5" cy="595.4" r="1" fill="#544078"/>
<circle cx="450.9" cy="595.6" r="1" fill="#6c5a90"/>
<circle cx="453.1" cy="595.4" r="1.1" fill="#4c3a70"/>
<circle cx="455.1" cy="596.3" r="1.3" fill="#6c5a90"/>
<circle cx="457.6" cy="596.5" r="1.1" fill="#544078"/>
<circle cx="459.2" cy="595.9" r="1" fill="#4c3a70"/>
<circle cx="462.2" cy="596.1" r="1.1" fill="#6c5a90"/>
<circle cx="481.5" cy="595.6" r="1.4" fill="#4c3a70"/>
<circle cx="483.8" cy="595.3" r="1.1" fill="#5e4a82"/>
<circle cx="486.1" cy="595.6" r="1.4" fill="#4c3a70"/>
<circle cx="490.2" cy="595.7" r="1.1" fill="#544078"/>
<circle cx="493" cy="595.5" r="1.3" fill="#5e4a82"/>
<circle cx="495.4" cy="595.5" r="1.1" fill="#6c5a90"/>
<circle cx="497.3" cy="595.7" r="1.4" fill="#6c5a90"/>
<circle cx="502.3" cy="595.3" r="1" fill="#544078"/>
<circle cx="503.8" cy="595.3" r="1.2" fill="#4c3a70"/>
<circle cx="506.6" cy="596.5" r="1.2" fill="#544078"/>
<circle cx="513.3" cy="595.8" r="1.4" fill="#6c5a90"/>
<circle cx="441.5" cy="598.8" r="1.2" fill="#6c5a90"/>
<circle cx="444.3" cy="597.8" r="1.3" fill="#4c3a70"/>
<circle cx="445.6" cy="598.8" r="1.3" fill="#544078"/>
<circle cx="448.7" cy="598.3" r="1.3" fill="#6c5a90"/>
<circle cx="451" cy="597.7" r="1.1" fill="#4c3a70"/>
<circle cx="453.4" cy="598" r="1.2" fill="#5e4a82"/>
<circle cx="457.9" cy="598.3" r="1" fill="#4c3a70"/>
<circle cx="462.9" cy="597.6" r="1" fill="#5e4a82"/>
<circle cx="476" cy="598.7" r="1.1" fill="#5e4a82"/>
<circle cx="478.4" cy="597.8" r="1.2" fill="#4c3a70"/>
<circle cx="483.5" cy="597.7" r="1.4" fill="#6c5a90"/>
<circle cx="486.2" cy="598.1" r="1.2" fill="#544078"/>
<circle cx="507.6" cy="598.1" r="1.1" fill="#4c3a70"/>
<circle cx="508.9" cy="598" r="1.4" fill="#544078"/>
<circle cx="511.7" cy="598.8" r="1.1" fill="#4c3a70"/>
<circle cx="440.9" cy="599.9" r="1.3" fill="#4c3a70"/>
<circle cx="450.3" cy="600" r="1" fill="#4c3a70"/>
<circle cx="454.7" cy="600.1" r="1.3" fill="#4c3a70"/>
<circle cx="469" cy="600" r="1.3" fill="#4c3a70"/>
<circle cx="475.8" cy="600.4" r="1.1" fill="#5e4a82"/>
<circle cx="484.4" cy="599.9" r="1" fill="#4c3a70"/>
<circle cx="506.7" cy="600.4" r="1.1" fill="#5e4a82"/>
<circle cx="508.2" cy="600.8" r="1.2" fill="#5e4a82"/>
<circle cx="511.3" cy="600.1" r="1.1" fill="#6c5a90"/>
<circle cx="515" cy="600.6" r="1.2" fill="#4c3a70"/>
<circle cx="426.8" cy="602.5" r="1" fill="#5e4a82"/>
<circle cx="471" cy="603.4" r="1" fill="#6c5a90"/>
<circle cx="473.4" cy="603.1" r="1.1" fill="#4c3a70"/>
<circle cx="477.7" cy="603" r="1" fill="#4c3a70"/>
<circle cx="482.9" cy="602.3" r="1.3" fill="#5e4a82"/>
<circle cx="487.8" cy="603.2" r="1.1" fill="#544078"/>
<circle cx="489.4" cy="602.9" r="1" fill="#5e4a82"/>
<circle cx="492.8" cy="603.5" r="1" fill="#6c5a90"/>
<circle cx="507.1" cy="602.7" r="1.3" fill="#6c5a90"/>
<circle cx="508.2" cy="602.7" r="1.2" fill="#4c3a70"/>
<circle cx="513.6" cy="602.4" r="1.2" fill="#5e4a82"/>
<circle cx="515.3" cy="602.4" r="1.2" fill="#4c3a70"/>
<circle cx="471.7" cy="605" r="1.1" fill="#544078"/>
<circle cx="472.9" cy="605.7" r="1.1" fill="#6c5a90"/>
<circle cx="476.3" cy="606" r="1.4" fill="#4c3a70"/>
<circle cx="478.3" cy="605.8" r="1.3" fill="#5e4a82"/>
<circle cx="482.4" cy="605.2" r="1" fill="#4c3a70"/>
<circle cx="487.6" cy="605.4" r="1.3" fill="#4c3a70"/>
<circle cx="491.7" cy="605.1" r="1.1" fill="#4c3a70"/>
<circle cx="494.8" cy="604.7" r="1" fill="#6c5a90"/>
<circle cx="499.4" cy="605.8" r="1.4" fill="#544078"/>
<circle cx="502.1" cy="605.9" r="1.3" fill="#4c3a70"/>
<circle cx="503.8" cy="605.5" r="1" fill="#5e4a82"/>
<circle cx="505.9" cy="605.9" r="1" fill="#5e4a82"/>
<circle cx="509.1" cy="605.4" r="1.1" fill="#544078"/>
<circle cx="512.7" cy="605.9" r="1.1" fill="#4c3a70"/>
<circle cx="515.3" cy="604.7" r="1.3" fill="#6c5a90"/>
<circle cx="431.1" cy="607.9" r="1.4" fill="#6c5a90"/>
<circle cx="433.9" cy="608.2" r="1" fill="#5e4a82"/>
<circle cx="435.9" cy="607.8" r="1.4" fill="#4c3a70"/>
<circle cx="438.7" cy="607.8" r="1.1" fill="#544078"/>
<circle cx="440.8" cy="608" r="1.2" fill="#544078"/>
<circle cx="443.6" cy="607.3" r="1" fill="#6c5a90"/>
<circle cx="446.4" cy="608.3" r="1" fill="#6c5a90"/>
<circle cx="447.8" cy="607.6" r="1.3" fill="#6c5a90"/>
<circle cx="449.9" cy="607.9" r="1" fill="#5e4a82"/>
<circle cx="464.9" cy="607.3" r="1.4" fill="#6c5a90"/>
<circle cx="471.9" cy="608.3" r="1.2" fill="#6c5a90"/>
<circle cx="473.4" cy="607.4" r="1.3" fill="#544078"/>
<circle cx="475.8" cy="608.2" r="1.1" fill="#544078"/>
<circle cx="478.6" cy="607.7" r="1" fill="#5e4a82"/>
<circle cx="481" cy="608.1" r="1.2" fill="#5e4a82"/>
<circle cx="483.8" cy="607.5" r="1.2" fill="#544078"/>
<circle cx="485.3" cy="607.5" r="1.1" fill="#4c3a70"/>
<circle cx="487.7" cy="608.1" r="1.3" fill="#4c3a70"/>
<circle cx="490.2" cy="607.1" r="1.1" fill="#4c3a70"/>
<circle cx="493.2" cy="607.6" r="1.1" fill="#5e4a82"/>
<circle cx="499.3" cy="608.3" r="1.3" fill="#544078"/>
<circle cx="504.4" cy="607" r="1.4" fill="#4c3a70"/>
<circle cx="511.5" cy="608.3" r="1.2" fill="#5e4a82"/>
<circle cx="513.9" cy="607.5" r="1" fill="#4c3a70"/>
<circle cx="408.5" cy="610.5" r="1" fill="#544078"/>
<circle cx="417.7" cy="610.6" r="1" fill="#5e4a82"/>
<circle cx="420.2" cy="609.8" r="1" fill="#544078"/>
<circle cx="421.4" cy="609.4" r="1.3" fill="#4c3a70"/>
<circle cx="423.7" cy="610.6" r="1.1" fill="#544078"/>
<circle cx="430.7" cy="609.8" r="1.2" fill="#544078"/>
<circle cx="433.8" cy="609.9" r="1.1" fill="#544078"/>
<circle cx="435.9" cy="609.9" r="1.4" fill="#4c3a70"/>
<circle cx="438.6" cy="610.6" r="1.1" fill="#6c5a90"/>
<circle cx="440.7" cy="610.2" r="1.2" fill="#544078"/>
<circle cx="442.9" cy="609.4" r="1.2" fill="#4c3a70"/>
<circle cx="444.9" cy="609.6" r="1.1" fill="#5e4a82"/>
<circle cx="447.6" cy="609.7" r="1.3" fill="#5e4a82"/>
<circle cx="455.1" cy="610.7" r="1.4" fill="#5e4a82"/>
<circle cx="459.3" cy="610.7" r="1.3" fill="#5e4a82"/>
<circle cx="473.4" cy="609.5" r="1.4" fill="#544078"/>
<circle cx="475.3" cy="609.4" r="1.1" fill="#5e4a82"/>
<circle cx="478" cy="610.5" r="1.4" fill="#5e4a82"/>
<circle cx="480.5" cy="610.4" r="1.2" fill="#544078"/>
<circle cx="483" cy="609.8" r="1.3" fill="#6c5a90"/>
<circle cx="485.9" cy="609.5" r="1.3" fill="#544078"/>
<circle cx="489.8" cy="609.8" r="1.1" fill="#6c5a90"/>
<circle cx="492.1" cy="609.4" r="1.3" fill="#544078"/>
<circle cx="497.6" cy="609.6" r="1.2" fill="#6c5a90"/>
<circle cx="501.5" cy="610.2" r="1.3" fill="#544078"/>
<circle cx="503.6" cy="609.6" r="1" fill="#5e4a82"/>
<circle cx="509.5" cy="609.4" r="1.1" fill="#4c3a70"/>
<circle cx="511.3" cy="609.9" r="1.3" fill="#5e4a82"/>
<circle cx="410.8" cy="612.8" r="1.2" fill="#5e4a82"/>
<circle cx="413.3" cy="612.6" r="1.1" fill="#5e4a82"/>
<circle cx="415.2" cy="612.4" r="1.4" fill="#544078"/>
<circle cx="417.2" cy="612.1" r="1" fill="#6c5a90"/>
<circle cx="419.5" cy="612.7" r="1.2" fill="#5e4a82"/>
<circle cx="422.7" cy="612" r="1.4" fill="#6c5a90"/>
<circle cx="430" cy="613" r="1.1" fill="#5e4a82"/>
<circle cx="436.8" cy="612.3" r="1.3" fill="#6c5a90"/>
<circle cx="438.5" cy="611.7" r="1.2" fill="#6c5a90"/>
<circle cx="440.5" cy="611.7" r="1.1" fill="#544078"/>
<circle cx="450.2" cy="612" r="1.4" fill="#5e4a82"/>
<circle cx="462.6" cy="611.9" r="1.1" fill="#4c3a70"/>
<circle cx="471.1" cy="612.4" r="1.2" fill="#4c3a70"/>
<circle cx="476.2" cy="612.3" r="1" fill="#6c5a90"/>
<circle cx="478" cy="612.2" r="1" fill="#544078"/>
<circle cx="481.1" cy="612.4" r="1" fill="#4c3a70"/>
<circle cx="483.9" cy="612.8" r="1.1" fill="#4c3a70"/>
<circle cx="486.3" cy="611.9" r="1" fill="#4c3a70"/>
<circle cx="490.7" cy="612.3" r="1.2" fill="#544078"/>
<circle cx="504.7" cy="611.8" r="1.4" fill="#544078"/>
<circle cx="506.7" cy="612" r="1.1" fill="#544078"/>
<circle cx="509.9" cy="611.7" r="1.4" fill="#4c3a70"/>
<circle cx="407.4" cy="614.8" r="1.2" fill="#4c3a70"/>
<circle cx="417.7" cy="614.9" r="1.4" fill="#4c3a70"/>
<circle cx="419.3" cy="615.1" r="1.2" fill="#544078"/>
<circle cx="422" cy="614.1" r="1.1" fill="#4c3a70"/>
<circle cx="427.1" cy="614.4" r="1.2" fill="#544078"/>
<circle cx="442.4" cy="614.6" r="1.3" fill="#6c5a90"/>
<circle cx="469.3" cy="615" r="1.3" fill="#5e4a82"/>
<circle cx="470.4" cy="614.9" r="1.1" fill="#544078"/>
<circle cx="473.7" cy="615.4" r="1.1" fill="#4c3a70"/>
<circle cx="480.5" cy="614.3" r="1.2" fill="#4c3a70"/>
<circle cx="483.4" cy="614.2" r="1.1" fill="#4c3a70"/>
<circle cx="485.9" cy="614.7" r="1.1" fill="#5e4a82"/>
<circle cx="487.5" cy="615.2" r="1.1" fill="#4c3a70"/>
<circle cx="489.8" cy="614.6" r="1.2" fill="#4c3a70"/>
<circle cx="492.3" cy="614" r="1" fill="#5e4a82"/>
<circle cx="508.8" cy="615.1" r="1.2" fill="#544078"/>
<circle cx="510.8" cy="615" r="1.1" fill="#6c5a90"/>
<circle cx="513.8" cy="614.2" r="1" fill="#4c3a70"/>
<circle cx="515.3" cy="614.8" r="1.3" fill="#5e4a82"/>
<circle cx="408.8" cy="616.6" r="1.4" fill="#544078"/>
<circle cx="410.7" cy="617" r="1.1" fill="#5e4a82"/>
<circle cx="415.9" cy="616.8" r="1" fill="#5e4a82"/>
<circle cx="417.3" cy="617" r="1.2" fill="#4c3a70"/>
<circle cx="420.2" cy="616.3" r="1.1" fill="#544078"/>
<circle cx="422.3" cy="617.1" r="1" fill="#5e4a82"/>
<circle cx="424.9" cy="616.6" r="1.3" fill="#5e4a82"/>
<circle cx="436" cy="616.8" r="1.3" fill="#544078"/>
<circle cx="446.4" cy="617.5" r="1.1" fill="#5e4a82"/>
<circle cx="448.7" cy="617.1" r="1.2" fill="#4c3a70"/>
<circle cx="450.1" cy="617.1" r="1.1" fill="#6c5a90"/>
<circle cx="464.2" cy="617" r="1.3" fill="#544078"/>
<circle cx="470.1" cy="616.6" r="1.1" fill="#6c5a90"/>
<circle cx="473.4" cy="617.6" r="1.3" fill="#544078"/>
<circle cx="476.8" cy="617" r="1.1" fill="#544078"/>
<circle cx="481.3" cy="616.9" r="1.1" fill="#544078"/>
<circle cx="483.4" cy="616.7" r="1.2" fill="#544078"/>
<circle cx="486" cy="616.5" r="1.3" fill="#4c3a70"/>
<circle cx="488.2" cy="617.7" r="1.3" fill="#4c3a70"/>
<circle cx="507.1" cy="616.5" r="1" fill="#4c3a70"/>
<circle cx="509.4" cy="616.7" r="1.2" fill="#5e4a82"/>
<circle cx="512.1" cy="617.3" r="1.3" fill="#6c5a90"/>
<circle cx="514.4" cy="617.5" r="1.1" fill="#6c5a90"/>
<circle cx="407.5" cy="619.4" r="1.1" fill="#5e4a82"/>
<circle cx="410" cy="620" r="1.1" fill="#5e4a82"/>
<circle cx="411.5" cy="618.8" r="1.3" fill="#544078"/>
<circle cx="413.8" cy="618.8" r="1.2" fill="#4c3a70"/>
<circle cx="416.6" cy="618.9" r="1.1" fill="#6c5a90"/>
<circle cx="419.5" cy="619.6" r="1.2" fill="#544078"/>
<circle cx="421.7" cy="619.6" r="1" fill="#4c3a70"/>
<circle cx="424.5" cy="619.4" r="1.2" fill="#4c3a70"/>
<circle cx="428.7" cy="619.2" r="1.1" fill="#4c3a70"/>
<circle cx="433.9" cy="620" r="1.2" fill="#4c3a70"/>
<circle cx="438.1" cy="619.5" r="1.1" fill="#4c3a70"/>
<circle cx="444.8" cy="619.8" r="1.1" fill="#4c3a70"/>
<circle cx="448.1" cy="619.5" r="1.4" fill="#4c3a70"/>
<circle cx="449.2" cy="619.8" r="1.2" fill="#5e4a82"/>
<circle cx="454.6" cy="619.3" r="1.1" fill="#544078"/>
<circle cx="456.6" cy="619.8" r="1.2" fill="#544078"/>
<circle cx="459.7" cy="619.2" r="1.4" fill="#6c5a90"/>
<circle cx="461.5" cy="619.7" r="1.2" fill="#4c3a70"/>
<circle cx="464.3" cy="619.3" r="1.1" fill="#4c3a70"/>
<circle cx="466.5" cy="619.5" r="1" fill="#4c3a70"/>
<circle cx="467.9" cy="618.9" r="1.4" fill="#544078"/>
<circle cx="471" cy="620.1" r="1" fill="#4c3a70"/>
<circle cx="473.8" cy="619.2" r="1.4" fill="#4c3a70"/>
<circle cx="475.5" cy="620" r="1.3" fill="#4c3a70"/>
<circle cx="477.6" cy="619.2" r="1.2" fill="#5e4a82"/>
<circle cx="481" cy="619.2" r="1.3" fill="#4c3a70"/>
<circle cx="482.5" cy="620" r="1" fill="#5e4a82"/>
<circle cx="487.2" cy="619.2" r="1" fill="#544078"/>
<circle cx="501" cy="618.8" r="1.2" fill="#6c5a90"/>
<circle cx="508.7" cy="620" r="1" fill="#4c3a70"/>
<circle cx="511" cy="619.9" r="1.3" fill="#4c3a70"/>
<circle cx="513.4" cy="619.3" r="1.2" fill="#5e4a82"/>
<circle cx="515.8" cy="619.6" r="1.3" fill="#5e4a82"/>
<circle cx="408.5" cy="621.8" r="1.3" fill="#6c5a90"/>
<circle cx="410.7" cy="622.4" r="1.2" fill="#5e4a82"/>
<circle cx="413.3" cy="621.2" r="1" fill="#544078"/>
<circle cx="414.8" cy="621.7" r="1.1" fill="#4c3a70"/>
<circle cx="417.6" cy="621.7" r="1" fill="#4c3a70"/>
<circle cx="419.3" cy="621.6" r="1.1" fill="#6c5a90"/>
<circle cx="422" cy="622.2" r="1" fill="#4c3a70"/>
<circle cx="424.4" cy="622.2" r="1" fill="#6c5a90"/>
<circle cx="427.4" cy="621.7" r="1" fill="#5e4a82"/>
<circle cx="431.9" cy="621.9" r="1.3" fill="#4c3a70"/>
<circle cx="433.7" cy="622.2" r="1" fill="#6c5a90"/>
<circle cx="436.6" cy="621.4" r="1" fill="#5e4a82"/>
<circle cx="438.5" cy="621.4" r="1" fill="#544078"/>
<circle cx="440.2" cy="621.8" r="1.4" fill="#5e4a82"/>
<circle cx="443.8" cy="621.5" r="1.3" fill="#6c5a90"/>
<circle cx="444.9" cy="621.6" r="1.2" fill="#4c3a70"/>
<circle cx="447.8" cy="621.8" r="1.3" fill="#4c3a70"/>
<circle cx="450.2" cy="621.5" r="1.4" fill="#6c5a90"/>
<circle cx="452.3" cy="621.6" r="1" fill="#544078"/>
<circle cx="455" cy="621.9" r="1.4" fill="#6c5a90"/>
<circle cx="457.5" cy="622.3" r="1" fill="#544078"/>
<circle cx="460.1" cy="621.4" r="1.1" fill="#544078"/>
<circle cx="462.4" cy="621.4" r="1.4" fill="#6c5a90"/>
<circle cx="463.8" cy="621.7" r="1" fill="#544078"/>
<circle cx="469.2" cy="622.4" r="1.3" fill="#4c3a70"/>
<circle cx="471.7" cy="621.2" r="1.2" fill="#5e4a82"/>
<circle cx="473.7" cy="621.8" r="1.4" fill="#6c5a90"/>
<circle cx="475.7" cy="622.1" r="1.3" fill="#544078"/>
<circle cx="478" cy="622.1" r="1" fill="#5e4a82"/>
<circle cx="480.2" cy="621.3" r="1" fill="#544078"/>
<circle cx="483.3" cy="622.4" r="1.3" fill="#4c3a70"/>
<circle cx="485.4" cy="621.4" r="1.3" fill="#6c5a90"/>
<circle cx="488.2" cy="621.9" r="1.4" fill="#4c3a70"/>
<circle cx="509" cy="621.5" r="1.3" fill="#6c5a90"/>
<circle cx="510.9" cy="621.9" r="1.4" fill="#6c5a90"/>
<circle cx="513.7" cy="621.5" r="1.1" fill="#6c5a90"/>
<circle cx="407.1" cy="623.6" r="1.1" fill="#5e4a82"/>
<circle cx="409.8" cy="624.3" r="1.4" fill="#4c3a70"/>
<circle cx="411.8" cy="624" r="1.1" fill="#6c5a90"/>
<circle cx="414.6" cy="623.9" r="1.2" fill="#4c3a70"/>
<circle cx="417.3" cy="623.4" r="1" fill="#5e4a82"/>
<circle cx="419.5" cy="623.9" r="1.1" fill="#6c5a90"/>
<circle cx="422.2" cy="623.7" r="1" fill="#6c5a90"/>
<circle cx="424.1" cy="623.9" r="1.3" fill="#5e4a82"/>
<circle cx="425.9" cy="624.4" r="1.2" fill="#6c5a90"/>
<circle cx="428" cy="623.9" r="1.1" fill="#544078"/>
<circle cx="430.9" cy="623.6" r="1.2" fill="#4c3a70"/>
<circle cx="433.7" cy="624.7" r="1" fill="#4c3a70"/>
<circle cx="438.3" cy="624.5" r="1.4" fill="#6c5a90"/>
<circle cx="445.4" cy="624.4" r="1.1" fill="#6c5a90"/>
<circle cx="447.1" cy="624.7" r="1" fill="#544078"/>
<circle cx="450.4" cy="623.7" r="1.4" fill="#6c5a90"/>
<circle cx="451.6" cy="623.4" r="1.2" fill="#4c3a70"/>
<circle cx="454.9" cy="623.6" r="1.1" fill="#6c5a90"/>
<circle cx="457.5" cy="624.6" r="1.1" fill="#5e4a82"/>
<circle cx="460.9" cy="624" r="1.4" fill="#544078"/>
<circle cx="463.3" cy="623.5" r="1.3" fill="#4c3a70"/>
<circle cx="466.6" cy="623.6" r="1.3" fill="#6c5a90"/>
<circle cx="468.1" cy="624" r="1.1" fill="#4c3a70"/>
<circle cx="471.6" cy="624.4" r="1.2" fill="#544078"/>
<circle cx="472.9" cy="624.3" r="1.4" fill="#5e4a82"/>
<circle cx="475.2" cy="623.6" r="1.2" fill="#4c3a70"/>
<circle cx="478.4" cy="623.4" r="1.1" fill="#5e4a82"/>
<circle cx="485.3" cy="623.5" r="1.2" fill="#544078"/>
<circle cx="508.6" cy="623.7" r="1.1" fill="#544078"/>
<circle cx="510.4" cy="624.4" r="1.1" fill="#5e4a82"/>
<circle cx="512.6" cy="624.7" r="1.1" fill="#4c3a70"/>
<circle cx="409.3" cy="626.8" r="1.1" fill="#5e4a82"/>
<circle cx="411.7" cy="625.9" r="1.2" fill="#6c5a90"/>
<circle cx="414.8" cy="626.7" r="1.1" fill="#5e4a82"/>
<circle cx="416.9" cy="627" r="1.2" fill="#5e4a82"/>
<circle cx="418.8" cy="625.9" r="1" fill="#5e4a82"/>
<circle cx="421.7" cy="627" r="1.3" fill="#544078"/>
<circle cx="426.4" cy="626.6" r="1.2" fill="#4c3a70"/>
<circle cx="433.5" cy="625.8" r="1.3" fill="#544078"/>
<circle cx="436.1" cy="626.6" r="1.1" fill="#5e4a82"/>
<circle cx="438.4" cy="626.5" r="1.4" fill="#6c5a90"/>
<circle cx="440.9" cy="625.9" r="1" fill="#544078"/>
<circle cx="443.4" cy="626.5" r="1" fill="#5e4a82"/>
<circle cx="445.5" cy="626.4" r="1" fill="#6c5a90"/>
<circle cx="447.2" cy="626.8" r="1.4" fill="#4c3a70"/>
<circle cx="450.3" cy="626.2" r="1.1" fill="#5e4a82"/>
<circle cx="452.9" cy="626.3" r="1" fill="#544078"/>
<circle cx="454.5" cy="626.5" r="1.3" fill="#5e4a82"/>
<circle cx="457" cy="626.4" r="1.1" fill="#4c3a70"/>
<circle cx="458.6" cy="626.4" r="1.2" fill="#544078"/>
<circle cx="461.5" cy="625.9" r="1.2" fill="#544078"/>
<circle cx="463.5" cy="627.1" r="1.4" fill="#544078"/>
<circle cx="466.4" cy="626.2" r="1.3" fill="#6c5a90"/>
<circle cx="468.5" cy="625.8" r="1" fill="#544078"/>
<circle cx="471.4" cy="626.3" r="1.1" fill="#6c5a90"/>
<circle cx="473.5" cy="626.9" r="1.2" fill="#4c3a70"/>
<circle cx="475.5" cy="625.9" r="1.1" fill="#5e4a82"/>
<circle cx="477.7" cy="625.9" r="1.4" fill="#6c5a90"/>
<circle cx="482.7" cy="626.4" r="1.1" fill="#6c5a90"/>
<circle cx="484.4" cy="626.6" r="1" fill="#4c3a70"/>
<circle cx="513.1" cy="625.8" r="1.1" fill="#5e4a82"/>
<circle cx="515.4" cy="627.1" r="1.3" fill="#4c3a70"/>
<circle cx="411.8" cy="629.2" r="1.1" fill="#6c5a90"/>
<circle cx="414.3" cy="628.7" r="1" fill="#5e4a82"/>
<circle cx="416.6" cy="628.9" r="1.4" fill="#6c5a90"/>
<circle cx="419.6" cy="628.5" r="1" fill="#544078"/>
<circle cx="421.5" cy="628.9" r="1.4" fill="#6c5a90"/>
<circle cx="423.6" cy="629.1" r="1.3" fill="#5e4a82"/>
<circle cx="426.7" cy="629.3" r="1.4" fill="#4c3a70"/>
<circle cx="429.3" cy="628.4" r="1.3" fill="#6c5a90"/>
<circle cx="433.2" cy="629.1" r="1.2" fill="#5e4a82"/>
<circle cx="438.5" cy="628.2" r="1.1" fill="#6c5a90"/>
<circle cx="448.3" cy="629.2" r="1" fill="#544078"/>
<circle cx="449.8" cy="629.4" r="1.3" fill="#5e4a82"/>
<circle cx="451.9" cy="628.9" r="1" fill="#544078"/>
<circle cx="455.5" cy="628.6" r="1.1" fill="#4c3a70"/>
<circle cx="459" cy="629.2" r="1.1" fill="#5e4a82"/>
<circle cx="464" cy="628.1" r="1" fill="#544078"/>
<circle cx="466.1" cy="628.5" r="1.3" fill="#5e4a82"/>
<circle cx="468.4" cy="629" r="1.3" fill="#4c3a70"/>
<circle cx="470.8" cy="628.6" r="1.2" fill="#4c3a70"/>
<circle cx="473.7" cy="629.2" r="1.2" fill="#5e4a82"/>
<circle cx="476.1" cy="628.8" r="1.2" fill="#5e4a82"/>
<circle cx="477.8" cy="629.2" r="1.1" fill="#5e4a82"/>
<circle cx="480" cy="628.5" r="1.1" fill="#544078"/>
<circle cx="482.9" cy="629.5" r="1.3" fill="#6c5a90"/>
<circle cx="485.8" cy="628.8" r="1.1" fill="#5e4a82"/>
<circle cx="487.3" cy="628.2" r="1.2" fill="#6c5a90"/>
<circle cx="515.7" cy="629" r="1.2" fill="#5e4a82"/>
<circle cx="412.2" cy="631.4" r="1.3" fill="#6c5a90"/>
<circle cx="415.5" cy="630.5" r="1.3" fill="#5e4a82"/>
<circle cx="417" cy="630.9" r="1.3" fill="#6c5a90"/>
<circle cx="420" cy="630.6" r="1.1" fill="#4c3a70"/>
<circle cx="421.8" cy="631.5" r="1" fill="#4c3a70"/>
<circle cx="425.1" cy="630.6" r="1.3" fill="#5e4a82"/>
<circle cx="435.9" cy="631.8" r="1.4" fill="#5e4a82"/>
<circle cx="445.8" cy="630.6" r="1" fill="#544078"/>
<circle cx="448.7" cy="631.7" r="1.1" fill="#6c5a90"/>
<circle cx="450.1" cy="631.2" r="1.3" fill="#4c3a70"/>
<circle cx="453.3" cy="630.9" r="1.2" fill="#4c3a70"/>
<circle cx="455.3" cy="630.4" r="1.4" fill="#544078"/>
<circle cx="466.8" cy="631.2" r="1.1" fill="#5e4a82"/>
<circle cx="469.3" cy="631.4" r="1" fill="#4c3a70"/>
<circle cx="471.4" cy="630.9" r="1.2" fill="#6c5a90"/>
<circle cx="475.9" cy="631.3" r="1.2" fill="#4c3a70"/>
<circle cx="478" cy="630.7" r="1" fill="#5e4a82"/>
<circle cx="480.9" cy="630.7" r="1.4" fill="#6c5a90"/>
<circle cx="484" cy="630.7" r="1" fill="#6c5a90"/>
<circle cx="485.7" cy="631.8" r="1" fill="#5e4a82"/>
<circle cx="507.2" cy="631.2" r="1.4" fill="#544078"/>
<circle cx="509.5" cy="630.7" r="1.1" fill="#6c5a90"/>
<circle cx="511.5" cy="631.2" r="1.3" fill="#544078"/>
<circle cx="513.3" cy="630.8" r="1.4" fill="#6c5a90"/>
<circle cx="407.3" cy="633.6" r="1.1" fill="#4c3a70"/>
<circle cx="416.9" cy="632.9" r="1.3" fill="#6c5a90"/>
<circle cx="420.1" cy="634.2" r="1.1" fill="#544078"/>
<circle cx="422.2" cy="633.6" r="1.1" fill="#544078"/>
<circle cx="424.7" cy="633.9" r="1.1" fill="#6c5a90"/>
<circle cx="438.8" cy="633.6" r="1.1" fill="#544078"/>
<circle cx="444.9" cy="633.8" r="1.4" fill="#544078"/>
<circle cx="448" cy="633.6" r="1.2" fill="#6c5a90"/>
<circle cx="449.7" cy="633.9" r="1.2" fill="#5e4a82"/>
<circle cx="452.6" cy="633.1" r="1.3" fill="#544078"/>
<circle cx="454.7" cy="634.1" r="1.3" fill="#6c5a90"/>
<circle cx="459" cy="634" r="1.3" fill="#4c3a70"/>
<circle cx="462.6" cy="632.8" r="1.3" fill="#6c5a90"/>
<circle cx="467.2" cy="634.1" r="1.3" fill="#4c3a70"/>
<circle cx="469.3" cy="632.8" r="1.2" fill="#6c5a90"/>
<circle cx="471.1" cy="633.8" r="1.2" fill="#4c3a70"/>
<circle cx="474.3" cy="634.1" r="1.1" fill="#4c3a70"/>
<circle cx="478.7" cy="633.9" r="1.2" fill="#6c5a90"/>
<circle cx="480" cy="633.9" r="1.3" fill="#5e4a82"/>
<circle cx="485.5" cy="633.2" r="1.1" fill="#6c5a90"/>
<circle cx="507.1" cy="633.6" r="1.3" fill="#5e4a82"/>
<circle cx="508.8" cy="634" r="1.2" fill="#544078"/>
<circle cx="510.8" cy="633.6" r="1.4" fill="#544078"/>
<circle cx="408.4" cy="636.2" r="1" fill="#5e4a82"/>
<circle cx="410.2" cy="635.6" r="1.1" fill="#5e4a82"/>
<circle cx="439.2" cy="636.5" r="1.1" fill="#6c5a90"/>
<circle cx="445.4" cy="635.2" r="1" fill="#4c3a70"/>
<circle cx="447.9" cy="635.8" r="1" fill="#544078"/>
<circle cx="449.9" cy="635.9" r="1.1" fill="#5e4a82"/>
<circle cx="453.5" cy="635.9" r="1.2" fill="#5e4a82"/>
<circle cx="455.7" cy="636.1" r="1" fill="#5e4a82"/>
<circle cx="458" cy="636.1" r="1" fill="#5e4a82"/>
<circle cx="459.2" cy="635.2" r="1.1" fill="#5e4a82"/>
<circle cx="462.2" cy="635.9" r="1.2" fill="#544078"/>
<circle cx="464.7" cy="636" r="1.3" fill="#4c3a70"/>
<circle cx="467.4" cy="636.3" r="1" fill="#5e4a82"/>
<circle cx="468.6" cy="636.2" r="1.2" fill="#5e4a82"/>
<circle cx="472.2" cy="635.7" r="1.3" fill="#544078"/>
<circle cx="477" cy="636" r="1.1" fill="#4c3a70"/>
<circle cx="477.9" cy="636.4" r="1.2" fill="#4c3a70"/>
<circle cx="481.4" cy="635.9" r="1" fill="#6c5a90"/>
<circle cx="485.7" cy="635.9" r="1.3" fill="#544078"/>
<circle cx="508.7" cy="636" r="1.2" fill="#544078"/>
<circle cx="511.5" cy="635.3" r="1.2" fill="#4c3a70"/>
<circle cx="514.5" cy="635.4" r="1.2" fill="#4c3a70"/>
<circle cx="408.5" cy="638.4" r="1.1" fill="#5e4a82"/>
<circle cx="410" cy="638.2" r="1.1" fill="#4c3a70"/>
<circle cx="414.9" cy="638.4" r="1.2" fill="#6c5a90"/>
<circle cx="424.4" cy="637.7" r="1.1" fill="#5e4a82"/>
<circle cx="438.9" cy="638.8" r="1.4" fill="#6c5a90"/>
<circle cx="443.2" cy="637.7" r="1" fill="#5e4a82"/>
<circle cx="445.1" cy="638.5" r="1" fill="#5e4a82"/>
<circle cx="448.5" cy="637.8" r="1.2" fill="#5e4a82"/>
<circle cx="450" cy="638.4" r="1.1" fill="#6c5a90"/>
<circle cx="452.8" cy="638.7" r="1.4" fill="#544078"/>
<circle cx="454.5" cy="637.7" r="1.1" fill="#4c3a70"/>
<circle cx="457" cy="638.9" r="1" fill="#4c3a70"/>
<circle cx="461.6" cy="637.9" r="1.3" fill="#6c5a90"/>
<circle cx="466.7" cy="637.6" r="1.1" fill="#6c5a90"/>
<circle cx="469.4" cy="637.9" r="1.1" fill="#4c3a70"/>
<circle cx="473.9" cy="638" r="1.1" fill="#5e4a82"/>
<circle cx="481.1" cy="638.6" r="1" fill="#544078"/>
<circle cx="483.7" cy="638" r="1.2" fill="#5e4a82"/>
<circle cx="485.1" cy="637.6" r="1" fill="#4c3a70"/>
<circle cx="507.4" cy="637.7" r="1.1" fill="#544078"/>
<circle cx="508.6" cy="638.3" r="1.3" fill="#4c3a70"/>
<circle cx="408.4" cy="641.2" r="1.2" fill="#6c5a90"/>
<circle cx="410.4" cy="641.2" r="1.1" fill="#5e4a82"/>
<circle cx="415" cy="640.3" r="1.3" fill="#544078"/>
<circle cx="420" cy="639.9" r="1.3" fill="#6c5a90"/>
<circle cx="422.5" cy="640.7" r="1.4" fill="#6c5a90"/>
<circle cx="434" cy="640.9" r="1" fill="#4c3a70"/>
<circle cx="437" cy="640.5" r="1.4" fill="#5e4a82"/>
<circle cx="439.1" cy="640.8" r="1.4" fill="#5e4a82"/>
<circle cx="441.7" cy="640.9" r="1.2" fill="#5e4a82"/>
<circle cx="446.2" cy="640" r="1.3" fill="#544078"/>
<circle cx="448.3" cy="640.9" r="1.1" fill="#6c5a90"/>
<circle cx="451.2" cy="640" r="1.4" fill="#4c3a70"/>
<circle cx="453.2" cy="641" r="1.1" fill="#544078"/>
<circle cx="455.3" cy="639.8" r="1.2" fill="#5e4a82"/>
<circle cx="458.1" cy="641" r="1" fill="#4c3a70"/>
<circle cx="468.6" cy="640.2" r="1" fill="#5e4a82"/>
<circle cx="472.3" cy="640.5" r="1.2" fill="#6c5a90"/>
<circle cx="473.9" cy="640.5" r="1.1" fill="#544078"/>
<circle cx="483.9" cy="640.2" r="1.2" fill="#544078"/>
<circle cx="487.5" cy="640.8" r="1.2" fill="#5e4a82"/>
<circle cx="490.3" cy="640.8" r="1.3" fill="#5e4a82"/>
<circle cx="492.9" cy="640.8" r="1.2" fill="#6c5a90"/>
<circle cx="494.9" cy="640.1" r="1" fill="#5e4a82"/>
<circle cx="499.3" cy="641" r="1" fill="#4c3a70"/>
<circle cx="502.2" cy="640.4" r="1.2" fill="#6c5a90"/>
<circle cx="503.9" cy="641.1" r="1.4" fill="#5e4a82"/>
<circle cx="507" cy="641.1" r="1.3" fill="#5e4a82"/>
<circle cx="509.5" cy="640.8" r="1.4" fill="#4c3a70"/>
<circle cx="410.5" cy="642.9" r="1.2" fill="#544078"/>
<circle cx="419.1" cy="642.8" r="1" fill="#5e4a82"/>
<circle cx="421.4" cy="643.2" r="1.4" fill="#5e4a82"/>
<circle cx="423.7" cy="643.3" r="1" fill="#5e4a82"/>
<circle cx="427" cy="643" r="1.2" fill="#5e4a82"/>
<circle cx="434.3" cy="643" r="1.3" fill="#5e4a82"/>
<circle cx="447.4" cy="642.3" r="1" fill="#4c3a70"/>
<circle cx="454.8" cy="642.2" r="1.3" fill="#544078"/>
<circle cx="457.9" cy="643.6" r="1.3" fill="#4c3a70"/>
<circle cx="466.6" cy="643.3" r="1.3" fill="#4c3a70"/>
<circle cx="471.5" cy="643.5" r="1.4" fill="#544078"/>
<circle cx="474.1" cy="643.2" r="1.3" fill="#4c3a70"/>
<circle cx="482.6" cy="643.1" r="1.3" fill="#5e4a82"/>
<circle cx="485.1" cy="643.6" r="1.1" fill="#4c3a70"/>
<circle cx="488.4" cy="642.6" r="1.2" fill="#4c3a70"/>
<circle cx="494.4" cy="642.6" r="1.2" fill="#544078"/>
<circle cx="497.5" cy="643.2" r="1.3" fill="#6c5a90"/>
<circle cx="502.3" cy="642.8" r="1.3" fill="#6c5a90"/>
<circle cx="503.9" cy="642.6" r="1" fill="#4c3a70"/>
<circle cx="506.2" cy="642.5" r="1.3" fill="#4c3a70"/>
<circle cx="509.3" cy="642.4" r="1.3" fill="#544078"/>
<circle cx="511.8" cy="643" r="1.2" fill="#6c5a90"/>
<circle cx="408.1" cy="644.9" r="1.1" fill="#544078"/>
<circle cx="409.8" cy="645" r="1" fill="#6c5a90"/>
<circle cx="413" cy="644.8" r="1.4" fill="#4c3a70"/>
<circle cx="419.4" cy="645.7" r="1.4" fill="#544078"/>
<circle cx="423.5" cy="645.7" r="1.2" fill="#6c5a90"/>
<circle cx="431.5" cy="645.4" r="1.2" fill="#4c3a70"/>
<circle cx="437.8" cy="645.8" r="1.2" fill="#4c3a70"/>
<circle cx="447.5" cy="645.6" r="1.2" fill="#5e4a82"/>
<circle cx="454.1" cy="645.9" r="1.4" fill="#4c3a70"/>
<circle cx="457.6" cy="645.3" r="1.4" fill="#4c3a70"/>
<circle cx="463.7" cy="645.4" r="1" fill="#4c3a70"/>
<circle cx="466.2" cy="644.9" r="1.2" fill="#544078"/>
<circle cx="468.6" cy="644.9" r="1.4" fill="#6c5a90"/>
<circle cx="471.6" cy="645.5" r="1" fill="#6c5a90"/>
<circle cx="472.9" cy="645.1" r="1.1" fill="#4c3a70"/>
<circle cx="480.8" cy="645.5" r="1.3" fill="#544078"/>
<circle cx="490.4" cy="645.2" r="1.3" fill="#5e4a82"/>
<circle cx="494.5" cy="645.4" r="1.4" fill="#5e4a82"/>
<circle cx="502" cy="645.3" r="1" fill="#6c5a90"/>
<circle cx="503.6" cy="645" r="1.3" fill="#4c3a70"/>
<circle cx="505.8" cy="644.6" r="1.4" fill="#6c5a90"/>
<circle cx="508.4" cy="645.8" r="1.3" fill="#5e4a82"/>
<circle cx="510.9" cy="644.8" r="1.4" fill="#5e4a82"/>
<circle cx="513.3" cy="644.8" r="1.3" fill="#6c5a90"/>
<circle cx="408.5" cy="647.4" r="1.3" fill="#6c5a90"/>
<circle cx="410.4" cy="647.5" r="1.1" fill="#544078"/>
<circle cx="415.6" cy="647" r="1" fill="#6c5a90"/>
<circle cx="424.1" cy="647.7" r="1" fill="#5e4a82"/>
<circle cx="426.2" cy="647.8" r="1" fill="#544078"/>
<circle cx="429.6" cy="647.2" r="1" fill="#6c5a90"/>
<circle cx="432" cy="647.2" r="1.2" fill="#4c3a70"/>
<circle cx="436.8" cy="647.2" r="1.4" fill="#5e4a82"/>
<circle cx="439.1" cy="647.9" r="1" fill="#5e4a82"/>
<circle cx="443.5" cy="648" r="1.2" fill="#4c3a70"/>
<circle cx="445.3" cy="647.8" r="1" fill="#4c3a70"/>
<circle cx="450.2" cy="647.2" r="1.2" fill="#5e4a82"/>
<circle cx="453.3" cy="647.9" r="1.1" fill="#6c5a90"/>
<circle cx="455" cy="647.7" r="1.2" fill="#6c5a90"/>
<circle cx="457" cy="647.1" r="1.2" fill="#544078"/>
<circle cx="459.1" cy="647.2" r="1.1" fill="#544078"/>
<circle cx="466.5" cy="648.2" r="1.1" fill="#6c5a90"/>
<circle cx="475.6" cy="648.1" r="1.2" fill="#6c5a90"/>
<circle cx="478.1" cy="647.7" r="1" fill="#4c3a70"/>
<circle cx="481.2" cy="647.9" r="1.3" fill="#4c3a70"/>
<circle cx="485.8" cy="647.7" r="1.2" fill="#6c5a90"/>
<circle cx="492.8" cy="648" r="1" fill="#6c5a90"/>
<circle cx="494.6" cy="648.1" r="1.1" fill="#6c5a90"/>
<circle cx="500.2" cy="646.9" r="1.2" fill="#6c5a90"/>
<circle cx="506.4" cy="648" r="1.4" fill="#544078"/>
<circle cx="511.8" cy="647.6" r="1.1" fill="#4c3a70"/>
<circle cx="513.3" cy="647.2" r="1.2" fill="#4c3a70"/>
<circle cx="410.4" cy="650.1" r="1.2" fill="#4c3a70"/>
<circle cx="412.3" cy="649.4" r="1" fill="#544078"/>
<circle cx="422.4" cy="649.7" r="1.3" fill="#6c5a90"/>
<circle cx="429.1" cy="649.7" r="1.3" fill="#544078"/>
<circle cx="434.8" cy="650.2" r="1.3" fill="#544078"/>
<circle cx="448.3" cy="649.8" r="1.3" fill="#5e4a82"/>
<circle cx="450.2" cy="650.2" r="1" fill="#5e4a82"/>
<circle cx="464.2" cy="649.4" r="1.3" fill="#6c5a90"/>
<circle cx="467.6" cy="650" r="1.1" fill="#544078"/>
<circle cx="470.1" cy="649.5" r="1" fill="#4c3a70"/>
<circle cx="471.5" cy="649.6" r="1" fill="#6c5a90"/>
<circle cx="474" cy="649.4" r="1" fill="#5e4a82"/>
<circle cx="477" cy="649.4" r="1.3" fill="#544078"/>
<circle cx="478.2" cy="649.4" r="1.4" fill="#544078"/>
<circle cx="483.7" cy="650.3" r="1" fill="#4c3a70"/>
<circle cx="495.8" cy="650.2" r="1.4" fill="#6c5a90"/>
<circle cx="496.9" cy="650.1" r="1.3" fill="#4c3a70"/>
<circle cx="504.2" cy="650" r="1.4" fill="#4c3a70"/>
<circle cx="508.8" cy="649.3" r="1" fill="#6c5a90"/>
<circle cx="512.2" cy="650.6" r="1.2" fill="#544078"/>
<circle cx="513.9" cy="649.6" r="1" fill="#6c5a90"/>
<circle cx="415.7" cy="652.1" r="1.1" fill="#6c5a90"/>
<circle cx="417.6" cy="652.3" r="1.3" fill="#544078"/>
<circle cx="430.1" cy="652.2" r="1.1" fill="#544078"/>
<circle cx="438.4" cy="651.6" r="1.3" fill="#4c3a70"/>
<circle cx="444.4" cy="652" r="1.2" fill="#6c5a90"/>
<circle cx="446.3" cy="651.6" r="1.1" fill="#4c3a70"/>
<circle cx="447.7" cy="651.7" r="1.2" fill="#4c3a70"/>
<circle cx="452.4" cy="651.8" r="1.3" fill="#4c3a70"/>
<circle cx="458" cy="652.9" r="1.2" fill="#6c5a90"/>
<circle cx="462.2" cy="652.8" r="1" fill="#6c5a90"/>
<circle cx="467.7" cy="651.8" r="1.2" fill="#6c5a90"/>
<circle cx="470" cy="652.5" r="1.4" fill="#544078"/>
<circle cx="471.3" cy="652" r="1.1" fill="#5e4a82"/>
<circle cx="474" cy="652.1" r="1.4" fill="#4c3a70"/>
<circle cx="476.7" cy="651.9" r="1.2" fill="#6c5a90"/>
<circle cx="479.3" cy="651.9" r="1.1" fill="#6c5a90"/>
<circle cx="486.6" cy="652.7" r="1.4" fill="#544078"/>
<circle cx="490.3" cy="652.9" r="1.2" fill="#5e4a82"/>
<circle cx="495.7" cy="652.5" r="1.3" fill="#4c3a70"/>
<circle cx="498.4" cy="652.9" r="1.1" fill="#5e4a82"/>
<circle cx="502.2" cy="652.2" r="1.2" fill="#6c5a90"/>
<circle cx="506.8" cy="652.9" r="1.1" fill="#4c3a70"/>
<circle cx="509.8" cy="652.6" r="1.2" fill="#6c5a90"/>
<circle cx="511.2" cy="651.7" r="1" fill="#4c3a70"/>
<circle cx="412" cy="654.8" r="1.2" fill="#5e4a82"/>
<circle cx="414.6" cy="654.6" r="1.2" fill="#5e4a82"/>
<circle cx="421" cy="655.2" r="1.1" fill="#6c5a90"/>
<circle cx="431.5" cy="654.5" r="1.2" fill="#6c5a90"/>
<circle cx="436.2" cy="654.7" r="1.1" fill="#4c3a70"/>
<circle cx="437.4" cy="655.2" r="1.2" fill="#544078"/>
<circle cx="440.8" cy="655.3" r="1.2" fill="#4c3a70"/>
<circle cx="443.3" cy="654.1" r="1.4" fill="#5e4a82"/>
<circle cx="446.8" cy="655.2" r="1.3" fill="#5e4a82"/>
<circle cx="449.7" cy="654" r="1.3" fill="#4c3a70"/>
<circle cx="452.3" cy="654.7" r="1.2" fill="#544078"/>
<circle cx="464.3" cy="654.2" r="1" fill="#4c3a70"/>
<circle cx="466.8" cy="655.1" r="1.3" fill="#544078"/>
<circle cx="469.1" cy="655.1" r="1.2" fill="#5e4a82"/>
<circle cx="471.1" cy="654.4" r="1" fill="#6c5a90"/>
<circle cx="473.2" cy="654.1" r="1.1" fill="#6c5a90"/>
<circle cx="476.1" cy="654.4" r="1" fill="#4c3a70"/>
<circle cx="478.1" cy="655.3" r="1.3" fill="#5e4a82"/>
<circle cx="479.7" cy="655.3" r="1.2" fill="#5e4a82"/>
<circle cx="482.9" cy="654.7" r="1.3" fill="#6c5a90"/>
<circle cx="492.1" cy="654.9" r="1.2" fill="#6c5a90"/>
<circle cx="494.6" cy="655.1" r="1.3" fill="#544078"/>
<circle cx="503.6" cy="654.8" r="1.4" fill="#4c3a70"/>
<circle cx="505.6" cy="655.1" r="1" fill="#5e4a82"/>
<circle cx="507.9" cy="654.1" r="1" fill="#544078"/>
<circle cx="511.5" cy="654" r="1.2" fill="#5e4a82"/>
<circle cx="512.9" cy="655.3" r="1" fill="#544078"/>
<circle cx="515.7" cy="654.7" r="1.3" fill="#5e4a82"/>
<circle cx="410.3" cy="656.5" r="1" fill="#5e4a82"/>
<circle cx="420.2" cy="656.8" r="1.3" fill="#6c5a90"/>
<circle cx="423.8" cy="657.2" r="1" fill="#6c5a90"/>
<circle cx="435.9" cy="657.7" r="1" fill="#4c3a70"/>
<circle cx="438" cy="657.3" r="1.4" fill="#4c3a70"/>
<circle cx="440.3" cy="657.5" r="1" fill="#5e4a82"/>
<circle cx="443" cy="657" r="1" fill="#5e4a82"/>
<circle cx="446" cy="656.4" r="1.1" fill="#6c5a90"/>
<circle cx="447.7" cy="657" r="1" fill="#5e4a82"/>
<circle cx="457.7" cy="657.5" r="1.2" fill="#5e4a82"/>
<circle cx="462.2" cy="657.4" r="1.1" fill="#6c5a90"/>
<circle cx="466.8" cy="657" r="1.3" fill="#4c3a70"/>
<circle cx="468.5" cy="656.7" r="1" fill="#544078"/>
<circle cx="470.7" cy="657.4" r="1.3" fill="#4c3a70"/>
<circle cx="474.4" cy="657.2" r="1.2" fill="#544078"/>
<circle cx="476" cy="656.7" r="1.2" fill="#544078"/>
<circle cx="478.6" cy="656.5" r="1.4" fill="#5e4a82"/>
<circle cx="481.4" cy="656.9" r="1.2" fill="#6c5a90"/>
<circle cx="483.5" cy="656.8" r="1.3" fill="#6c5a90"/>
<circle cx="484.8" cy="657.1" r="1.4" fill="#6c5a90"/>
<circle cx="488.2" cy="657.2" r="1.4" fill="#4c3a70"/>
<circle cx="494.2" cy="657.5" r="1.2" fill="#544078"/>
<circle cx="497.7" cy="656.6" r="1" fill="#544078"/>
<circle cx="501.6" cy="657.7" r="1" fill="#544078"/>
<circle cx="504.6" cy="657.3" r="1.3" fill="#4c3a70"/>
<circle cx="506.2" cy="656.9" r="1.2" fill="#4c3a70"/>
<circle cx="509.6" cy="657.7" r="1.2" fill="#5e4a82"/>
<circle cx="510.8" cy="656.5" r="1" fill="#5e4a82"/>
<circle cx="514.2" cy="656.9" r="1.1" fill="#4c3a70"/>
<circle cx="408" cy="659.9" r="1.2" fill="#4c3a70"/>
<circle cx="410.3" cy="659.3" r="1.2" fill="#4c3a70"/>
<circle cx="413.2" cy="660" r="1.3" fill="#4c3a70"/>
<circle cx="418.1" cy="658.9" r="1.4" fill="#4c3a70"/>
<circle cx="425.1" cy="659.5" r="1.4" fill="#4c3a70"/>
<circle cx="426.4" cy="658.7" r="1.4" fill="#4c3a70"/>
<circle cx="429.2" cy="658.9" r="1.4" fill="#4c3a70"/>
<circle cx="440.3" cy="659.7" r="1.4" fill="#5e4a82"/>
<circle cx="443.5" cy="659.1" r="1.4" fill="#4c3a70"/>
<circle cx="445.1" cy="660.1" r="1.2" fill="#4c3a70"/>
<circle cx="447.7" cy="659.3" r="1.4" fill="#4c3a70"/>
<circle cx="449.8" cy="659.6" r="1.1" fill="#544078"/>
<circle cx="468.5" cy="659.2" r="1.4" fill="#6c5a90"/>
<circle cx="471.4" cy="659.5" r="1.2" fill="#5e4a82"/>
<circle cx="473.4" cy="659.3" r="1.3" fill="#5e4a82"/>
<circle cx="475.5" cy="659.7" r="1.2" fill="#5e4a82"/>
<circle cx="478.8" cy="659.3" r="1.1" fill="#544078"/>
<circle cx="480.2" cy="659.7" r="1" fill="#6c5a90"/>
<circle cx="485.6" cy="659.1" r="1" fill="#544078"/>
<circle cx="487.7" cy="658.7" r="1.2" fill="#5e4a82"/>
<circle cx="490.1" cy="659.9" r="1" fill="#5e4a82"/>
<circle cx="492.6" cy="659.9" r="1.1" fill="#6c5a90"/>
<circle cx="501.4" cy="660" r="1.3" fill="#6c5a90"/>
<circle cx="506.5" cy="659.5" r="1.1" fill="#6c5a90"/>
<circle cx="509" cy="659.6" r="1.2" fill="#5e4a82"/>
<circle cx="510.9" cy="659.5" r="1.2" fill="#544078"/>
<circle cx="513.5" cy="658.7" r="1" fill="#5e4a82"/>
<circle cx="411" cy="662.1" r="1.1" fill="#6c5a90"/>
<circle cx="415.4" cy="661.3" r="1.2" fill="#544078"/>
<circle cx="418.5" cy="661.4" r="1" fill="#544078"/>
<circle cx="420.1" cy="661.8" r="1" fill="#544078"/>
<circle cx="422.3" cy="661.4" r="1.4" fill="#4c3a70"/>
<circle cx="424.9" cy="661.3" r="1.1" fill="#544078"/>
<circle cx="426.7" cy="661.9" r="1" fill="#4c3a70"/>
<circle cx="429.4" cy="661.1" r="1" fill="#4c3a70"/>
<circle cx="438.7" cy="662" r="1.4" fill="#6c5a90"/>
<circle cx="441.2" cy="661.5" r="1.1" fill="#544078"/>
<circle cx="443.4" cy="661.2" r="1.2" fill="#6c5a90"/>
<circle cx="446.6" cy="661.6" r="1" fill="#544078"/>
<circle cx="447.8" cy="662.3" r="1.2" fill="#544078"/>
<circle cx="457.3" cy="661.9" r="1" fill="#4c3a70"/>
<circle cx="472.3" cy="661.6" r="1.1" fill="#544078"/>
<circle cx="474.2" cy="661.8" r="1" fill="#4c3a70"/>
<circle cx="476.4" cy="662.2" r="1.1" fill="#5e4a82"/>
<circle cx="478.8" cy="661.4" r="1.1" fill="#4c3a70"/>
<circle cx="480.8" cy="661" r="1.1" fill="#5e4a82"/>
<circle cx="483.1" cy="661.2" r="1.3" fill="#4c3a70"/>
<circle cx="485.5" cy="661.2" r="1.4" fill="#544078"/>
<circle cx="488.1" cy="661.6" r="1.1" fill="#6c5a90"/>
<circle cx="491.2" cy="662.3" r="1.2" fill="#5e4a82"/>
<circle cx="492.7" cy="661.1" r="1.4" fill="#4c3a70"/>
<circle cx="495" cy="661.4" r="1.3" fill="#4c3a70"/>
<circle cx="497.1" cy="661.6" r="1.2" fill="#5e4a82"/>
<circle cx="502.3" cy="662.3" r="1.1" fill="#544078"/>
<circle cx="506.7" cy="661.5" r="1" fill="#5e4a82"/>
<circle cx="509.9" cy="661.1" r="1.3" fill="#544078"/>
<circle cx="512.2" cy="662.2" r="1.2" fill="#5e4a82"/>
<circle cx="513.8" cy="662.2" r="1.3" fill="#5e4a82"/>
<circle cx="408.6" cy="663.6" r="1.1" fill="#4c3a70"/>
<circle cx="410.5" cy="664" r="1.1" fill="#6c5a90"/>
<circle cx="412.7" cy="664.5" r="1.2" fill="#6c5a90"/>
<circle cx="418.4" cy="663.7" r="1.3" fill="#544078"/>
<circle cx="420.3" cy="663.6" r="1.2" fill="#4c3a70"/>
<circle cx="423.2" cy="664.4" r="1.3" fill="#544078"/>
<circle cx="425.2" cy="663.7" r="1" fill="#4c3a70"/>
<circle cx="427" cy="664.3" r="1.2" fill="#544078"/>
<circle cx="429.2" cy="663.7" r="1" fill="#4c3a70"/>
<circle cx="438.4" cy="663.5" r="1.1" fill="#6c5a90"/>
<circle cx="440.8" cy="663.6" r="1.2" fill="#544078"/>
<circle cx="445.8" cy="664.5" r="1.3" fill="#5e4a82"/>
<circle cx="448.7" cy="664.5" r="1" fill="#4c3a70"/>
<circle cx="450.1" cy="664.5" r="1.2" fill="#544078"/>
<circle cx="467" cy="664.7" r="1.1" fill="#544078"/>
<circle cx="469.5" cy="664.2" r="1" fill="#5e4a82"/>
<circle cx="471.2" cy="663.9" r="1" fill="#5e4a82"/>
<circle cx="474.1" cy="664" r="1.2" fill="#6c5a90"/>
<circle cx="477.1" cy="664.3" r="1.4" fill="#5e4a82"/>
<circle cx="478.5" cy="664.4" r="1" fill="#4c3a70"/>
<circle cx="480.8" cy="663.9" r="1.2" fill="#544078"/>
<circle cx="482.9" cy="664.5" r="1.4" fill="#6c5a90"/>
<circle cx="486.6" cy="663.9" r="1.4" fill="#544078"/>
<circle cx="487.8" cy="663.4" r="1.3" fill="#4c3a70"/>
<circle cx="490.8" cy="664.3" r="1.1" fill="#5e4a82"/>
<circle cx="499.7" cy="663.9" r="1.1" fill="#5e4a82"/>
<circle cx="508.9" cy="663.7" r="1" fill="#4c3a70"/>
<circle cx="513.5" cy="663.4" r="1.1" fill="#6c5a90"/>
<circle cx="408.7" cy="666" r="1.3" fill="#544078"/>
<circle cx="411" cy="665.8" r="1.3" fill="#6c5a90"/>
<circle cx="412.6" cy="666.2" r="1.1" fill="#5e4a82"/>
<circle cx="415.8" cy="666.8" r="1" fill="#544078"/>
<circle cx="417.7" cy="667" r="1.1" fill="#5e4a82"/>
<circle cx="422.9" cy="666" r="1.4" fill="#5e4a82"/>
<circle cx="424.3" cy="666.3" r="1" fill="#544078"/>
<circle cx="426.7" cy="666.2" r="1" fill="#544078"/>
<circle cx="432.2" cy="666.6" r="1" fill="#4c3a70"/>
<circle cx="434.8" cy="666.9" r="1.4" fill="#5e4a82"/>
<circle cx="437.1" cy="666.4" r="1.3" fill="#544078"/>
<circle cx="441.6" cy="666.4" r="1.4" fill="#5e4a82"/>
<circle cx="443.4" cy="666.9" r="1.3" fill="#6c5a90"/>
<circle cx="445.9" cy="665.8" r="1.1" fill="#4c3a70"/>
<circle cx="448.6" cy="665.9" r="1.1" fill="#544078"/>
<circle cx="452.7" cy="666.1" r="1.2" fill="#6c5a90"/>
<circle cx="460.8" cy="666.7" r="1.3" fill="#4c3a70"/>
<circle cx="464.4" cy="666.4" r="1.1" fill="#544078"/>
<circle cx="466.5" cy="666" r="1" fill="#544078"/>
<circle cx="471.4" cy="666" r="1.2" fill="#4c3a70"/>
<circle cx="475.9" cy="667.1" r="1.3" fill="#5e4a82"/>
<circle cx="479.2" cy="666.1" r="1" fill="#5e4a82"/>
<circle cx="481" cy="666.5" r="1.2" fill="#5e4a82"/>
<circle cx="483.8" cy="666.6" r="1.2" fill="#544078"/>
<circle cx="485.6" cy="666.8" r="1" fill="#4c3a70"/>
<circle cx="487.6" cy="666.1" r="1.1" fill="#4c3a70"/>
<circle cx="490.5" cy="666.5" r="1.1" fill="#4c3a70"/>
<circle cx="493.1" cy="666.2" r="1.1" fill="#544078"/>
<circle cx="494.6" cy="665.7" r="1.1" fill="#544078"/>
<circle cx="501.9" cy="665.8" r="1" fill="#544078"/>
<circle cx="504.3" cy="666" r="1" fill="#5e4a82"/>
<circle cx="508.8" cy="666.9" r="1.2" fill="#544078"/>
<circle cx="407.5" cy="669.1" r="1" fill="#544078"/>
<circle cx="410.5" cy="668.5" r="1.3" fill="#544078"/>
<circle cx="413" cy="669" r="1.2" fill="#6c5a90"/>
<circle cx="416.8" cy="668.4" r="1" fill="#544078"/>
<circle cx="424" cy="668.3" r="1.4" fill="#6c5a90"/>
<circle cx="429.3" cy="668.9" r="1.3" fill="#6c5a90"/>
<circle cx="431.6" cy="668.4" r="1.3" fill="#4c3a70"/>
<circle cx="433.7" cy="669.1" r="1.1" fill="#4c3a70"/>
<circle cx="440.6" cy="668.8" r="1.3" fill="#6c5a90"/>
<circle cx="442.9" cy="668.9" r="1.1" fill="#5e4a82"/>
<circle cx="450" cy="668.8" r="1.1" fill="#4c3a70"/>
<circle cx="459.8" cy="668.2" r="1.3" fill="#544078"/>
<circle cx="464.8" cy="669" r="1.2" fill="#6c5a90"/>
<circle cx="467.1" cy="669.3" r="1" fill="#6c5a90"/>
<circle cx="471.9" cy="668.8" r="1" fill="#544078"/>
<circle cx="473.8" cy="668.2" r="1.4" fill="#5e4a82"/>
<circle cx="476.5" cy="668.5" r="1.4" fill="#6c5a90"/>
<circle cx="484.9" cy="668.7" r="1" fill="#5e4a82"/>
<circle cx="487.1" cy="669.2" r="1.2" fill="#544078"/>
<circle cx="490" cy="668.9" r="1.1" fill="#5e4a82"/>
<circle cx="492" cy="668.5" r="1.1" fill="#4c3a70"/>
<circle cx="497.9" cy="669.3" r="1.2" fill="#544078"/>
<circle cx="503.7" cy="669.1" r="1.1" fill="#5e4a82"/>
<circle cx="509.3" cy="668.7" r="1.1" fill="#544078"/>
<circle cx="510.6" cy="669" r="1" fill="#5e4a82"/>
<circle cx="513.4" cy="668.3" r="1.3" fill="#4c3a70"/>
<circle cx="412.1" cy="671.7" r="1.2" fill="#544078"/>
<circle cx="415.7" cy="670.4" r="1.2" fill="#6c5a90"/>
<circle cx="417.1" cy="671.6" r="1.2" fill="#544078"/>
<circle cx="420.4" cy="670.9" r="1.3" fill="#4c3a70"/>
<circle cx="421.6" cy="671.1" r="1.1" fill="#4c3a70"/>
<circle cx="424.9" cy="671" r="1" fill="#4c3a70"/>
<circle cx="428.8" cy="671.1" r="1.2" fill="#5e4a82"/>
<circle cx="434.2" cy="670.9" r="1" fill="#4c3a70"/>
<circle cx="435.9" cy="670.5" r="1.2" fill="#4c3a70"/>
<circle cx="439.2" cy="671.8" r="1" fill="#6c5a90"/>
<circle cx="443.9" cy="670.5" r="1.3" fill="#544078"/>
<circle cx="459.4" cy="670.8" r="1.2" fill="#6c5a90"/>
<circle cx="464" cy="671.5" r="1.3" fill="#544078"/>
<circle cx="466.3" cy="671.1" r="1" fill="#4c3a70"/>
<circle cx="483.9" cy="670.6" r="1.3" fill="#5e4a82"/>
<circle cx="488" cy="670.8" r="1.1" fill="#6c5a90"/>
<circle cx="490.2" cy="671.5" r="1.2" fill="#544078"/>
<circle cx="493.1" cy="671.2" r="1.3" fill="#6c5a90"/>
<circle cx="495.5" cy="671.7" r="1.4" fill="#6c5a90"/>
<circle cx="498" cy="670.4" r="1.2" fill="#5e4a82"/>
<circle cx="504.9" cy="670.9" r="1" fill="#544078"/>
<circle cx="511.4" cy="670.9" r="1" fill="#544078"/>
<circle cx="513.3" cy="671" r="1.3" fill="#6c5a90"/>
<circle cx="413" cy="672.8" r="1.1" fill="#5e4a82"/>
<circle cx="415.7" cy="673.9" r="1.2" fill="#544078"/>
<circle cx="417.5" cy="673.9" r="1.3" fill="#6c5a90"/>
<circle cx="421.7" cy="673.4" r="1.3" fill="#4c3a70"/>
<circle cx="425.3" cy="673.3" r="1.2" fill="#4c3a70"/>
<circle cx="431.2" cy="673.8" r="1.3" fill="#544078"/>
<circle cx="433.9" cy="673.4" r="1.3" fill="#6c5a90"/>
<circle cx="438.6" cy="673.1" r="1" fill="#6c5a90"/>
<circle cx="443.6" cy="674.1" r="1" fill="#4c3a70"/>
<circle cx="453.3" cy="673.6" r="1.3" fill="#6c5a90"/>
<circle cx="455.9" cy="673.5" r="1.3" fill="#5e4a82"/>
<circle cx="457.9" cy="673.9" r="1.3" fill="#5e4a82"/>
<circle cx="459.6" cy="673.7" r="1.4" fill="#4c3a70"/>
<circle cx="462.9" cy="673.6" r="1" fill="#6c5a90"/>
<circle cx="465.4" cy="673.7" r="1" fill="#6c5a90"/>
<circle cx="466.5" cy="673.8" r="1.2" fill="#5e4a82"/>
<circle cx="471.2" cy="673.5" r="1.1" fill="#5e4a82"/>
<circle cx="486.3" cy="673.6" r="1.3" fill="#4c3a70"/>
<circle cx="488" cy="673" r="1.1" fill="#6c5a90"/>
<circle cx="491.1" cy="674.1" r="1" fill="#544078"/>
<circle cx="494.6" cy="674.1" r="1" fill="#4c3a70"/>
<circle cx="497" cy="673.1" r="1.2" fill="#5e4a82"/>
<circle cx="410.7" cy="676.3" r="1.3" fill="#4c3a70"/>
<circle cx="412.3" cy="676.4" r="1.2" fill="#544078"/>
<circle cx="414.8" cy="676.4" r="1.1" fill="#5e4a82"/>
<circle cx="418.1" cy="675.5" r="1.2" fill="#544078"/>
<circle cx="420.6" cy="676.1" r="1.1" fill="#5e4a82"/>
<circle cx="421.6" cy="676" r="1.3" fill="#544078"/>
<circle cx="425.3" cy="676.3" r="1.1" fill="#544078"/>
<circle cx="427.6" cy="675.6" r="1.4" fill="#6c5a90"/>
<circle cx="434.1" cy="675.3" r="1.2" fill="#5e4a82"/>
<circle cx="436.3" cy="675.6" r="1.1" fill="#5e4a82"/>
<circle cx="438.5" cy="676.1" r="1" fill="#4c3a70"/>
<circle cx="447.9" cy="676.5" r="1.3" fill="#5e4a82"/>
<circle cx="453.3" cy="676.4" r="1.3" fill="#544078"/>
<circle cx="455" cy="676.5" r="1.1" fill="#6c5a90"/>
<circle cx="457" cy="675.2" r="1" fill="#6c5a90"/>
<circle cx="460" cy="675.9" r="1.2" fill="#4c3a70"/>
<circle cx="464.9" cy="675.3" r="1.1" fill="#544078"/>
<circle cx="471.9" cy="676.1" r="1.1" fill="#4c3a70"/>
<circle cx="476" cy="675.2" r="1.2" fill="#4c3a70"/>
<circle cx="488.3" cy="676.2" r="1.2" fill="#6c5a90"/>
<circle cx="490.3" cy="676.2" r="1.2" fill="#4c3a70"/>
<circle cx="498" cy="676.1" r="1.3" fill="#5e4a82"/>
<circle cx="513.7" cy="676.4" r="1.2" fill="#6c5a90"/>
<circle cx="409" cy="677.9" r="1.2" fill="#5e4a82"/>
<circle cx="412.7" cy="678.8" r="1.1" fill="#4c3a70"/>
<circle cx="416" cy="678" r="1.2" fill="#544078"/>
<circle cx="417.5" cy="677.4" r="1.4" fill="#6c5a90"/>
<circle cx="419.6" cy="678.6" r="1.3" fill="#6c5a90"/>
<circle cx="433.6" cy="677.9" r="1" fill="#5e4a82"/>
<circle cx="436" cy="677.6" r="1.4" fill="#5e4a82"/>
<circle cx="438.6" cy="677.5" r="1" fill="#544078"/>
<circle cx="441.2" cy="678.7" r="1.2" fill="#6c5a90"/>
<circle cx="443.5" cy="678.8" r="1" fill="#544078"/>
<circle cx="445.4" cy="677.7" r="1.3" fill="#4c3a70"/>
<circle cx="448.9" cy="677.4" r="1.2" fill="#5e4a82"/>
<circle cx="451.1" cy="677.6" r="1.1" fill="#544078"/>
<circle cx="453.4" cy="678.5" r="1.4" fill="#5e4a82"/>
<circle cx="455.9" cy="678.2" r="1.1" fill="#4c3a70"/>
<circle cx="462.6" cy="678.4" r="1.4" fill="#5e4a82"/>
<circle cx="467.1" cy="677.5" r="1.4" fill="#544078"/>
<circle cx="470.1" cy="678.2" r="1.2" fill="#5e4a82"/>
<circle cx="474" cy="678.5" r="1.1" fill="#6c5a90"/>
<circle cx="481.5" cy="678.6" r="1" fill="#4c3a70"/>
<circle cx="483.2" cy="678.7" r="1.2" fill="#6c5a90"/>
<circle cx="488.8" cy="677.7" r="1.1" fill="#5e4a82"/>
<circle cx="490.5" cy="677.9" r="1" fill="#544078"/>
<circle cx="493.4" cy="678.7" r="1.1" fill="#544078"/>
<circle cx="502.4" cy="678.8" r="1.2" fill="#6c5a90"/>
<circle cx="409.8" cy="680.9" r="1.2" fill="#4c3a70"/>
<circle cx="411.8" cy="680.2" r="1.1" fill="#4c3a70"/>
<circle cx="414.9" cy="680.9" r="1.3" fill="#544078"/>
<circle cx="417.2" cy="681" r="1" fill="#6c5a90"/>
<circle cx="419.7" cy="679.9" r="1" fill="#6c5a90"/>
<circle cx="421.5" cy="680.3" r="1" fill="#5e4a82"/>
<circle cx="423.3" cy="680.6" r="1.1" fill="#6c5a90"/>
<circle cx="428.7" cy="680.7" r="1.1" fill="#4c3a70"/>
<circle cx="430.5" cy="680.8" r="1" fill="#4c3a70"/>
<circle cx="433.4" cy="680.7" r="1.2" fill="#6c5a90"/>
<circle cx="435.4" cy="680.7" r="1.2" fill="#5e4a82"/>
<circle cx="438" cy="681.2" r="1" fill="#5e4a82"/>
<circle cx="442.8" cy="680.5" r="1.3" fill="#4c3a70"/>
<circle cx="445.3" cy="680.9" r="1.4" fill="#4c3a70"/>
<circle cx="447.8" cy="681" r="1.3" fill="#6c5a90"/>
<circle cx="450" cy="680.2" r="1.3" fill="#4c3a70"/>
<circle cx="452.1" cy="680.5" r="1" fill="#4c3a70"/>
<circle cx="453.7" cy="681.1" r="1.2" fill="#5e4a82"/>
<circle cx="456.1" cy="679.9" r="1.3" fill="#4c3a70"/>
<circle cx="459.6" cy="679.9" r="1.3" fill="#6c5a90"/>
<circle cx="460.8" cy="680.1" r="1.1" fill="#5e4a82"/>
<circle cx="463.3" cy="680.3" r="1.2" fill="#544078"/>
<circle cx="471.3" cy="680.7" r="1" fill="#4c3a70"/>
<circle cx="482.3" cy="680.3" r="1" fill="#544078"/>
<circle cx="484.2" cy="680.1" r="1" fill="#544078"/>
<circle cx="487.8" cy="679.9" r="1.3" fill="#5e4a82"/>
<circle cx="489.7" cy="680.4" r="1.3" fill="#6c5a90"/>
<circle cx="492.5" cy="680.2" r="1" fill="#544078"/>
<circle cx="493.6" cy="680.3" r="1.3" fill="#4c3a70"/>
<circle cx="496.4" cy="680.6" r="1.3" fill="#4c3a70"/>
<circle cx="506.2" cy="680.7" r="1.2" fill="#4c3a70"/>
<circle cx="510.8" cy="680.9" r="1" fill="#6c5a90"/>
<circle cx="514.7" cy="679.8" r="1.1" fill="#544078"/>
<circle cx="407.3" cy="682.9" r="1.1" fill="#6c5a90"/>
<circle cx="414.8" cy="682.4" r="1.3" fill="#4c3a70"/>
<circle cx="416.6" cy="682.2" r="1.2" fill="#5e4a82"/>
<circle cx="419.3" cy="682.3" r="1.4" fill="#544078"/>
<circle cx="421.5" cy="682.6" r="1.2" fill="#4c3a70"/>
<circle cx="424.1" cy="682.6" r="1.3" fill="#544078"/>
<circle cx="432.8" cy="682.6" r="1.4" fill="#6c5a90"/>
<circle cx="435.5" cy="683.5" r="1.3" fill="#4c3a70"/>
<circle cx="437.2" cy="682.6" r="1.2" fill="#4c3a70"/>
<circle cx="439.7" cy="682.3" r="1.3" fill="#4c3a70"/>
<circle cx="442" cy="682.7" r="1" fill="#4c3a70"/>
<circle cx="445.5" cy="682.6" r="1.4" fill="#6c5a90"/>
<circle cx="447.4" cy="683.2" r="1.2" fill="#6c5a90"/>
<circle cx="449.3" cy="682.9" r="1.4" fill="#5e4a82"/>
<circle cx="452.1" cy="682.8" r="1.3" fill="#6c5a90"/>
<circle cx="454.8" cy="682.8" r="1" fill="#4c3a70"/>
<circle cx="456.5" cy="683.3" r="1.3" fill="#4c3a70"/>
<circle cx="458.4" cy="682.2" r="1" fill="#5e4a82"/>
<circle cx="466.7" cy="682.8" r="1.1" fill="#544078"/>
<circle cx="473.2" cy="682.2" r="1.3" fill="#5e4a82"/>
<circle cx="477.6" cy="683.5" r="1.1" fill="#5e4a82"/>
<circle cx="479.6" cy="682.5" r="1.1" fill="#6c5a90"/>
<circle cx="490.2" cy="682.4" r="1.1" fill="#6c5a90"/>
<circle cx="492" cy="683.2" r="1.3" fill="#544078"/>
<circle cx="494.2" cy="683" r="1.2" fill="#6c5a90"/>
<circle cx="496.8" cy="683" r="1" fill="#5e4a82"/>
<circle cx="498.9" cy="682.2" r="1.4" fill="#544078"/>
<circle cx="501.7" cy="683.4" r="1.4" fill="#5e4a82"/>
<circle cx="505.9" cy="683" r="1.3" fill="#4c3a70"/>
<circle cx="508.3" cy="683.4" r="1.3" fill="#5e4a82"/>
<circle cx="510.1" cy="682.2" r="1.1" fill="#4c3a70"/>
<circle cx="512.8" cy="683.3" r="1.3" fill="#544078"/>
<circle cx="514.9" cy="682.5" r="1.3" fill="#6c5a90"/>
<circle cx="408" cy="685.7" r="1.4" fill="#6c5a90"/>
<circle cx="410" cy="684.8" r="1.1" fill="#6c5a90"/>
<circle cx="412.8" cy="684.7" r="1.3" fill="#6c5a90"/>
<circle cx="414.7" cy="685.7" r="1.1" fill="#544078"/>
<circle cx="417.2" cy="685.8" r="1.1" fill="#544078"/>
<circle cx="419.1" cy="685.7" r="1.3" fill="#544078"/>
<circle cx="423.8" cy="685.8" r="1.3" fill="#6c5a90"/>
<circle cx="428.1" cy="684.8" r="1" fill="#4c3a70"/>
<circle cx="430.9" cy="684.5" r="1.2" fill="#4c3a70"/>
<circle cx="432.8" cy="685.7" r="1.4" fill="#5e4a82"/>
<circle cx="435.7" cy="685.3" r="1.1" fill="#6c5a90"/>
<circle cx="437.7" cy="685.8" r="1.1" fill="#4c3a70"/>
<circle cx="442.8" cy="685" r="1" fill="#544078"/>
<circle cx="444.7" cy="684.9" r="1" fill="#5e4a82"/>
<circle cx="447.2" cy="685.2" r="1.3" fill="#6c5a90"/>
<circle cx="449.3" cy="685.3" r="1.1" fill="#544078"/>
<circle cx="452.2" cy="684.9" r="1.3" fill="#5e4a82"/>
<circle cx="475.6" cy="685.2" r="1.1" fill="#6c5a90"/>
<circle cx="478.3" cy="684.8" r="1.3" fill="#5e4a82"/>
<circle cx="480.8" cy="685.1" r="1.2" fill="#5e4a82"/>
<circle cx="483" cy="684.6" r="1" fill="#6c5a90"/>
<circle cx="485.8" cy="684.8" r="1.1" fill="#5e4a82"/>
<circle cx="488.1" cy="685.8" r="1" fill="#544078"/>
<circle cx="489.5" cy="685.7" r="1.2" fill="#4c3a70"/>
<circle cx="492.5" cy="684.7" r="1.2" fill="#544078"/>
<circle cx="494.8" cy="684.8" r="1.4" fill="#544078"/>
<circle cx="496.8" cy="685.9" r="1" fill="#5e4a82"/>
<circle cx="499.9" cy="685" r="1.1" fill="#5e4a82"/>
<circle cx="502.1" cy="685" r="1" fill="#544078"/>
<circle cx="504.1" cy="685" r="1" fill="#544078"/>
<circle cx="506.7" cy="684.9" r="1.3" fill="#544078"/>
<circle cx="508.7" cy="685.3" r="1.2" fill="#6c5a90"/>
<circle cx="511.5" cy="685.4" r="1.2" fill="#4c3a70"/>
<circle cx="513.3" cy="685.1" r="1.4" fill="#6c5a90"/>
<circle cx="515.5" cy="685.5" r="1.2" fill="#544078"/>
<circle cx="407.5" cy="687.4" r="1" fill="#4c3a70"/>
<circle cx="410" cy="687" r="1" fill="#5e4a82"/>
<circle cx="414.6" cy="688.1" r="1" fill="#4c3a70"/>
<circle cx="417.9" cy="687.5" r="1.3" fill="#544078"/>
<circle cx="419.8" cy="687.8" r="1.2" fill="#4c3a70"/>
<circle cx="421.5" cy="687.2" r="1.1" fill="#4c3a70"/>
<circle cx="424.7" cy="687.2" r="1.1" fill="#4c3a70"/>
<circle cx="427.1" cy="687.8" r="1.3" fill="#5e4a82"/>
<circle cx="428.9" cy="687.1" r="1.4" fill="#6c5a90"/>
<circle cx="433.5" cy="688.1" r="1.3" fill="#5e4a82"/>
<circle cx="435.8" cy="688.1" r="1.1" fill="#4c3a70"/>
<circle cx="438.4" cy="688.1" r="1.1" fill="#5e4a82"/>
<circle cx="441.2" cy="688.1" r="1" fill="#5e4a82"/>
<circle cx="442.5" cy="687.3" r="1.2" fill="#544078"/>
<circle cx="445.1" cy="687.3" r="1.2" fill="#5e4a82"/>
<circle cx="447.9" cy="688" r="1.1" fill="#4c3a70"/>
<circle cx="450.7" cy="687.6" r="1.1" fill="#6c5a90"/>
<circle cx="452.6" cy="687.2" r="1.3" fill="#6c5a90"/>
<circle cx="454.6" cy="688" r="1.3" fill="#544078"/>
<circle cx="457.5" cy="687.4" r="1" fill="#6c5a90"/>
<circle cx="460.1" cy="687.6" r="1" fill="#5e4a82"/>
<circle cx="461.6" cy="687.7" r="1.3" fill="#4c3a70"/>
<circle cx="464.4" cy="688" r="1.1" fill="#544078"/>
<circle cx="466.1" cy="687.9" r="1.4" fill="#6c5a90"/>
<circle cx="470.7" cy="688" r="1.2" fill="#4c3a70"/>
<circle cx="478" cy="688.1" r="1.4" fill="#544078"/>
<circle cx="485.3" cy="687.8" r="1.1" fill="#544078"/>
<circle cx="487.4" cy="687.7" r="1.3" fill="#5e4a82"/>
<circle cx="490.6" cy="687.3" r="1" fill="#6c5a90"/>
<circle cx="492.1" cy="687.5" r="1.1" fill="#544078"/>
<circle cx="494.1" cy="687.8" r="1.1" fill="#4c3a70"/>
<circle cx="497" cy="687.6" r="1.3" fill="#6c5a90"/>
<circle cx="499.2" cy="688.1" r="1.2" fill="#5e4a82"/>
<circle cx="501.4" cy="687.5" r="1" fill="#6c5a90"/>
<circle cx="504.4" cy="687.7" r="1.3" fill="#6c5a90"/>
<circle cx="508.7" cy="687.7" r="1.2" fill="#5e4a82"/>
<circle cx="511.1" cy="687.4" r="1.3" fill="#5e4a82"/>
<circle cx="514.3" cy="687.6" r="1.2" fill="#4c3a70"/>
<circle cx="515.4" cy="687.8" r="1.4" fill="#4c3a70"/>
<circle cx="445.6" cy="634.1" r="8" fill="#e9d6e4"/>
<circle cx="445.6" cy="634.1" r="6.2" fill="#e0607e"/>
</g></g>
<line x1="388.1" y1="683.3" x2="397.6" y2="683.3" stroke="#111" stroke-width="1.4"/>
<line x1="501" y1="682.4" x2="509.9" y2="682.4" stroke="#111" stroke-width="1.4"/>
<rect x="389.5" y="679.2" width="7" height="1.6" fill="#6a6a7a"/>
<rect x="502" y="678.8" width="7" height="1.6" fill="#6a6a7a"/>
</svg>
</body></html>
